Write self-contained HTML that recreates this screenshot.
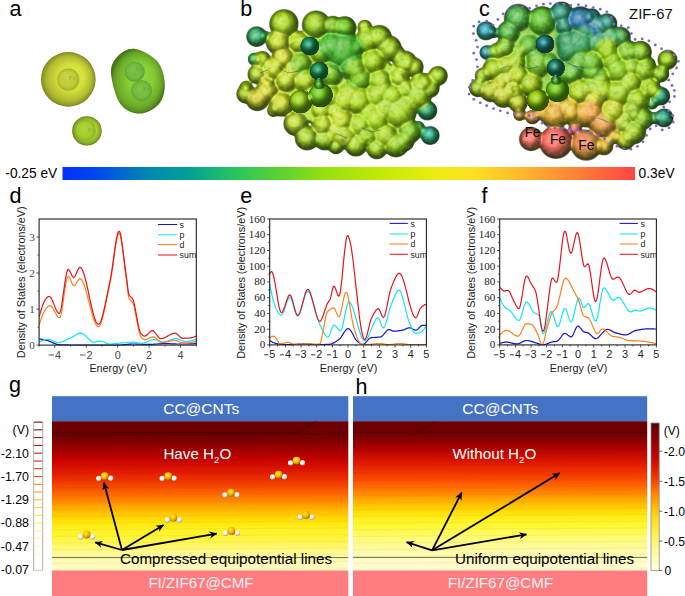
<!DOCTYPE html>
<html><head><meta charset="utf-8"><title>figure</title>
<style>html,body{margin:0;padding:0;background:#fff;overflow:hidden}svg{display:block;font-family:"Liberation Sans",sans-serif}text{font-family:"Liberation Sans",sans-serif}.se{font-family:"Liberation Serif",serif}</style></head><body>
<svg width="685" height="596" viewBox="0 0 685 596">
<defs>
<linearGradient id="cbar" x1="0" x2="1" y1="0" y2="0">
<stop offset="0" stop-color="#0030ff"/><stop offset="0.06" stop-color="#0048ee"/><stop offset="0.15" stop-color="#0088b0"/><stop offset="0.22" stop-color="#00a098"/>
<stop offset="0.30" stop-color="#28c460"/><stop offset="0.38" stop-color="#5cd230"/><stop offset="0.46" stop-color="#96e010"/><stop offset="0.56" stop-color="#c4ea04"/>
<stop offset="0.65" stop-color="#ecec10"/><stop offset="0.72" stop-color="#ffe020"/><stop offset="0.80" stop-color="#ffb82c"/><stop offset="0.88" stop-color="#ff8c34"/><stop offset="1" stop-color="#ff4444"/>
</linearGradient>
<linearGradient id="pot" x1="0" x2="0" y1="0" y2="1"><stop offset="0" stop-color="#6a0000"/><stop offset="0.0801" stop-color="#6c0000"/><stop offset="0.1275" stop-color="#7c0000"/><stop offset="0.1722" stop-color="#960000"/><stop offset="0.2176" stop-color="#b00000"/><stop offset="0.2623" stop-color="#c80400"/><stop offset="0.3071" stop-color="#d81000"/><stop offset="0.3518" stop-color="#e42000"/><stop offset="0.3965" stop-color="#ee3400"/><stop offset="0.4413" stop-color="#f64c00"/><stop offset="0.486" stop-color="#fc6800"/><stop offset="0.5387" stop-color="#ff8c00"/><stop offset="0.5834" stop-color="#ffb000"/><stop offset="0.6282" stop-color="#ffcc00"/><stop offset="0.6729" stop-color="#ffe408"/><stop offset="0.7183" stop-color="#fff020"/><stop offset="0.763" stop-color="#fff430"/><stop offset="0.8077" stop-color="#fff650"/><stop offset="0.8525" stop-color="#fff878"/><stop offset="0.8879" stop-color="#fffa98"/><stop offset="0.9413" stop-color="#fffcb8"/><stop offset="1" stop-color="#fffcc0"/></linearGradient>
<linearGradient id="pot2" x1="0" x2="0" y1="0" y2="1"><stop offset="0" stop-color="#6c0000"/><stop offset="0.0801" stop-color="#6e0000"/><stop offset="0.1275" stop-color="#8a0000"/><stop offset="0.1722" stop-color="#a80000"/><stop offset="0.2176" stop-color="#c40800"/><stop offset="0.2623" stop-color="#d81400"/><stop offset="0.3071" stop-color="#e82400"/><stop offset="0.3518" stop-color="#f43800"/><stop offset="0.3965" stop-color="#fa5000"/><stop offset="0.4413" stop-color="#ff6c00"/><stop offset="0.486" stop-color="#ff8c00"/><stop offset="0.5387" stop-color="#ffb400"/><stop offset="0.5834" stop-color="#ffd000"/><stop offset="0.6282" stop-color="#ffe810"/><stop offset="0.6729" stop-color="#fff428"/><stop offset="0.7183" stop-color="#fff840"/><stop offset="0.763" stop-color="#fffa68"/><stop offset="0.8077" stop-color="#fffa88"/><stop offset="0.8525" stop-color="#fffaa0"/><stop offset="0.8879" stop-color="#fffbb0"/><stop offset="0.9413" stop-color="#fffcc8"/><stop offset="1" stop-color="#fffdd0"/></linearGradient>
<linearGradient id="vbar" x1="0" x2="0" y1="0" y2="1">
<stop offset="0" stop-color="#5a0000"/><stop offset="0.12" stop-color="#900000"/><stop offset="0.25" stop-color="#cc0800"/>
<stop offset="0.36" stop-color="#ee3000"/><stop offset="0.46" stop-color="#ff7800"/><stop offset="0.56" stop-color="#ffb800"/>
<stop offset="0.66" stop-color="#ffe020"/><stop offset="0.80" stop-color="#fff670"/><stop offset="0.92" stop-color="#fffcb8"/><stop offset="1" stop-color="#ffffe8"/>
</linearGradient>
<radialGradient id="gO" cx="0.4" cy="0.35" r="0.7"><stop offset="0" stop-color="#ffee50"/><stop offset="0.4" stop-color="#ffc800"/><stop offset="0.8" stop-color="#d48c00"/><stop offset="1" stop-color="#8a5800"/></radialGradient>
<radialGradient id="gH" cx="0.4" cy="0.35" r="0.7"><stop offset="0" stop-color="#ffffff"/><stop offset="0.55" stop-color="#ececec"/><stop offset="1" stop-color="#8c8c8c"/></radialGradient>
<marker id="ah" viewBox="0 0 10 10" refX="9.4" refY="5" markerWidth="8.4" markerHeight="7.8" orient="auto" markerUnits="userSpaceOnUse"><path d="M0,0.4 L10,5 L0,9.6 L3,5 z" fill="#000"/></marker>


<radialGradient id="sh" cx="0.5" cy="0.5" r="0.5" fx="0.42" fy="0.36">
<stop offset="0" stop-color="#fff" stop-opacity="0.20"/><stop offset="0.45" stop-color="#fff" stop-opacity="0.04"/>
<stop offset="0.7" stop-color="#000" stop-opacity="0.05"/><stop offset="0.9" stop-color="#000" stop-opacity="0.22"/><stop offset="1" stop-color="#000" stop-opacity="0.42"/></radialGradient>
<radialGradient id="shs" cx="0.5" cy="0.5" r="0.5" fx="0.42" fy="0.36">
<stop offset="0" stop-color="#fff" stop-opacity="0.10"/><stop offset="0.5" stop-color="#fff" stop-opacity="0.0"/>
<stop offset="0.8" stop-color="#000" stop-opacity="0.05"/><stop offset="1" stop-color="#000" stop-opacity="0.16"/></radialGradient>
<radialGradient id="shA" cx="0.5" cy="0.5" r="0.5" fx="0.60" fy="0.42">
<stop offset="0" stop-color="#fff" stop-opacity="0.10"/><stop offset="0.35" stop-color="#fff" stop-opacity="0.0"/>
<stop offset="0.6" stop-color="#000" stop-opacity="0.07"/><stop offset="0.8" stop-color="#000" stop-opacity="0.17"/><stop offset="0.93" stop-color="#000" stop-opacity="0.30"/><stop offset="1" stop-color="#000" stop-opacity="0.44"/></radialGradient>
<radialGradient id="shl" cx="0.5" cy="0.5" r="0.5" fx="0.45" fy="0.38">
<stop offset="0" stop-color="#fff" stop-opacity="0.16"/><stop offset="0.45" stop-color="#fff" stop-opacity="0.03"/>
<stop offset="0.72" stop-color="#000" stop-opacity="0.03"/><stop offset="0.9" stop-color="#000" stop-opacity="0.13"/><stop offset="1" stop-color="#000" stop-opacity="0.26"/></radialGradient>
<filter id="goo" x="-10%" y="-10%" width="120%" height="120%" color-interpolation-filters="sRGB">
<feGaussianBlur in="SourceGraphic" stdDeviation="1.6" result="b"/>
<feComponentTransfer in="b" result="g"><feFuncR type="linear" slope="1.05"/><feFuncG type="linear" slope="1.04"/><feFuncB type="linear" slope="0.95"/><feFuncA type="linear" slope="5" intercept="-2"/></feComponentTransfer>
<feComponentTransfer in="g" result="inv"><feFuncA type="linear" slope="-1" intercept="1"/></feComponentTransfer>
<feGaussianBlur in="inv" stdDeviation="2.2" result="invb"/>
<feColorMatrix in="invb" type="matrix" values="0 0 0 0 0.12  0 0 0 0 0.16  0 0 0 0 0  0 0 0 0.5 0" result="shadow"/>
<feComposite in="shadow" in2="g" operator="in" result="ish"/>
<feMerge><feMergeNode in="g"/><feMergeNode in="ish"/></feMerge>
</filter>
<filter id="tex" x="0" y="0" width="100%" height="100%" color-interpolation-filters="sRGB">
<feTurbulence type="fractalNoise" baseFrequency="0.22" numOctaves="2" seed="7" result="n"/>
<feColorMatrix in="n" type="matrix" values="0 0 0 0 0.08  0 0 0 0 0.14  0 0 0 0 0.10  1.6 0 0 0 -0.78" result="dk"/>
<feColorMatrix in="n" type="matrix" values="0 0 0 0 1  0 0 0 0 1  0 0 0 0 0.75  0 1.5 0 0 -0.76" result="lt"/>
<feMerge result="m"><feMergeNode in="dk"/><feMergeNode in="lt"/></feMerge>
<feComposite in="m" in2="SourceAlpha" operator="in"/>
</filter>
<radialGradient id="hg" cx="0.5" cy="0.5" r="0.5">
<stop offset="0" stop-color="#000" stop-opacity="1"/><stop offset="0.3" stop-color="#000" stop-opacity="0.954"/><stop offset="0.5" stop-color="#000" stop-opacity="0.866"/>
<stop offset="0.7" stop-color="#000" stop-opacity="0.714"/><stop offset="0.85" stop-color="#000" stop-opacity="0.527"/><stop offset="0.95" stop-color="#000" stop-opacity="0.312"/><stop offset="1" stop-color="#000" stop-opacity="0"/></radialGradient>
<radialGradient id="hgw" cx="0.5" cy="0.5" r="0.5">
<stop offset="0" stop-color="#ffffff"/><stop offset="0.3" stop-color="#f3f3f3"/><stop offset="0.5" stop-color="#dddddd"/>
<stop offset="0.7" stop-color="#b6b6b6"/><stop offset="0.85" stop-color="#868686"/><stop offset="0.95" stop-color="#505050"/><stop offset="1" stop-color="#000000"/></radialGradient>
<filter id="lit2" x="0" y="0" width="100%" height="100%" color-interpolation-filters="sRGB">
<feColorMatrix in="SourceGraphic" type="matrix" values="0 0 0 0 0  0 0 0 0 0  0 0 0 0 0  1 0 0 0 0" result="hm"/>
<feGaussianBlur in="hm" stdDeviation="0.9" result="h"/>
<feDiffuseLighting in="h" surfaceScale="8" diffuseConstant="1" lighting-color="#ffffff" result="diff"><feDistantLight azimuth="230" elevation="70"/></feDiffuseLighting>
<feColorMatrix in="diff" type="matrix" values="0 0 0 0 0.05  0 0 0 0 0.12  0 0 0 0 0.02  -1.45 0 0 0 1.293" result="dk"/>
<feComponentTransfer in="dk" result="dk"><feFuncA type="table" tableValues="0 0.24 0.42 0.55 0.64 0.70"/></feComponentTransfer>
<feColorMatrix in="diff" type="matrix" values="0 0 0 0 1  0 0 0 0 1  0 0 0 0 0.7  1.8 0 0 0 -1.69" result="lt"/>
<feSpecularLighting in="h" surfaceScale="8" specularConstant="0.32" specularExponent="10" lighting-color="#ffffff" result="spec"><feDistantLight azimuth="230" elevation="62"/></feSpecularLighting>
<feMerge result="m"><feMergeNode in="dk"/><feMergeNode in="lt"/><feMergeNode in="spec"/></feMerge>
<feComponentTransfer in="h" result="mask"><feFuncA type="linear" slope="8" intercept="-0.6"/></feComponentTransfer>
<feComposite in="m" in2="mask" operator="in"/>
</filter>
<filter id="lit" x="-5%" y="-5%" width="110%" height="110%" color-interpolation-filters="sRGB">
<feGaussianBlur in="SourceAlpha" stdDeviation="0.7" result="h"/>
<feDiffuseLighting in="h" surfaceScale="7" diffuseConstant="1" lighting-color="#ffffff" result="diff"><feDistantLight azimuth="230" elevation="62"/></feDiffuseLighting>
<feColorMatrix in="diff" type="matrix" values="0 0 0 0 0.05  0 0 0 0 0.12  0 0 0 0 0.02  -1.7 0 0 0 1.52" result="dk0"/>
<feComponentTransfer in="dk0" result="dk"><feFuncA type="table" tableValues="0 0.24 0.42 0.55 0.64 0.70"/></feComponentTransfer>
<feColorMatrix in="diff" type="matrix" values="0 0 0 0 1  0 0 0 0 1  0 0 0 0 0.8  1.6 0 0 0 -1.42" result="lt"/>
<feSpecularLighting in="h" surfaceScale="7" specularConstant="0.28" specularExponent="14" lighting-color="#ffffff" result="spec"><feDistantLight azimuth="230" elevation="58"/></feSpecularLighting>
<feMerge result="m"><feMergeNode in="dk"/><feMergeNode in="lt"/><feMergeNode in="spec"/></feMerge>
<feComponentTransfer in="h" result="mask"><feFuncA type="linear" slope="8" intercept="-0.6"/></feComponentTransfer>
<feComposite in="m" in2="mask" operator="in"/>
</filter>
<filter id="bl" x="-5%" y="-5%" width="110%" height="110%"><feGaussianBlur stdDeviation="0.55"/></filter>
<filter id="bl2" x="-5%" y="-5%" width="110%" height="110%"><feGaussianBlur stdDeviation="0.4"/></filter>

</defs>
<rect width="685" height="596" fill="#fff"/>
<g filter="url(#bl2)">
<circle cx="68.3" cy="79.4" r="27.3" fill="#d6e23a"/><circle cx="68.3" cy="79.4" r="27.3" fill="url(#shA)"/>
<circle cx="68.3" cy="79.6" r="11" fill="#c3cf38"/><circle cx="68.3" cy="79.6" r="11" fill="url(#shs)"/>
<path d="M135.1,49.0 C141.7,49.9 152.5,55.7 157.4,61.5 C162.3,67.3 164.4,76.7 164.7,83.8 C165.0,90.9 163.2,99.0 159.0,104.0 C154.8,109.0 146.0,113.6 139.5,113.6 C133.0,113.6 125.0,110.6 120.2,103.8 C115.5,97.0 111.4,80.8 111.0,72.8 C110.6,64.8 114.0,60.0 118.0,56.0 C122.0,52.0 128.5,48.1 135.1,49.0Z" fill="#84d032"/><path d="M135.1,49.0 C141.7,49.9 152.5,55.7 157.4,61.5 C162.3,67.3 164.4,76.7 164.7,83.8 C165.0,90.9 163.2,99.0 159.0,104.0 C154.8,109.0 146.0,113.6 139.5,113.6 C133.0,113.6 125.0,110.6 120.2,103.8 C115.5,97.0 111.4,80.8 111.0,72.8 C110.6,64.8 114.0,60.0 118.0,56.0 C122.0,52.0 128.5,48.1 135.1,49.0Z" fill="url(#shA)"/>
<circle cx="134.7" cy="71.7" r="10" fill="#74bc40"/><circle cx="134.7" cy="71.7" r="10" fill="url(#shs)"/>
<circle cx="141.7" cy="90.8" r="10.5" fill="#76be3c"/><circle cx="141.7" cy="90.8" r="10.5" fill="url(#shs)"/>
<circle cx="86.9" cy="130.9" r="14.7" fill="#b0dc30"/><circle cx="86.9" cy="130.9" r="14.7" fill="url(#shA)"/>
<circle cx="85.4" cy="130.4" r="10.4" fill="#a6d030"/><circle cx="85.4" cy="130.4" r="10.4" fill="url(#shs)"/>
</g>
<text class="se" x="68.8" y="80.2" font-size="7" fill="#9aa62c" fill-opacity="0.8">Fe</text>
<text class="se" x="135.8" y="71.4" font-size="7" fill="#5e9c34" fill-opacity="0.8">Fe</text>
<text class="se" x="142.8" y="91.4" font-size="7" fill="#5e9c34" fill-opacity="0.8">Fe</text>
<text class="se" x="87.6" y="132" font-size="7" fill="#86ac26" fill-opacity="0.8">Fe</text><g filter="url(#goo)">
<g transform="translate(343,88) rotate(24)"><ellipse cx="0" cy="0" rx="78" ry="46" fill="#a8d424"/></g>
<circle cx="246.1" cy="93.7" r="9.6" fill="#a8cc2c"/>
<circle cx="295.8" cy="123.4" r="12.0" fill="#bcd838"/>
<circle cx="307.1" cy="137.8" r="12.0" fill="#a8d030"/>
<circle cx="336" cy="146" r="8.0" fill="#90c824"/>
<circle cx="324.7" cy="139.5" r="10.5" fill="#98cc24"/>
<circle cx="246" cy="87" r="6.5" fill="#a4d024"/>
<circle cx="254.1" cy="59" r="6.4" fill="#38b874"/>
<circle cx="256.5" cy="36.5" r="10.0" fill="#3dbe86"/>
<circle cx="266" cy="36" r="5.0" fill="#50c070"/>
<circle cx="427.3" cy="110.5" r="9.6" fill="#2ca87c"/>
<circle cx="430.1" cy="135.4" r="9.2" fill="#2ab0a0"/>
<circle cx="415.3" cy="105.7" r="6.4" fill="#58c060"/>
<circle cx="418" cy="128" r="7.0" fill="#40b870"/>
<circle cx="283.8" cy="23.7" r="14.1" fill="#a9d622"/>
<circle cx="315.9" cy="24.5" r="13.6" fill="#9cd020"/>
<circle cx="332.8" cy="26" r="10.0" fill="#90c828"/>
<circle cx="344.6" cy="27.7" r="11.2" fill="#78c820"/>
<circle cx="364.7" cy="26.9" r="7.2" fill="#a4d420"/>
<circle cx="379.2" cy="37.3" r="12.0" fill="#98d020"/>
<circle cx="396" cy="53.4" r="8.8" fill="#a8d424"/>
<circle cx="413.7" cy="67" r="9.6" fill="#b4da28"/>
<circle cx="437.8" cy="75.8" r="9.6" fill="#a4d420"/>
<circle cx="429.7" cy="88" r="9.6" fill="#a8d824"/>
<circle cx="407.3" cy="89.6" r="10.4" fill="#acd624"/>
<circle cx="383.2" cy="89.6" r="11.2" fill="#a4d420"/>
<circle cx="409.5" cy="131.5" r="11.5" fill="#7cc828"/>
<circle cx="396" cy="144.5" r="12.2" fill="#98d024"/>
<circle cx="376.8" cy="148.5" r="10.3" fill="#a8d428"/>
<circle cx="355.9" cy="145" r="11.0" fill="#a0d024"/>
<circle cx="323.1" cy="125" r="11.2" fill="#b4d428"/>
<circle cx="336" cy="112.1" r="9.6" fill="#c0dc2c"/>
<circle cx="257.3" cy="99.3" r="11.2" fill="#c4c830"/>
<circle cx="266.9" cy="91.2" r="11.2" fill="#d0d034"/>
<circle cx="281.4" cy="104.1" r="12.0" fill="#c8d430"/>
<circle cx="273.4" cy="110.5" r="6.4" fill="#b4d030"/>
<circle cx="257.3" cy="74.2" r="9.6" fill="#b4d028"/>
<circle cx="262.1" cy="59.8" r="8.8" fill="#b0d428"/>
<circle cx="278.2" cy="42.1" r="12.0" fill="#c4dc30"/>
<circle cx="283" cy="58.2" r="11.2" fill="#d4dc38"/>
<circle cx="286.2" cy="80.7" r="11.2" fill="#c0d830"/>
<circle cx="267" cy="82.3" r="8.0" fill="#d0d430"/>
<circle cx="367.9" cy="40.1" r="12.4" fill="#a0d420"/>
<circle cx="388.8" cy="48.2" r="12.4" fill="#a4d424"/>
<circle cx="404.8" cy="62.6" r="11.7" fill="#acd826"/>
<circle cx="417.7" cy="96.3" r="13.2" fill="#a0d020"/>
<circle cx="392.0" cy="96.3" r="13.2" fill="#a8d820"/>
<circle cx="375.9" cy="96.3" r="12.4" fill="#a4d41c"/>
<circle cx="385.6" cy="109.2" r="12.4" fill="#a8d820"/>
<circle cx="321.3" cy="51.4" r="12.4" fill="#98d020"/>
<circle cx="331.0" cy="73.9" r="12.4" fill="#78c820"/>
<circle cx="305.3" cy="80.3" r="12.4" fill="#b0d820"/>
<circle cx="350.2" cy="93.1" r="12.4" fill="#98d020"/>
<circle cx="321.3" cy="109.2" r="10.9" fill="#b8dc28"/>
<circle cx="359.9" cy="125.2" r="12.4" fill="#a8d424"/>
<circle cx="385.6" cy="134.9" r="12.4" fill="#a0d024"/>
<circle cx="298.9" cy="41.7" r="10.9" fill="#b8dc28"/>
<circle cx="294.0" cy="69.0" r="10.9" fill="#c8dc30"/>
<circle cx="331.0" cy="96.3" r="11.7" fill="#a0d420"/>
<circle cx="420.9" cy="84.1" r="10.9" fill="#a8d424"/>
<circle cx="273.2" cy="69.0" r="10.9" fill="#c0d82c"/>
<circle cx="404.8" cy="106.0" r="11.7" fill="#a0d420"/>
<circle cx="369.5" cy="112.4" r="11.7" fill="#a8d820"/>
<circle cx="337.4" cy="131.7" r="11.7" fill="#b0d828"/>
<circle cx="313.3" cy="96.3" r="10.9" fill="#b8d82c"/>
<circle cx="353.5" cy="48.2" r="10.9" fill="#70c424"/>
<circle cx="404" cy="141" r="10.3" fill="#90cc24"/>
<circle cx="352.3" cy="65.8" r="14.6" fill="#4cb828"/>
<circle cx="359.9" cy="78.7" r="12.1" fill="#70c424"/>
<circle cx="332.8" cy="46.9" r="14.8" fill="#48b828"/>
<circle cx="343" cy="50.1" r="19.4" fill="#40b028"/>
<circle cx="300.7" cy="63" r="10.9" fill="#84c820"/>
<circle cx="355.9" cy="71" r="10.9" fill="#88cc20"/>
<circle cx="380" cy="80.7" r="11.9" fill="#a4d420"/>
<circle cx="399.2" cy="77.4" r="10.0" fill="#b0d828"/>
<circle cx="424.9" cy="82.3" r="9.1" fill="#a8d424"/>
<circle cx="359.1" cy="100.9" r="14.6" fill="#a4d41c"/>
<circle cx="344.6" cy="100.9" r="12.8" fill="#b0d820"/>
<circle cx="341.4" cy="120.2" r="12.8" fill="#c0dc28"/>
<circle cx="344.6" cy="136.2" r="12.5" fill="#b0d428"/>
<circle cx="367.1" cy="136.2" r="10.9" fill="#9cd020"/>
<circle cx="399.2" cy="112.1" r="16.5" fill="#a0d420"/>
<circle cx="376.8" cy="120.2" r="12.8" fill="#a8d81c"/>
<circle cx="373.5" cy="61.4" r="12.8" fill="#a0d41c"/>
</g>
<g filter="url(#lit2)">
<rect x="228" y="0" width="228" height="166" fill="#000"/>
<g transform="translate(343,88) rotate(24)"><ellipse cx="0" cy="0" rx="78" ry="46" fill="#686868"/></g>
<circle cx="246.1" cy="93.7" r="10.1" fill="url(#hgw)" opacity="0.77" style="mix-blend-mode:lighten"/>
<circle cx="295.8" cy="123.4" r="12.6" fill="url(#hgw)" opacity="0.96" style="mix-blend-mode:lighten"/>
<circle cx="307.1" cy="137.8" r="12.6" fill="url(#hgw)" opacity="0.96" style="mix-blend-mode:lighten"/>
<circle cx="336" cy="146" r="8.4" fill="url(#hgw)" opacity="0.64" style="mix-blend-mode:lighten"/>
<circle cx="324.7" cy="139.5" r="11.0" fill="url(#hgw)" opacity="0.84" style="mix-blend-mode:lighten"/>
<circle cx="246" cy="87" r="6.8" fill="url(#hgw)" opacity="0.52" style="mix-blend-mode:lighten"/>
<circle cx="254.1" cy="59" r="6.7" fill="url(#hgw)" opacity="0.51" style="mix-blend-mode:lighten"/>
<circle cx="256.5" cy="36.5" r="10.5" fill="url(#hgw)" opacity="0.80" style="mix-blend-mode:lighten"/>
<circle cx="266" cy="36" r="5.2" fill="url(#hgw)" opacity="0.40" style="mix-blend-mode:lighten"/>
<circle cx="427.3" cy="110.5" r="10.1" fill="url(#hgw)" opacity="0.77" style="mix-blend-mode:lighten"/>
<circle cx="430.1" cy="135.4" r="9.7" fill="url(#hgw)" opacity="0.74" style="mix-blend-mode:lighten"/>
<circle cx="415.3" cy="105.7" r="6.7" fill="url(#hgw)" opacity="0.51" style="mix-blend-mode:lighten"/>
<circle cx="418" cy="128" r="7.4" fill="url(#hgw)" opacity="0.56" style="mix-blend-mode:lighten"/>
<circle cx="283.8" cy="23.7" r="14.8" fill="url(#hgw)" opacity="1.00" style="mix-blend-mode:lighten"/>
<circle cx="315.9" cy="24.5" r="14.3" fill="url(#hgw)" opacity="1.00" style="mix-blend-mode:lighten"/>
<circle cx="332.8" cy="26" r="10.5" fill="url(#hgw)" opacity="0.80" style="mix-blend-mode:lighten"/>
<circle cx="344.6" cy="27.7" r="11.8" fill="url(#hgw)" opacity="0.90" style="mix-blend-mode:lighten"/>
<circle cx="364.7" cy="26.9" r="7.6" fill="url(#hgw)" opacity="0.58" style="mix-blend-mode:lighten"/>
<circle cx="379.2" cy="37.3" r="12.6" fill="url(#hgw)" opacity="0.96" style="mix-blend-mode:lighten"/>
<circle cx="396" cy="53.4" r="9.2" fill="url(#hgw)" opacity="0.70" style="mix-blend-mode:lighten"/>
<circle cx="413.7" cy="67" r="10.1" fill="url(#hgw)" opacity="0.77" style="mix-blend-mode:lighten"/>
<circle cx="437.8" cy="75.8" r="10.1" fill="url(#hgw)" opacity="0.77" style="mix-blend-mode:lighten"/>
<circle cx="429.7" cy="88" r="10.1" fill="url(#hgw)" opacity="0.77" style="mix-blend-mode:lighten"/>
<circle cx="407.3" cy="89.6" r="10.9" fill="url(#hgw)" opacity="0.83" style="mix-blend-mode:lighten"/>
<circle cx="383.2" cy="89.6" r="11.8" fill="url(#hgw)" opacity="0.90" style="mix-blend-mode:lighten"/>
<circle cx="409.5" cy="131.5" r="12.1" fill="url(#hgw)" opacity="0.92" style="mix-blend-mode:lighten"/>
<circle cx="396" cy="144.5" r="12.8" fill="url(#hgw)" opacity="0.98" style="mix-blend-mode:lighten"/>
<circle cx="376.8" cy="148.5" r="10.8" fill="url(#hgw)" opacity="0.82" style="mix-blend-mode:lighten"/>
<circle cx="355.9" cy="145" r="11.6" fill="url(#hgw)" opacity="0.88" style="mix-blend-mode:lighten"/>
<circle cx="323.1" cy="125" r="11.8" fill="url(#hgw)" opacity="0.90" style="mix-blend-mode:lighten"/>
<circle cx="336" cy="112.1" r="10.1" fill="url(#hgw)" opacity="0.77" style="mix-blend-mode:lighten"/>
<circle cx="257.3" cy="99.3" r="11.8" fill="url(#hgw)" opacity="0.90" style="mix-blend-mode:lighten"/>
<circle cx="266.9" cy="91.2" r="11.8" fill="url(#hgw)" opacity="0.90" style="mix-blend-mode:lighten"/>
<circle cx="281.4" cy="104.1" r="12.6" fill="url(#hgw)" opacity="0.96" style="mix-blend-mode:lighten"/>
<circle cx="273.4" cy="110.5" r="6.7" fill="url(#hgw)" opacity="0.51" style="mix-blend-mode:lighten"/>
<circle cx="257.3" cy="74.2" r="10.1" fill="url(#hgw)" opacity="0.77" style="mix-blend-mode:lighten"/>
<circle cx="262.1" cy="59.8" r="9.2" fill="url(#hgw)" opacity="0.70" style="mix-blend-mode:lighten"/>
<circle cx="278.2" cy="42.1" r="12.6" fill="url(#hgw)" opacity="0.96" style="mix-blend-mode:lighten"/>
<circle cx="283" cy="58.2" r="11.8" fill="url(#hgw)" opacity="0.90" style="mix-blend-mode:lighten"/>
<circle cx="286.2" cy="80.7" r="11.8" fill="url(#hgw)" opacity="0.90" style="mix-blend-mode:lighten"/>
<circle cx="267" cy="82.3" r="8.4" fill="url(#hgw)" opacity="0.64" style="mix-blend-mode:lighten"/>
<circle cx="367.9" cy="40.1" r="13.1" fill="url(#hgw)" opacity="0.87" style="mix-blend-mode:lighten"/>
<circle cx="388.8" cy="48.2" r="13.1" fill="url(#hgw)" opacity="0.87" style="mix-blend-mode:lighten"/>
<circle cx="404.8" cy="62.6" r="12.4" fill="url(#hgw)" opacity="0.82" style="mix-blend-mode:lighten"/>
<circle cx="417.7" cy="96.3" r="13.9" fill="url(#hgw)" opacity="0.93" style="mix-blend-mode:lighten"/>
<circle cx="392.0" cy="96.3" r="13.9" fill="url(#hgw)" opacity="0.93" style="mix-blend-mode:lighten"/>
<circle cx="375.9" cy="96.3" r="13.1" fill="url(#hgw)" opacity="0.87" style="mix-blend-mode:lighten"/>
<circle cx="385.6" cy="109.2" r="13.1" fill="url(#hgw)" opacity="0.87" style="mix-blend-mode:lighten"/>
<circle cx="321.3" cy="51.4" r="13.1" fill="url(#hgw)" opacity="0.87" style="mix-blend-mode:lighten"/>
<circle cx="331.0" cy="73.9" r="13.1" fill="url(#hgw)" opacity="0.87" style="mix-blend-mode:lighten"/>
<circle cx="305.3" cy="80.3" r="13.1" fill="url(#hgw)" opacity="0.87" style="mix-blend-mode:lighten"/>
<circle cx="350.2" cy="93.1" r="13.1" fill="url(#hgw)" opacity="0.87" style="mix-blend-mode:lighten"/>
<circle cx="321.3" cy="109.2" r="11.5" fill="url(#hgw)" opacity="0.77" style="mix-blend-mode:lighten"/>
<circle cx="359.9" cy="125.2" r="13.1" fill="url(#hgw)" opacity="0.87" style="mix-blend-mode:lighten"/>
<circle cx="385.6" cy="134.9" r="13.1" fill="url(#hgw)" opacity="0.87" style="mix-blend-mode:lighten"/>
<circle cx="298.9" cy="41.7" r="11.5" fill="url(#hgw)" opacity="0.77" style="mix-blend-mode:lighten"/>
<circle cx="294.0" cy="69.0" r="11.5" fill="url(#hgw)" opacity="0.77" style="mix-blend-mode:lighten"/>
<circle cx="331.0" cy="96.3" r="12.4" fill="url(#hgw)" opacity="0.82" style="mix-blend-mode:lighten"/>
<circle cx="420.9" cy="84.1" r="11.5" fill="url(#hgw)" opacity="0.77" style="mix-blend-mode:lighten"/>
<circle cx="273.2" cy="69.0" r="11.5" fill="url(#hgw)" opacity="0.77" style="mix-blend-mode:lighten"/>
<circle cx="404.8" cy="106.0" r="12.4" fill="url(#hgw)" opacity="0.82" style="mix-blend-mode:lighten"/>
<circle cx="369.5" cy="112.4" r="12.4" fill="url(#hgw)" opacity="0.82" style="mix-blend-mode:lighten"/>
<circle cx="337.4" cy="131.7" r="12.4" fill="url(#hgw)" opacity="0.82" style="mix-blend-mode:lighten"/>
<circle cx="313.3" cy="96.3" r="11.5" fill="url(#hgw)" opacity="0.77" style="mix-blend-mode:lighten"/>
<circle cx="353.5" cy="48.2" r="11.5" fill="url(#hgw)" opacity="0.77" style="mix-blend-mode:lighten"/>
<circle cx="404" cy="141" r="10.8" fill="url(#hgw)" opacity="0.72" style="mix-blend-mode:lighten"/>
<circle cx="352.3" cy="65.8" r="15.4" fill="url(#hgw)" opacity="1.00" style="mix-blend-mode:lighten"/>
<circle cx="359.9" cy="78.7" r="12.7" fill="url(#hgw)" opacity="0.85" style="mix-blend-mode:lighten"/>
<circle cx="332.8" cy="46.9" r="15.6" fill="url(#hgw)" opacity="1.00" style="mix-blend-mode:lighten"/>
<circle cx="343" cy="50.1" r="20.4" fill="url(#hgw)" opacity="1.00" style="mix-blend-mode:lighten"/>
<circle cx="300.7" cy="63" r="11.5" fill="url(#hgw)" opacity="0.77" style="mix-blend-mode:lighten"/>
<circle cx="355.9" cy="71" r="11.5" fill="url(#hgw)" opacity="0.77" style="mix-blend-mode:lighten"/>
<circle cx="380" cy="80.7" r="12.5" fill="url(#hgw)" opacity="0.83" style="mix-blend-mode:lighten"/>
<circle cx="399.2" cy="77.4" r="10.6" fill="url(#hgw)" opacity="0.70" style="mix-blend-mode:lighten"/>
<circle cx="424.9" cy="82.3" r="9.6" fill="url(#hgw)" opacity="0.64" style="mix-blend-mode:lighten"/>
<circle cx="359.1" cy="100.9" r="15.4" fill="url(#hgw)" opacity="1.00" style="mix-blend-mode:lighten"/>
<circle cx="344.6" cy="100.9" r="13.4" fill="url(#hgw)" opacity="0.90" style="mix-blend-mode:lighten"/>
<circle cx="341.4" cy="120.2" r="13.4" fill="url(#hgw)" opacity="0.90" style="mix-blend-mode:lighten"/>
<circle cx="344.6" cy="136.2" r="13.2" fill="url(#hgw)" opacity="0.88" style="mix-blend-mode:lighten"/>
<circle cx="367.1" cy="136.2" r="11.5" fill="url(#hgw)" opacity="0.77" style="mix-blend-mode:lighten"/>
<circle cx="399.2" cy="112.1" r="17.4" fill="url(#hgw)" opacity="1.00" style="mix-blend-mode:lighten"/>
<circle cx="376.8" cy="120.2" r="13.4" fill="url(#hgw)" opacity="0.90" style="mix-blend-mode:lighten"/>
<circle cx="373.5" cy="61.4" r="13.4" fill="url(#hgw)" opacity="0.90" style="mix-blend-mode:lighten"/>
</g>
<g filter="url(#tex)" opacity="0.3">
<g transform="translate(343,88) rotate(24)"><ellipse cx="0" cy="0" rx="78" ry="46" fill="#a8d424"/></g>
<circle cx="246.1" cy="93.7" r="8.1"/>
<circle cx="295.8" cy="123.4" r="10.5"/>
<circle cx="307.1" cy="137.8" r="10.5"/>
<circle cx="336" cy="146" r="6.5"/>
<circle cx="324.7" cy="139.5" r="9.0"/>
<circle cx="246" cy="87" r="5.0"/>
<circle cx="254.1" cy="59" r="4.9"/>
<circle cx="256.5" cy="36.5" r="8.5"/>
<circle cx="266" cy="36" r="3.5"/>
<circle cx="427.3" cy="110.5" r="8.1"/>
<circle cx="430.1" cy="135.4" r="7.7"/>
<circle cx="415.3" cy="105.7" r="4.9"/>
<circle cx="418" cy="128" r="5.5"/>
<circle cx="283.8" cy="23.7" r="12.6"/>
<circle cx="315.9" cy="24.5" r="12.1"/>
<circle cx="332.8" cy="26" r="8.5"/>
<circle cx="344.6" cy="27.7" r="9.7"/>
<circle cx="364.7" cy="26.9" r="5.7"/>
<circle cx="379.2" cy="37.3" r="10.5"/>
<circle cx="396" cy="53.4" r="7.3"/>
<circle cx="413.7" cy="67" r="8.1"/>
<circle cx="437.8" cy="75.8" r="8.1"/>
<circle cx="429.7" cy="88" r="8.1"/>
<circle cx="407.3" cy="89.6" r="8.9"/>
<circle cx="383.2" cy="89.6" r="9.7"/>
<circle cx="409.5" cy="131.5" r="10.0"/>
<circle cx="396" cy="144.5" r="10.7"/>
<circle cx="376.8" cy="148.5" r="8.8"/>
<circle cx="355.9" cy="145" r="9.5"/>
<circle cx="323.1" cy="125" r="9.7"/>
<circle cx="336" cy="112.1" r="8.1"/>
<circle cx="257.3" cy="99.3" r="9.7"/>
<circle cx="266.9" cy="91.2" r="9.7"/>
<circle cx="281.4" cy="104.1" r="10.5"/>
<circle cx="273.4" cy="110.5" r="4.9"/>
<circle cx="257.3" cy="74.2" r="8.1"/>
<circle cx="262.1" cy="59.8" r="7.3"/>
<circle cx="278.2" cy="42.1" r="10.5"/>
<circle cx="283" cy="58.2" r="9.7"/>
<circle cx="286.2" cy="80.7" r="9.7"/>
<circle cx="267" cy="82.3" r="6.5"/>
<circle cx="367.9" cy="40.1" r="10.9"/>
<circle cx="388.8" cy="48.2" r="10.9"/>
<circle cx="404.8" cy="62.6" r="10.2"/>
<circle cx="417.7" cy="96.3" r="11.7"/>
<circle cx="392.0" cy="96.3" r="11.7"/>
<circle cx="375.9" cy="96.3" r="10.9"/>
<circle cx="385.6" cy="109.2" r="10.9"/>
<circle cx="321.3" cy="51.4" r="10.9"/>
<circle cx="331.0" cy="73.9" r="10.9"/>
<circle cx="305.3" cy="80.3" r="10.9"/>
<circle cx="350.2" cy="93.1" r="10.9"/>
<circle cx="321.3" cy="109.2" r="9.4"/>
<circle cx="359.9" cy="125.2" r="10.9"/>
<circle cx="385.6" cy="134.9" r="10.9"/>
<circle cx="298.9" cy="41.7" r="9.4"/>
<circle cx="294.0" cy="69.0" r="9.4"/>
<circle cx="331.0" cy="96.3" r="10.2"/>
<circle cx="420.9" cy="84.1" r="9.4"/>
<circle cx="273.2" cy="69.0" r="9.4"/>
<circle cx="404.8" cy="106.0" r="10.2"/>
<circle cx="369.5" cy="112.4" r="10.2"/>
<circle cx="337.4" cy="131.7" r="10.2"/>
<circle cx="313.3" cy="96.3" r="9.4"/>
<circle cx="353.5" cy="48.2" r="9.4"/>
<circle cx="404" cy="141" r="8.8"/>
<circle cx="352.3" cy="65.8" r="13.1"/>
<circle cx="359.9" cy="78.7" r="10.6"/>
<circle cx="332.8" cy="46.9" r="13.3"/>
<circle cx="343" cy="50.1" r="17.9"/>
<circle cx="300.7" cy="63" r="9.4"/>
<circle cx="355.9" cy="71" r="9.4"/>
<circle cx="380" cy="80.7" r="10.4"/>
<circle cx="399.2" cy="77.4" r="8.5"/>
<circle cx="424.9" cy="82.3" r="7.6"/>
<circle cx="359.1" cy="100.9" r="13.1"/>
<circle cx="344.6" cy="100.9" r="11.3"/>
<circle cx="341.4" cy="120.2" r="11.3"/>
<circle cx="344.6" cy="136.2" r="11.0"/>
<circle cx="367.1" cy="136.2" r="9.4"/>
<circle cx="399.2" cy="112.1" r="15.0"/>
<circle cx="376.8" cy="120.2" r="11.3"/>
<circle cx="373.5" cy="61.4" r="11.3"/>
</g>
<g fill="none" stroke="#1a2a80" stroke-opacity="0.45" stroke-width="1" stroke-linecap="round" filter="url(#bl2)"><path d="M330,66 l10,6 l8,10 M338,72 l12,3 M362,128 l10,4 l8,-2 M280,68 l8,5 l12,-2 M268,70 l-8,3 M347,138 l-10,-4 M306,90 l8,8"/></g>
<g filter="url(#bl2)">
<circle cx="320.7" cy="95.3" r="12" fill="#6cc818"/>
<circle cx="300.7" cy="101.7" r="11.6" fill="#9cd414"/>
<circle cx="319.1" cy="84" r="5" fill="#50c030"/>
<circle cx="309.8" cy="46.1" r="9.3" fill="#1c9a68"/>
<circle cx="319.1" cy="71" r="9.2" fill="#1c9860"/>
</g>
<g filter="url(#lit)">
<circle cx="320.7" cy="95.3" r="12.4" fill="url(#hg)"/>
<circle cx="300.7" cy="101.7" r="12.0" fill="url(#hg)"/>
<circle cx="319.1" cy="84" r="5.4" fill="url(#hg)"/>
<circle cx="309.8" cy="46.1" r="9.700000000000001" fill="url(#hg)"/>
<circle cx="319.1" cy="71" r="9.6" fill="url(#hg)"/>
</g><g filter="url(#goo)">
<g transform="translate(572,68) rotate(18)"><ellipse cx="0" cy="0" rx="78" ry="44" fill="#80c428"/></g>
<circle cx="485.9" cy="30.7" r="9.3" fill="#30a6cc"/>
<circle cx="486.7" cy="52.4" r="7.2" fill="#30a0c4"/>
<circle cx="494" cy="33" r="5.0" fill="#38a0a0"/>
<circle cx="660.6" cy="95.9" r="9.2" fill="#30a888"/>
<circle cx="664" cy="117.8" r="9.2" fill="#2ca898"/>
<circle cx="652.3" cy="103.5" r="5.9" fill="#50b870"/>
<circle cx="654" cy="118" r="6.0" fill="#48b080"/>
<circle cx="477.8" cy="88" r="8.8" fill="#a0c830"/>
<circle cx="490.7" cy="91.2" r="10.4" fill="#b4c830"/>
<circle cx="503.5" cy="96.1" r="11.2" fill="#c4cc30"/>
<circle cx="518" cy="102.5" r="9.6" fill="#c0d028"/>
<circle cx="519.6" cy="114.5" r="6.4" fill="#d8b038"/>
<circle cx="531" cy="138.9" r="11.6" fill="#f47070"/>
<circle cx="555.9" cy="142" r="16.2" fill="#f26464"/>
<circle cx="586.2" cy="145" r="15.0" fill="#e89a48"/>
<circle cx="604" cy="146" r="9.0" fill="#e0b038"/>
<circle cx="583.6" cy="142.4" r="8.0" fill="#e27860"/>
<circle cx="575" cy="128.7" r="6.7" fill="#d86070"/>
<circle cx="633.8" cy="132" r="11.7" fill="#a8d028"/>
<circle cx="625.4" cy="140.4" r="9.2" fill="#b0d028"/>
<circle cx="613.6" cy="135.4" r="8.4" fill="#d8c830"/>
<circle cx="518" cy="17.8" r="13.6" fill="#50b850"/>
<circle cx="508.4" cy="32.3" r="11.2" fill="#58bc48"/>
<circle cx="505.1" cy="46.8" r="9.6" fill="#80c830"/>
<circle cx="497.1" cy="51.6" r="8.8" fill="#90cc28"/>
<circle cx="542.1" cy="21.1" r="14.5" fill="#5cc030"/>
<circle cx="561.4" cy="13" r="11.2" fill="#309888"/>
<circle cx="564.6" cy="25.9" r="9.6" fill="#2c9478"/>
<circle cx="580.1" cy="20.1" r="13.4" fill="#2878b8"/>
<circle cx="591.8" cy="16.8" r="8.4" fill="#2c84b0"/>
<circle cx="606.9" cy="23.5" r="10.0" fill="#38a090"/>
<circle cx="620.4" cy="36.9" r="10.0" fill="#58b850"/>
<circle cx="640.5" cy="52" r="10.9" fill="#90cc28"/>
<circle cx="632.1" cy="67.1" r="10.0" fill="#98d020"/>
<circle cx="667.4" cy="59.6" r="9.7" fill="#98d01c"/>
<circle cx="660.6" cy="73.9" r="8.4" fill="#90cc20"/>
<circle cx="648.9" cy="63.8" r="6.7" fill="#88c828"/>
<circle cx="637.1" cy="100.1" r="12.6" fill="#a8d41c"/>
<circle cx="642.2" cy="118.6" r="10.9" fill="#88c828"/>
<circle cx="493.9" cy="69.2" r="11.2" fill="#a8d020"/>
<circle cx="482.7" cy="75.7" r="8.0" fill="#a0cc28"/>
<circle cx="518" cy="75.7" r="11.2" fill="#b8d820"/>
<circle cx="505.1" cy="80.5" r="9.6" fill="#c8d428"/>
<circle cx="598" cy="27" r="11.4" fill="#34989a"/>
<circle cx="611" cy="39" r="11.4" fill="#48b068"/>
<circle cx="598" cy="43" r="12.5" fill="#3ca870"/>
<circle cx="590" cy="32" r="10.3" fill="#2c84b0"/>
<circle cx="513" cy="90" r="10.3" fill="#b8d028"/>
<circle cx="632" cy="112" r="11.4" fill="#98cc28"/>
<circle cx="622" cy="122" r="10.3" fill="#a0d028"/>
<circle cx="500" cy="84" r="9.1" fill="#c0d02c"/>
<circle cx="628" cy="52" r="11.4" fill="#80c828"/>
<circle cx="645" cy="70" r="11.4" fill="#98d020"/>
<circle cx="630" cy="82" r="12.5" fill="#a0d020"/>
<circle cx="650" cy="88" r="10.3" fill="#a0d41c"/>
<circle cx="612" cy="60" r="11.4" fill="#88cc20"/>
<circle cx="600" cy="78" r="11.4" fill="#90cc20"/>
<circle cx="585" cy="30" r="10.3" fill="#2870c0"/>
<circle cx="548" cy="62" r="10.3" fill="#60b838"/>
<circle cx="516" cy="62" r="10.3" fill="#a0d020"/>
<circle cx="505" cy="66" r="10.3" fill="#b0d424"/>
<circle cx="560" cy="100" r="10.3" fill="#c8d028"/>
<circle cx="545" cy="112" r="9.1" fill="#d8c030"/>
<circle cx="580.1" cy="43.6" r="17.1" fill="#309c60"/>
<circle cx="567.8" cy="41.9" r="12.5" fill="#289060"/>
<circle cx="529.2" cy="45.1" r="10.9" fill="#60bc38"/>
<circle cx="537.3" cy="59.6" r="11.9" fill="#58b838"/>
<circle cx="519.6" cy="51.6" r="7.3" fill="#90cc20"/>
<circle cx="567.8" cy="72.4" r="11.4" fill="#70c428"/>
<circle cx="569" cy="50.5" r="12.5" fill="#2c9860"/>
<circle cx="581" cy="60" r="12.5" fill="#38a848"/>
<circle cx="592" cy="71" r="11.4" fill="#58b830"/>
<circle cx="591.8" cy="62.1" r="13.3" fill="#70c028"/>
<circle cx="576.7" cy="67.1" r="11.4" fill="#60bc30"/>
<circle cx="618.7" cy="70.5" r="13.3" fill="#a8d420"/>
<circle cx="618.1" cy="69.8" r="10.9" fill="#90cc20"/>
<circle cx="537.5" cy="66.3" r="12.0" fill="#78c428"/>
<circle cx="530.5" cy="83.8" r="12.0" fill="#a8d020"/>
<circle cx="572.6" cy="75" r="10.0" fill="#60bc30"/>
<circle cx="580.1" cy="91.8" r="13.3" fill="#b0d420"/>
<circle cx="598.5" cy="90.1" r="13.3" fill="#a8d424"/>
<circle cx="618.7" cy="93.4" r="14.4" fill="#a0d020"/>
<circle cx="590.1" cy="87.3" r="10.0" fill="#98d020"/>
<circle cx="579.6" cy="94.3" r="10.0" fill="#a8d420"/>
<circle cx="604.1" cy="90.8" r="12.0" fill="#a4d420"/>
<circle cx="621.6" cy="90.8" r="12.0" fill="#a0d020"/>
<circle cx="593.5" cy="101.8" r="11.4" fill="#c8d428"/>
<circle cx="554.9" cy="113.7" r="14.6" fill="#e0b830"/>
<circle cx="569.4" cy="108.9" r="11.4" fill="#d8c030"/>
<circle cx="572.6" cy="113.6" r="11.4" fill="#e0c030"/>
<circle cx="586.8" cy="113.6" r="13.3" fill="#e0b030"/>
<circle cx="593.6" cy="113.6" r="11.4" fill="#e8a040"/>
<circle cx="603.6" cy="123.6" r="14.4" fill="#e09848"/>
<circle cx="532.4" cy="117" r="7.3" fill="#e09048"/>
<circle cx="555" cy="115.3" r="11.4" fill="#e0a838"/>
<circle cx="613.6" cy="110.2" r="12.4" fill="#c0d028"/>
<circle cx="606.9" cy="50.4" r="11.9" fill="#98d018"/>
</g>
<g filter="url(#lit2)">
<rect x="462" y="0" width="223" height="166" fill="#000"/>
<g transform="translate(572,68) rotate(18)"><ellipse cx="0" cy="0" rx="78" ry="44" fill="#686868"/></g>
<circle cx="485.9" cy="30.7" r="9.8" fill="url(#hgw)" opacity="0.74" style="mix-blend-mode:lighten"/>
<circle cx="486.7" cy="52.4" r="7.6" fill="url(#hgw)" opacity="0.58" style="mix-blend-mode:lighten"/>
<circle cx="494" cy="33" r="5.2" fill="url(#hgw)" opacity="0.40" style="mix-blend-mode:lighten"/>
<circle cx="660.6" cy="95.9" r="9.7" fill="url(#hgw)" opacity="0.74" style="mix-blend-mode:lighten"/>
<circle cx="664" cy="117.8" r="9.7" fill="url(#hgw)" opacity="0.74" style="mix-blend-mode:lighten"/>
<circle cx="652.3" cy="103.5" r="6.2" fill="url(#hgw)" opacity="0.47" style="mix-blend-mode:lighten"/>
<circle cx="654" cy="118" r="6.3" fill="url(#hgw)" opacity="0.48" style="mix-blend-mode:lighten"/>
<circle cx="477.8" cy="88" r="9.2" fill="url(#hgw)" opacity="0.70" style="mix-blend-mode:lighten"/>
<circle cx="490.7" cy="91.2" r="10.9" fill="url(#hgw)" opacity="0.83" style="mix-blend-mode:lighten"/>
<circle cx="503.5" cy="96.1" r="11.8" fill="url(#hgw)" opacity="0.90" style="mix-blend-mode:lighten"/>
<circle cx="518" cy="102.5" r="10.1" fill="url(#hgw)" opacity="0.77" style="mix-blend-mode:lighten"/>
<circle cx="519.6" cy="114.5" r="6.7" fill="url(#hgw)" opacity="0.51" style="mix-blend-mode:lighten"/>
<circle cx="531" cy="138.9" r="12.2" fill="url(#hgw)" opacity="0.93" style="mix-blend-mode:lighten"/>
<circle cx="555.9" cy="142" r="17.0" fill="url(#hgw)" opacity="1.00" style="mix-blend-mode:lighten"/>
<circle cx="586.2" cy="145" r="15.8" fill="url(#hgw)" opacity="1.00" style="mix-blend-mode:lighten"/>
<circle cx="604" cy="146" r="9.5" fill="url(#hgw)" opacity="0.72" style="mix-blend-mode:lighten"/>
<circle cx="583.6" cy="142.4" r="8.4" fill="url(#hgw)" opacity="0.64" style="mix-blend-mode:lighten"/>
<circle cx="575" cy="128.7" r="7.0" fill="url(#hgw)" opacity="0.54" style="mix-blend-mode:lighten"/>
<circle cx="633.8" cy="132" r="12.3" fill="url(#hgw)" opacity="0.94" style="mix-blend-mode:lighten"/>
<circle cx="625.4" cy="140.4" r="9.7" fill="url(#hgw)" opacity="0.74" style="mix-blend-mode:lighten"/>
<circle cx="613.6" cy="135.4" r="8.8" fill="url(#hgw)" opacity="0.67" style="mix-blend-mode:lighten"/>
<circle cx="518" cy="17.8" r="14.3" fill="url(#hgw)" opacity="1.00" style="mix-blend-mode:lighten"/>
<circle cx="508.4" cy="32.3" r="11.8" fill="url(#hgw)" opacity="0.90" style="mix-blend-mode:lighten"/>
<circle cx="505.1" cy="46.8" r="10.1" fill="url(#hgw)" opacity="0.77" style="mix-blend-mode:lighten"/>
<circle cx="497.1" cy="51.6" r="9.2" fill="url(#hgw)" opacity="0.70" style="mix-blend-mode:lighten"/>
<circle cx="542.1" cy="21.1" r="15.2" fill="url(#hgw)" opacity="1.00" style="mix-blend-mode:lighten"/>
<circle cx="561.4" cy="13" r="11.8" fill="url(#hgw)" opacity="0.90" style="mix-blend-mode:lighten"/>
<circle cx="564.6" cy="25.9" r="10.1" fill="url(#hgw)" opacity="0.77" style="mix-blend-mode:lighten"/>
<circle cx="580.1" cy="20.1" r="14.1" fill="url(#hgw)" opacity="1.00" style="mix-blend-mode:lighten"/>
<circle cx="591.8" cy="16.8" r="8.8" fill="url(#hgw)" opacity="0.67" style="mix-blend-mode:lighten"/>
<circle cx="606.9" cy="23.5" r="10.5" fill="url(#hgw)" opacity="0.80" style="mix-blend-mode:lighten"/>
<circle cx="620.4" cy="36.9" r="10.5" fill="url(#hgw)" opacity="0.80" style="mix-blend-mode:lighten"/>
<circle cx="640.5" cy="52" r="11.4" fill="url(#hgw)" opacity="0.87" style="mix-blend-mode:lighten"/>
<circle cx="632.1" cy="67.1" r="10.5" fill="url(#hgw)" opacity="0.80" style="mix-blend-mode:lighten"/>
<circle cx="667.4" cy="59.6" r="10.2" fill="url(#hgw)" opacity="0.78" style="mix-blend-mode:lighten"/>
<circle cx="660.6" cy="73.9" r="8.8" fill="url(#hgw)" opacity="0.67" style="mix-blend-mode:lighten"/>
<circle cx="648.9" cy="63.8" r="7.0" fill="url(#hgw)" opacity="0.54" style="mix-blend-mode:lighten"/>
<circle cx="637.1" cy="100.1" r="13.2" fill="url(#hgw)" opacity="1.00" style="mix-blend-mode:lighten"/>
<circle cx="642.2" cy="118.6" r="11.4" fill="url(#hgw)" opacity="0.87" style="mix-blend-mode:lighten"/>
<circle cx="493.9" cy="69.2" r="11.8" fill="url(#hgw)" opacity="0.90" style="mix-blend-mode:lighten"/>
<circle cx="482.7" cy="75.7" r="8.4" fill="url(#hgw)" opacity="0.64" style="mix-blend-mode:lighten"/>
<circle cx="518" cy="75.7" r="11.8" fill="url(#hgw)" opacity="0.90" style="mix-blend-mode:lighten"/>
<circle cx="505.1" cy="80.5" r="10.1" fill="url(#hgw)" opacity="0.77" style="mix-blend-mode:lighten"/>
<circle cx="598" cy="27" r="12.0" fill="url(#hgw)" opacity="0.80" style="mix-blend-mode:lighten"/>
<circle cx="611" cy="39" r="12.0" fill="url(#hgw)" opacity="0.80" style="mix-blend-mode:lighten"/>
<circle cx="598" cy="43" r="13.2" fill="url(#hgw)" opacity="0.88" style="mix-blend-mode:lighten"/>
<circle cx="590" cy="32" r="10.8" fill="url(#hgw)" opacity="0.72" style="mix-blend-mode:lighten"/>
<circle cx="513" cy="90" r="10.8" fill="url(#hgw)" opacity="0.72" style="mix-blend-mode:lighten"/>
<circle cx="632" cy="112" r="12.0" fill="url(#hgw)" opacity="0.80" style="mix-blend-mode:lighten"/>
<circle cx="622" cy="122" r="10.8" fill="url(#hgw)" opacity="0.72" style="mix-blend-mode:lighten"/>
<circle cx="500" cy="84" r="9.6" fill="url(#hgw)" opacity="0.64" style="mix-blend-mode:lighten"/>
<circle cx="628" cy="52" r="12.0" fill="url(#hgw)" opacity="0.80" style="mix-blend-mode:lighten"/>
<circle cx="645" cy="70" r="12.0" fill="url(#hgw)" opacity="0.80" style="mix-blend-mode:lighten"/>
<circle cx="630" cy="82" r="13.2" fill="url(#hgw)" opacity="0.88" style="mix-blend-mode:lighten"/>
<circle cx="650" cy="88" r="10.8" fill="url(#hgw)" opacity="0.72" style="mix-blend-mode:lighten"/>
<circle cx="612" cy="60" r="12.0" fill="url(#hgw)" opacity="0.80" style="mix-blend-mode:lighten"/>
<circle cx="600" cy="78" r="12.0" fill="url(#hgw)" opacity="0.80" style="mix-blend-mode:lighten"/>
<circle cx="585" cy="30" r="10.8" fill="url(#hgw)" opacity="0.72" style="mix-blend-mode:lighten"/>
<circle cx="548" cy="62" r="10.8" fill="url(#hgw)" opacity="0.72" style="mix-blend-mode:lighten"/>
<circle cx="516" cy="62" r="10.8" fill="url(#hgw)" opacity="0.72" style="mix-blend-mode:lighten"/>
<circle cx="505" cy="66" r="10.8" fill="url(#hgw)" opacity="0.72" style="mix-blend-mode:lighten"/>
<circle cx="560" cy="100" r="10.8" fill="url(#hgw)" opacity="0.72" style="mix-blend-mode:lighten"/>
<circle cx="545" cy="112" r="9.6" fill="url(#hgw)" opacity="0.64" style="mix-blend-mode:lighten"/>
<circle cx="580.1" cy="43.6" r="18.0" fill="url(#hgw)" opacity="1.00" style="mix-blend-mode:lighten"/>
<circle cx="567.8" cy="41.9" r="13.2" fill="url(#hgw)" opacity="0.88" style="mix-blend-mode:lighten"/>
<circle cx="529.2" cy="45.1" r="11.5" fill="url(#hgw)" opacity="0.77" style="mix-blend-mode:lighten"/>
<circle cx="537.3" cy="59.6" r="12.5" fill="url(#hgw)" opacity="0.83" style="mix-blend-mode:lighten"/>
<circle cx="519.6" cy="51.6" r="7.7" fill="url(#hgw)" opacity="0.51" style="mix-blend-mode:lighten"/>
<circle cx="567.8" cy="72.4" r="12.0" fill="url(#hgw)" opacity="0.80" style="mix-blend-mode:lighten"/>
<circle cx="569" cy="50.5" r="13.2" fill="url(#hgw)" opacity="0.88" style="mix-blend-mode:lighten"/>
<circle cx="581" cy="60" r="13.2" fill="url(#hgw)" opacity="0.88" style="mix-blend-mode:lighten"/>
<circle cx="592" cy="71" r="12.0" fill="url(#hgw)" opacity="0.80" style="mix-blend-mode:lighten"/>
<circle cx="591.8" cy="62.1" r="14.0" fill="url(#hgw)" opacity="0.94" style="mix-blend-mode:lighten"/>
<circle cx="576.7" cy="67.1" r="12.0" fill="url(#hgw)" opacity="0.80" style="mix-blend-mode:lighten"/>
<circle cx="618.7" cy="70.5" r="14.0" fill="url(#hgw)" opacity="0.94" style="mix-blend-mode:lighten"/>
<circle cx="618.1" cy="69.8" r="11.5" fill="url(#hgw)" opacity="0.77" style="mix-blend-mode:lighten"/>
<circle cx="537.5" cy="66.3" r="12.6" fill="url(#hgw)" opacity="0.84" style="mix-blend-mode:lighten"/>
<circle cx="530.5" cy="83.8" r="12.6" fill="url(#hgw)" opacity="0.84" style="mix-blend-mode:lighten"/>
<circle cx="572.6" cy="75" r="10.6" fill="url(#hgw)" opacity="0.70" style="mix-blend-mode:lighten"/>
<circle cx="580.1" cy="91.8" r="14.0" fill="url(#hgw)" opacity="0.94" style="mix-blend-mode:lighten"/>
<circle cx="598.5" cy="90.1" r="14.0" fill="url(#hgw)" opacity="0.94" style="mix-blend-mode:lighten"/>
<circle cx="618.7" cy="93.4" r="15.1" fill="url(#hgw)" opacity="1.00" style="mix-blend-mode:lighten"/>
<circle cx="590.1" cy="87.3" r="10.6" fill="url(#hgw)" opacity="0.70" style="mix-blend-mode:lighten"/>
<circle cx="579.6" cy="94.3" r="10.6" fill="url(#hgw)" opacity="0.70" style="mix-blend-mode:lighten"/>
<circle cx="604.1" cy="90.8" r="12.6" fill="url(#hgw)" opacity="0.84" style="mix-blend-mode:lighten"/>
<circle cx="621.6" cy="90.8" r="12.6" fill="url(#hgw)" opacity="0.84" style="mix-blend-mode:lighten"/>
<circle cx="593.5" cy="101.8" r="12.0" fill="url(#hgw)" opacity="0.80" style="mix-blend-mode:lighten"/>
<circle cx="554.9" cy="113.7" r="15.4" fill="url(#hgw)" opacity="1.00" style="mix-blend-mode:lighten"/>
<circle cx="569.4" cy="108.9" r="12.0" fill="url(#hgw)" opacity="0.80" style="mix-blend-mode:lighten"/>
<circle cx="572.6" cy="113.6" r="12.0" fill="url(#hgw)" opacity="0.80" style="mix-blend-mode:lighten"/>
<circle cx="586.8" cy="113.6" r="14.0" fill="url(#hgw)" opacity="0.94" style="mix-blend-mode:lighten"/>
<circle cx="593.6" cy="113.6" r="12.0" fill="url(#hgw)" opacity="0.80" style="mix-blend-mode:lighten"/>
<circle cx="603.6" cy="123.6" r="15.1" fill="url(#hgw)" opacity="1.00" style="mix-blend-mode:lighten"/>
<circle cx="532.4" cy="117" r="7.7" fill="url(#hgw)" opacity="0.51" style="mix-blend-mode:lighten"/>
<circle cx="555" cy="115.3" r="12.0" fill="url(#hgw)" opacity="0.80" style="mix-blend-mode:lighten"/>
<circle cx="613.6" cy="110.2" r="13.1" fill="url(#hgw)" opacity="0.87" style="mix-blend-mode:lighten"/>
<circle cx="606.9" cy="50.4" r="12.5" fill="url(#hgw)" opacity="0.83" style="mix-blend-mode:lighten"/>
</g>
<g filter="url(#tex)" opacity="0.3">
<g transform="translate(572,68) rotate(18)"><ellipse cx="0" cy="0" rx="78" ry="44" fill="#80c428"/></g>
<circle cx="485.9" cy="30.7" r="7.8"/>
<circle cx="486.7" cy="52.4" r="5.7"/>
<circle cx="494" cy="33" r="3.5"/>
<circle cx="660.6" cy="95.9" r="7.7"/>
<circle cx="664" cy="117.8" r="7.7"/>
<circle cx="652.3" cy="103.5" r="4.4"/>
<circle cx="654" cy="118" r="4.5"/>
<circle cx="477.8" cy="88" r="7.3"/>
<circle cx="490.7" cy="91.2" r="8.9"/>
<circle cx="503.5" cy="96.1" r="9.7"/>
<circle cx="518" cy="102.5" r="8.1"/>
<circle cx="519.6" cy="114.5" r="4.9"/>
<circle cx="531" cy="138.9" r="10.1"/>
<circle cx="555.9" cy="142" r="14.7"/>
<circle cx="586.2" cy="145" r="13.5"/>
<circle cx="604" cy="146" r="7.5"/>
<circle cx="583.6" cy="142.4" r="6.5"/>
<circle cx="575" cy="128.7" r="5.2"/>
<circle cx="633.8" cy="132" r="10.2"/>
<circle cx="625.4" cy="140.4" r="7.7"/>
<circle cx="613.6" cy="135.4" r="6.9"/>
<circle cx="518" cy="17.8" r="12.1"/>
<circle cx="508.4" cy="32.3" r="9.7"/>
<circle cx="505.1" cy="46.8" r="8.1"/>
<circle cx="497.1" cy="51.6" r="7.3"/>
<circle cx="542.1" cy="21.1" r="13.0"/>
<circle cx="561.4" cy="13" r="9.7"/>
<circle cx="564.6" cy="25.9" r="8.1"/>
<circle cx="580.1" cy="20.1" r="11.9"/>
<circle cx="591.8" cy="16.8" r="6.9"/>
<circle cx="606.9" cy="23.5" r="8.5"/>
<circle cx="620.4" cy="36.9" r="8.5"/>
<circle cx="640.5" cy="52" r="9.4"/>
<circle cx="632.1" cy="67.1" r="8.5"/>
<circle cx="667.4" cy="59.6" r="8.2"/>
<circle cx="660.6" cy="73.9" r="6.9"/>
<circle cx="648.9" cy="63.8" r="5.2"/>
<circle cx="637.1" cy="100.1" r="11.1"/>
<circle cx="642.2" cy="118.6" r="9.4"/>
<circle cx="493.9" cy="69.2" r="9.7"/>
<circle cx="482.7" cy="75.7" r="6.5"/>
<circle cx="518" cy="75.7" r="9.7"/>
<circle cx="505.1" cy="80.5" r="8.1"/>
<circle cx="598" cy="27" r="9.9"/>
<circle cx="611" cy="39" r="9.9"/>
<circle cx="598" cy="43" r="11.0"/>
<circle cx="590" cy="32" r="8.8"/>
<circle cx="513" cy="90" r="8.8"/>
<circle cx="632" cy="112" r="9.9"/>
<circle cx="622" cy="122" r="8.8"/>
<circle cx="500" cy="84" r="7.6"/>
<circle cx="628" cy="52" r="9.9"/>
<circle cx="645" cy="70" r="9.9"/>
<circle cx="630" cy="82" r="11.0"/>
<circle cx="650" cy="88" r="8.8"/>
<circle cx="612" cy="60" r="9.9"/>
<circle cx="600" cy="78" r="9.9"/>
<circle cx="585" cy="30" r="8.8"/>
<circle cx="548" cy="62" r="8.8"/>
<circle cx="516" cy="62" r="8.8"/>
<circle cx="505" cy="66" r="8.8"/>
<circle cx="560" cy="100" r="8.8"/>
<circle cx="545" cy="112" r="7.6"/>
<circle cx="580.1" cy="43.6" r="15.6"/>
<circle cx="567.8" cy="41.9" r="11.0"/>
<circle cx="529.2" cy="45.1" r="9.4"/>
<circle cx="537.3" cy="59.6" r="10.4"/>
<circle cx="519.6" cy="51.6" r="5.8"/>
<circle cx="567.8" cy="72.4" r="9.9"/>
<circle cx="569" cy="50.5" r="11.0"/>
<circle cx="581" cy="60" r="11.0"/>
<circle cx="592" cy="71" r="9.9"/>
<circle cx="591.8" cy="62.1" r="11.8"/>
<circle cx="576.7" cy="67.1" r="9.9"/>
<circle cx="618.7" cy="70.5" r="11.8"/>
<circle cx="618.1" cy="69.8" r="9.4"/>
<circle cx="537.5" cy="66.3" r="10.5"/>
<circle cx="530.5" cy="83.8" r="10.5"/>
<circle cx="572.6" cy="75" r="8.5"/>
<circle cx="580.1" cy="91.8" r="11.8"/>
<circle cx="598.5" cy="90.1" r="11.8"/>
<circle cx="618.7" cy="93.4" r="12.9"/>
<circle cx="590.1" cy="87.3" r="8.5"/>
<circle cx="579.6" cy="94.3" r="8.5"/>
<circle cx="604.1" cy="90.8" r="10.5"/>
<circle cx="621.6" cy="90.8" r="10.5"/>
<circle cx="593.5" cy="101.8" r="9.9"/>
<circle cx="554.9" cy="113.7" r="13.1"/>
<circle cx="569.4" cy="108.9" r="9.9"/>
<circle cx="572.6" cy="113.6" r="9.9"/>
<circle cx="586.8" cy="113.6" r="11.8"/>
<circle cx="593.6" cy="113.6" r="9.9"/>
<circle cx="603.6" cy="123.6" r="12.9"/>
<circle cx="532.4" cy="117" r="5.8"/>
<circle cx="555" cy="115.3" r="9.9"/>
<circle cx="613.6" cy="110.2" r="10.9"/>
<circle cx="606.9" cy="50.4" r="10.4"/>
</g>
<g fill="none" stroke="#1a2a90" stroke-opacity="0.45" stroke-width="1" stroke-linecap="round" filter="url(#bl2)"><path d="M566,62 l10,5 l8,8 M574,66 l12,2 M598,118 l10,4 M520,64 l8,5 l10,-2 M508,66 l-8,3 M548,84 l8,8"/></g>
<g filter="url(#bl2)">
<circle cx="557.5" cy="90.5" r="11.6" fill="#70c818"/>
<circle cx="537.8" cy="100.2" r="11" fill="#98d010"/>
<circle cx="556" cy="80" r="4.6" fill="#48b840"/>
<circle cx="545" cy="44" r="9.3" fill="#1c8490"/>
<circle cx="555.8" cy="67.8" r="9" fill="#1c8878"/>
</g>
<g filter="url(#lit)">
<circle cx="557.5" cy="90.5" r="12.0" fill="url(#hg)"/>
<circle cx="537.8" cy="100.2" r="11.4" fill="url(#hg)"/>
<circle cx="556" cy="80" r="5.0" fill="url(#hg)"/>
<circle cx="545" cy="44" r="9.700000000000001" fill="url(#hg)"/>
<circle cx="555.8" cy="67.8" r="9.4" fill="url(#hg)"/>
</g><g fill="#7e62d6"><circle cx="472.7" cy="80.5" r="1.4"/><circle cx="476.2" cy="74.1" r="1.4"/><circle cx="477.5" cy="66.8" r="1.4"/><circle cx="476.6" cy="59.6" r="1.4"/><circle cx="473.8" cy="53.2" r="1.4"/><circle cx="477.5" cy="47.1" r="1.4"/><circle cx="476.2" cy="40.3" r="1.4"/><circle cx="473.4" cy="33.6" r="1.4"/><circle cx="473.8" cy="26.2" r="1.4"/><circle cx="479.1" cy="21.9" r="1.4"/><circle cx="486.7" cy="21.1" r="1.4"/><circle cx="493.1" cy="25.1" r="1.4"/><circle cx="497.9" cy="19.5" r="1.4"/><circle cx="503.1" cy="13.8" r="1.4"/><circle cx="508.7" cy="9.8" r="1.4"/><circle cx="515.6" cy="6.9" r="1.4"/><circle cx="522.5" cy="6.9" r="1.4"/><circle cx="529.6" cy="8.2" r="1.4"/><circle cx="536.5" cy="5.8" r="1.4"/><circle cx="543.4" cy="4.2" r="1.4"/><circle cx="550.3" cy="3.6" r="1.4"/><circle cx="557.2" cy="3.6" r="1.4"/><circle cx="564" cy="4.2" r="1.4"/><circle cx="570.8" cy="5.4" r="1.4"/><circle cx="578.4" cy="4.7" r="1.4"/><circle cx="585.9" cy="5.9" r="1.4"/><circle cx="593.2" cy="7.6" r="1.4"/><circle cx="600.2" cy="9.2" r="1.4"/><circle cx="606.9" cy="11.8" r="1.4"/><circle cx="611.1" cy="17.3" r="1.4"/><circle cx="614" cy="24" r="1.4"/><circle cx="621.2" cy="26" r="1.4"/><circle cx="628.3" cy="27.7" r="1.4"/><circle cx="631.3" cy="33.6" r="1.4"/><circle cx="635.1" cy="39.4" r="1.4"/><circle cx="642.2" cy="38.9" r="1.4"/><circle cx="648.9" cy="40.8" r="1.4"/><circle cx="655.3" cy="45" r="1.4"/><circle cx="661.5" cy="48.7" r="1.4"/><circle cx="667.9" cy="51.2" r="1.4"/><circle cx="674.4" cy="54.9" r="1.4"/><circle cx="678.3" cy="61.3" r="1.4"/><circle cx="676.6" cy="68" r="1.4"/><circle cx="672.7" cy="73.9" r="1.4"/><circle cx="668.7" cy="80.2" r="1.4"/><circle cx="672" cy="85.5" r="1.4"/><circle cx="674.4" cy="90.4" r="1.4"/><circle cx="674.4" cy="96.5" r="1.4"/><circle cx="669.5" cy="101.8" r="1.4"/><circle cx="663.7" cy="106.9" r="1.4"/><circle cx="668.7" cy="110.6" r="1.4"/><circle cx="672.7" cy="115.3" r="1.4"/><circle cx="673.2" cy="122" r="1.4"/><circle cx="669" cy="127.8" r="1.4"/><circle cx="662.3" cy="129.9" r="1.4"/><circle cx="656.1" cy="125.7" r="1.4"/><circle cx="650.2" cy="129" r="1.4"/><circle cx="646.4" cy="135.4" r="1.4"/><circle cx="643" cy="141.8" r="1.4"/><circle cx="637.5" cy="146.3" r="1.4"/><circle cx="630.9" cy="149.2" r="1.4"/><circle cx="623.7" cy="148.8" r="1.4"/><circle cx="617" cy="146.3" r="1.4"/><circle cx="610.8" cy="142.4" r="1.4"/><circle cx="604.7" cy="138.8" r="1.4"/><circle cx="598.2" cy="135.4" r="1.4"/><circle cx="591.5" cy="132.9" r="1.4"/><circle cx="584.3" cy="130.9" r="1.4"/><circle cx="577.1" cy="129.9" r="1.4"/><circle cx="570" cy="129.2" r="1.4"/><circle cx="562.5" cy="128.5" r="1.4"/><circle cx="554.9" cy="128.2" r="1.4"/><circle cx="548.2" cy="126.9" r="1.4"/><circle cx="542.1" cy="123" r="1.4"/><circle cx="536.1" cy="118.5" r="1.4"/><circle cx="529.2" cy="115.7" r="1.4"/><circle cx="522" cy="114.5" r="1.4"/><circle cx="514.8" cy="113.7" r="1.4"/><circle cx="507.6" cy="112.9" r="1.4"/><circle cx="500.3" cy="110.8" r="1.4"/><circle cx="493.6" cy="108.6" r="1.4"/><circle cx="486.7" cy="105.7" r="1.4"/><circle cx="480.3" cy="102.8" r="1.4"/><circle cx="473.8" cy="99.3" r="1.4"/><circle cx="469" cy="94.1" r="1.4"/><circle cx="469.5" cy="87.2" r="1.4"/></g><g font-size="14" fill="#140404"><text x="524.7" y="136.6" textLength="15.6" lengthAdjust="spacingAndGlyphs">Fe</text><text x="549.9" y="143.6" textLength="16.2" lengthAdjust="spacingAndGlyphs">Fe</text><text x="578.3" y="150.3" textLength="16" lengthAdjust="spacingAndGlyphs">Fe</text></g><text x="629.1" y="18.8" font-size="14.6" textLength="43.6" lengthAdjust="spacingAndGlyphs" fill="#111">ZIF-67</text>
<text x="9.6" y="16.2" font-size="21.5" fill="#000">a</text>
<text x="240.3" y="16.2" font-size="21.5" fill="#000">b</text>
<text x="479" y="16.2" font-size="21.5" fill="#000">c</text>
<text x="9.6" y="203" font-size="21.5" fill="#000">d</text>
<text x="240.3" y="203" font-size="21.5" fill="#000">e</text>
<text x="481.5" y="203" font-size="21.5" fill="#000">f</text>
<text x="9" y="391.8" font-size="21.5" fill="#000">g</text>
<text x="355.6" y="393.5" font-size="21.5" fill="#000">h</text>
<rect x="62.5" y="167" width="572.5" height="13" fill="url(#cbar)"/>
<text x="5.3" y="178.3" font-size="13.8" textLength="52" lengthAdjust="spacingAndGlyphs">-0.25 eV</text>
<text x="638.6" y="178.3" font-size="13.8" textLength="36" lengthAdjust="spacingAndGlyphs">0.3eV</text>
<clipPath id="cp39"><rect x="39.1" y="219" width="157.20000000000002" height="126.70000000000002"/></clipPath>
<g clip-path="url(#cp39)" fill="none" stroke-width="1.2" stroke-linejoin="round">
<path d="M39.1,339.0 L39.5,339.0 L39.9,339.1 L40.3,339.1 L40.7,339.2 L41.1,339.2 L41.5,339.3 L41.9,339.4 L42.3,339.4 L42.6,339.5 L43.0,339.6 L43.4,339.7 L43.8,339.7 L44.2,339.8 L44.6,339.9 L45.0,340.0 L45.4,340.1 L45.8,340.2 L46.2,340.2 L46.6,340.3 L47.0,340.4 L47.4,340.5 L47.8,340.6 L48.2,340.8 L48.6,340.9 L48.9,341.0 L49.3,341.2 L49.7,341.3 L50.1,341.5 L50.5,341.7 L50.9,341.8 L51.3,342.0 L51.7,342.2 L52.1,342.4 L52.5,342.6 L52.9,342.7 L53.3,342.9 L53.7,343.1 L54.1,343.3 L54.5,343.4 L54.9,343.6 L55.3,343.7 L55.6,343.9 L56.0,344.0 L56.4,344.2 L56.8,344.3 L57.2,344.4 L57.6,344.5 L58.0,344.6 L58.4,344.6 L58.8,344.7 L59.2,344.7 L59.6,344.7 L60.0,344.8 L60.4,344.8 L60.8,344.8 L61.2,344.8 L61.6,344.8 L62.0,344.8 L62.3,344.8 L62.7,344.8 L63.1,344.8 L63.5,344.8 L63.9,344.9 L64.3,344.9 L64.7,344.9 L65.1,344.9 L65.5,344.9 L65.9,344.9 L66.3,344.9 L66.7,344.9 L67.1,344.9 L67.5,344.9 L67.9,344.9 L68.3,344.9 L68.6,345.0 L69.0,345.0 L69.4,345.0 L69.8,345.0 L70.2,345.0 L70.6,345.0 L71.0,345.0 L71.4,345.0 L71.8,345.0 L72.2,345.0 L72.6,345.0 L73.0,345.0 L73.4,345.0 L73.8,345.0 L74.2,345.0 L74.6,345.0 L75.0,345.0 L75.3,345.0 L75.7,345.0 L76.1,345.1 L76.5,345.1 L76.9,345.1 L77.3,345.1 L77.7,345.1 L78.1,345.1 L78.5,345.1 L78.9,345.1 L79.3,345.1 L79.7,345.1 L80.1,345.1 L80.5,345.1 L80.9,345.1 L81.3,345.1 L81.7,345.1 L82.0,345.1 L82.4,345.1 L82.8,345.1 L83.2,345.1 L83.6,345.1 L84.0,345.1 L84.4,345.1 L84.8,345.1 L85.2,345.1 L85.6,345.1 L86.0,345.1 L86.4,345.1 L86.8,345.1 L87.2,345.1 L87.6,345.1 L88.0,345.1 L88.3,345.1 L88.7,345.1 L89.1,345.1 L89.5,345.1 L89.9,345.1 L90.3,345.1 L90.7,345.1 L91.1,345.1 L91.5,345.1 L91.9,345.1 L92.3,345.1 L92.7,345.1 L93.1,345.1 L93.5,345.1 L93.9,345.1 L94.3,345.1 L94.7,345.1 L95.0,345.1 L95.4,345.1 L95.8,345.1 L96.2,345.1 L96.6,345.1 L97.0,345.1 L97.4,345.1 L97.8,345.1 L98.2,345.1 L98.6,345.1 L99.0,345.1 L99.4,345.1 L99.8,345.1 L100.2,345.1 L100.6,345.1 L101.0,345.1 L101.3,345.1 L101.7,345.1 L102.1,345.1 L102.5,345.1 L102.9,345.1 L103.3,345.1 L103.7,345.1 L104.1,345.1 L104.5,345.1 L104.9,345.1 L105.3,345.1 L105.7,345.1 L106.1,345.1 L106.5,345.1 L106.9,345.1 L107.3,345.1 L107.7,345.1 L108.0,345.1 L108.4,345.1 L108.8,345.1 L109.2,345.1 L109.6,345.1 L110.0,345.1 L110.4,345.1 L110.8,345.1 L111.2,345.1 L111.6,345.1 L112.0,345.1 L112.4,345.1 L112.8,345.1 L113.2,345.1 L113.6,345.1 L114.0,345.1 L114.4,345.1 L114.7,345.1 L115.1,345.1 L115.5,345.1 L115.9,345.1 L116.3,345.1 L116.7,345.1 L117.1,345.1 L117.5,345.1 L117.9,345.1 L118.3,345.1 L118.7,345.1 L119.1,345.1 L119.5,345.1 L119.9,345.0 L120.3,345.0 L120.7,345.0 L121.0,345.0 L121.4,344.9 L121.8,344.9 L122.2,344.9 L122.6,344.8 L123.0,344.8 L123.4,344.8 L123.8,344.7 L124.2,344.7 L124.6,344.7 L125.0,344.6 L125.4,344.6 L125.8,344.5 L126.2,344.5 L126.6,344.5 L127.0,344.4 L127.4,344.4 L127.7,344.3 L128.1,344.3 L128.5,344.3 L128.9,344.2 L129.3,344.2 L129.7,344.2 L130.1,344.1 L130.5,344.1 L130.9,344.1 L131.3,344.1 L131.7,344.1 L132.1,344.0 L132.5,344.0 L132.9,344.0 L133.3,344.0 L133.7,344.0 L134.1,344.0 L134.4,344.0 L134.8,344.0 L135.2,344.0 L135.6,344.0 L136.0,344.0 L136.4,344.1 L136.8,344.1 L137.2,344.1 L137.6,344.1 L138.0,344.1 L138.4,344.1 L138.8,344.1 L139.2,344.1 L139.6,344.1 L140.0,344.2 L140.4,344.2 L140.7,344.2 L141.1,344.2 L141.5,344.2 L141.9,344.2 L142.3,344.2 L142.7,344.2 L143.1,344.3 L143.5,344.3 L143.9,344.3 L144.3,344.3 L144.7,344.3 L145.1,344.3 L145.5,344.3 L145.9,344.3 L146.3,344.3 L146.7,344.4 L147.1,344.4 L147.4,344.4 L147.8,344.4 L148.2,344.4 L148.6,344.4 L149.0,344.4 L149.4,344.4 L149.8,344.4 L150.2,344.4 L150.6,344.4 L151.0,344.4 L151.4,344.3 L151.8,344.3 L152.2,344.3 L152.6,344.3 L153.0,344.3 L153.4,344.3 L153.7,344.2 L154.1,344.2 L154.5,344.2 L154.9,344.2 L155.3,344.1 L155.7,344.1 L156.1,344.1 L156.5,344.1 L156.9,344.0 L157.3,344.0 L157.7,344.0 L158.1,343.9 L158.5,343.9 L158.9,343.9 L159.3,343.9 L159.7,343.8 L160.1,343.8 L160.4,343.8 L160.8,343.8 L161.2,343.8 L161.6,343.7 L162.0,343.7 L162.4,343.7 L162.8,343.7 L163.2,343.7 L163.6,343.7 L164.0,343.7 L164.4,343.7 L164.8,343.7 L165.2,343.7 L165.6,343.7 L166.0,343.7 L166.4,343.7 L166.8,343.7 L167.1,343.7 L167.5,343.7 L167.9,343.7 L168.3,343.7 L168.7,343.7 L169.1,343.7 L169.5,343.7 L169.9,343.7 L170.3,343.8 L170.7,343.8 L171.1,343.8 L171.5,343.8 L171.9,343.8 L172.3,343.8 L172.7,343.8 L173.1,343.9 L173.4,343.9 L173.8,343.9 L174.2,343.9 L174.6,343.9 L175.0,343.9 L175.4,343.9 L175.8,343.9 L176.2,344.0 L176.6,344.0 L177.0,344.0 L177.4,344.0 L177.8,344.0 L178.2,344.0 L178.6,344.0 L179.0,344.0 L179.4,344.0 L179.8,344.0 L180.1,344.0 L180.5,344.0 L180.9,344.0 L181.3,344.0 L181.7,344.0 L182.1,344.0 L182.5,344.0 L182.9,344.0 L183.3,344.0 L183.7,344.0 L184.1,344.0 L184.5,344.0 L184.9,344.0 L185.3,344.0 L185.7,344.0 L186.1,344.0 L186.5,344.0 L186.8,344.0 L187.2,344.0 L187.6,343.9 L188.0,343.9 L188.4,343.9 L188.8,343.9 L189.2,343.9 L189.6,343.9 L190.0,343.9 L190.4,343.9 L190.8,343.9 L191.2,343.9 L191.6,343.8 L192.0,343.8 L192.4,343.8 L192.8,343.8 L193.1,343.8 L193.5,343.8 L193.9,343.8 L194.3,343.7 L194.7,343.7 L195.1,343.7 L195.5,343.7 L195.9,343.7 L196.3,343.7" stroke="#1414c8"/>
<path d="M39.1,342.2 L39.5,342.0 L39.9,341.7 L40.3,341.5 L40.7,341.3 L41.1,341.1 L41.5,340.9 L41.9,340.8 L42.3,340.6 L42.6,340.4 L43.0,340.3 L43.4,340.2 L43.8,340.0 L44.2,339.9 L44.6,339.8 L45.0,339.7 L45.4,339.6 L45.8,339.6 L46.2,339.5 L46.6,339.5 L47.0,339.4 L47.4,339.4 L47.8,339.4 L48.2,339.3 L48.6,339.3 L48.9,339.4 L49.3,339.4 L49.7,339.5 L50.1,339.6 L50.5,339.7 L50.9,339.9 L51.3,340.0 L51.7,340.2 L52.1,340.4 L52.5,340.6 L52.9,340.8 L53.3,341.0 L53.7,341.2 L54.1,341.4 L54.5,341.6 L54.9,341.8 L55.3,341.9 L55.6,342.1 L56.0,342.2 L56.4,342.4 L56.8,342.4 L57.2,342.5 L57.6,342.6 L58.0,342.6 L58.4,342.6 L58.8,342.5 L59.2,342.5 L59.6,342.4 L60.0,342.4 L60.4,342.3 L60.8,342.2 L61.2,342.1 L61.6,342.0 L62.0,341.8 L62.3,341.7 L62.7,341.5 L63.1,341.4 L63.5,341.2 L63.9,341.0 L64.3,340.9 L64.7,340.7 L65.1,340.5 L65.5,340.3 L65.9,340.1 L66.3,339.9 L66.7,339.7 L67.1,339.5 L67.5,339.3 L67.9,339.1 L68.3,338.9 L68.6,338.7 L69.0,338.6 L69.4,338.4 L69.8,338.2 L70.2,338.0 L70.6,337.9 L71.0,337.7 L71.4,337.5 L71.8,337.3 L72.2,337.1 L72.6,336.9 L73.0,336.6 L73.4,336.4 L73.8,336.2 L74.2,335.9 L74.6,335.7 L75.0,335.4 L75.3,335.2 L75.7,335.0 L76.1,334.7 L76.5,334.5 L76.9,334.3 L77.3,334.1 L77.7,333.9 L78.1,333.8 L78.5,333.6 L78.9,333.5 L79.3,333.4 L79.7,333.3 L80.1,333.3 L80.5,333.2 L80.9,333.2 L81.3,333.2 L81.7,333.3 L82.0,333.4 L82.4,333.6 L82.8,333.8 L83.2,334.0 L83.6,334.3 L84.0,334.6 L84.4,334.9 L84.8,335.2 L85.2,335.5 L85.6,335.9 L86.0,336.3 L86.4,336.7 L86.8,337.0 L87.2,337.4 L87.6,337.8 L88.0,338.2 L88.3,338.6 L88.7,339.0 L89.1,339.4 L89.5,339.8 L89.9,340.1 L90.3,340.4 L90.7,340.8 L91.1,341.0 L91.5,341.3 L91.9,341.6 L92.3,341.8 L92.7,341.9 L93.1,342.1 L93.5,342.2 L93.9,342.2 L94.3,342.2 L94.7,342.2 L95.0,342.2 L95.4,342.1 L95.8,342.0 L96.2,341.9 L96.6,341.8 L97.0,341.7 L97.4,341.6 L97.8,341.5 L98.2,341.4 L98.6,341.4 L99.0,341.3 L99.4,341.2 L99.8,341.2 L100.2,341.1 L100.6,341.1 L101.0,341.2 L101.3,341.2 L101.7,341.3 L102.1,341.4 L102.5,341.5 L102.9,341.6 L103.3,341.8 L103.7,342.0 L104.1,342.1 L104.5,342.3 L104.9,342.5 L105.3,342.7 L105.7,342.8 L106.1,343.0 L106.5,343.2 L106.9,343.3 L107.3,343.5 L107.7,343.6 L108.0,343.7 L108.4,343.8 L108.8,343.9 L109.2,344.0 L109.6,344.0 L110.0,344.0 L110.4,344.0 L110.8,344.0 L111.2,344.0 L111.6,344.0 L112.0,343.9 L112.4,343.9 L112.8,343.8 L113.2,343.8 L113.6,343.8 L114.0,343.7 L114.4,343.7 L114.7,343.6 L115.1,343.6 L115.5,343.5 L115.9,343.5 L116.3,343.4 L116.7,343.4 L117.1,343.4 L117.5,343.3 L117.9,343.3 L118.3,343.3 L118.7,343.2 L119.1,343.2 L119.5,343.1 L119.9,343.1 L120.3,343.1 L120.7,343.0 L121.0,343.0 L121.4,343.0 L121.8,342.9 L122.2,342.9 L122.6,342.9 L123.0,342.8 L123.4,342.8 L123.8,342.8 L124.2,342.7 L124.6,342.7 L125.0,342.6 L125.4,342.6 L125.8,342.6 L126.2,342.6 L126.6,342.5 L127.0,342.5 L127.4,342.5 L127.7,342.4 L128.1,342.4 L128.5,342.4 L128.9,342.4 L129.3,342.3 L129.7,342.3 L130.1,342.3 L130.5,342.3 L130.9,342.3 L131.3,342.3 L131.7,342.2 L132.1,342.2 L132.5,342.2 L132.9,342.2 L133.3,342.2 L133.7,342.2 L134.1,342.2 L134.4,342.3 L134.8,342.3 L135.2,342.4 L135.6,342.4 L136.0,342.5 L136.4,342.6 L136.8,342.6 L137.2,342.7 L137.6,342.8 L138.0,342.9 L138.4,343.0 L138.8,343.0 L139.2,343.1 L139.6,343.2 L140.0,343.2 L140.4,343.3 L140.7,343.3 L141.1,343.3 L141.5,343.3 L141.9,343.3 L142.3,343.2 L142.7,343.2 L143.1,343.1 L143.5,343.0 L143.9,342.9 L144.3,342.8 L144.7,342.6 L145.1,342.5 L145.5,342.4 L145.9,342.2 L146.3,342.0 L146.7,341.9 L147.1,341.7 L147.4,341.5 L147.8,341.4 L148.2,341.2 L148.6,341.0 L149.0,340.9 L149.4,340.7 L149.8,340.6 L150.2,340.4 L150.6,340.3 L151.0,340.2 L151.4,340.1 L151.8,340.0 L152.2,339.9 L152.6,339.8 L153.0,339.7 L153.4,339.7 L153.7,339.7 L154.1,339.7 L154.5,339.7 L154.9,339.8 L155.3,339.8 L155.7,339.9 L156.1,340.0 L156.5,340.1 L156.9,340.2 L157.3,340.3 L157.7,340.5 L158.1,340.6 L158.5,340.7 L158.9,340.9 L159.3,341.0 L159.7,341.1 L160.1,341.3 L160.4,341.4 L160.8,341.5 L161.2,341.6 L161.6,341.7 L162.0,341.8 L162.4,341.8 L162.8,341.8 L163.2,341.9 L163.6,341.9 L164.0,341.8 L164.4,341.8 L164.8,341.7 L165.2,341.7 L165.6,341.6 L166.0,341.5 L166.4,341.4 L166.8,341.3 L167.1,341.1 L167.5,341.0 L167.9,340.9 L168.3,340.7 L168.7,340.6 L169.1,340.4 L169.5,340.3 L169.9,340.1 L170.3,340.0 L170.7,339.8 L171.1,339.7 L171.5,339.5 L171.9,339.4 L172.3,339.3 L172.7,339.1 L173.1,339.0 L173.4,338.9 L173.8,338.8 L174.2,338.8 L174.6,338.7 L175.0,338.7 L175.4,338.6 L175.8,338.6 L176.2,338.6 L176.6,338.7 L177.0,338.7 L177.4,338.8 L177.8,338.9 L178.2,339.0 L178.6,339.2 L179.0,339.3 L179.4,339.5 L179.8,339.7 L180.1,339.9 L180.5,340.0 L180.9,340.2 L181.3,340.4 L181.7,340.6 L182.1,340.7 L182.5,340.9 L182.9,341.0 L183.3,341.2 L183.7,341.3 L184.1,341.4 L184.5,341.4 L184.9,341.5 L185.3,341.5 L185.7,341.5 L186.1,341.5 L186.5,341.5 L186.8,341.5 L187.2,341.4 L187.6,341.4 L188.0,341.4 L188.4,341.3 L188.8,341.3 L189.2,341.2 L189.6,341.2 L190.0,341.1 L190.4,341.0 L190.8,341.0 L191.2,340.9 L191.6,340.8 L192.0,340.7 L192.4,340.6 L192.8,340.4 L193.1,340.3 L193.5,340.2 L193.9,340.0 L194.3,339.9 L194.7,339.7 L195.1,339.5 L195.5,339.4 L195.9,339.2 L196.3,339.0" stroke="#10e6f4"/>
<path d="M39.1,325.3 L39.5,324.0 L39.9,322.7 L40.3,321.5 L40.7,320.3 L41.1,319.1 L41.5,318.0 L41.9,317.0 L42.3,316.0 L42.6,315.0 L43.0,314.1 L43.4,313.2 L43.8,312.4 L44.2,311.6 L44.6,310.9 L45.0,310.2 L45.4,309.5 L45.8,308.9 L46.2,308.4 L46.6,307.9 L47.0,307.5 L47.4,307.1 L47.8,306.8 L48.2,306.5 L48.6,306.2 L48.9,306.1 L49.3,305.9 L49.7,305.9 L50.1,305.8 L50.5,305.9 L50.9,306.1 L51.3,306.4 L51.7,306.7 L52.1,307.2 L52.5,307.7 L52.9,308.3 L53.3,309.0 L53.7,309.7 L54.1,310.4 L54.5,311.1 L54.9,311.8 L55.3,312.6 L55.6,313.3 L56.0,314.0 L56.4,314.7 L56.8,315.3 L57.2,315.9 L57.6,316.4 L58.0,316.9 L58.4,317.2 L58.8,317.5 L59.2,317.7 L59.6,317.7 L60.0,317.4 L60.4,316.6 L60.8,315.4 L61.2,313.9 L61.6,312.0 L62.0,309.8 L62.3,307.4 L62.7,304.9 L63.1,302.2 L63.5,299.4 L63.9,296.6 L64.3,293.7 L64.7,291.0 L65.1,288.3 L65.5,285.8 L65.9,283.5 L66.3,281.4 L66.7,279.6 L67.1,278.2 L67.5,277.1 L67.9,276.5 L68.3,276.3 L68.6,276.5 L69.0,276.8 L69.4,277.4 L69.8,278.1 L70.2,278.9 L70.6,279.8 L71.0,280.8 L71.4,281.7 L71.8,282.7 L72.2,283.5 L72.6,284.3 L73.0,284.9 L73.4,285.4 L73.8,285.6 L74.2,285.6 L74.6,285.5 L75.0,285.2 L75.3,284.8 L75.7,284.2 L76.1,283.7 L76.5,283.0 L76.9,282.3 L77.3,281.7 L77.7,281.0 L78.1,280.4 L78.5,279.9 L78.9,279.4 L79.3,279.1 L79.7,278.9 L80.1,278.8 L80.5,278.9 L80.9,279.1 L81.3,279.5 L81.7,279.9 L82.0,280.5 L82.4,281.2 L82.8,281.9 L83.2,282.8 L83.6,283.7 L84.0,284.7 L84.4,285.8 L84.8,287.0 L85.2,288.2 L85.6,289.5 L86.0,290.8 L86.4,292.2 L86.8,293.6 L87.2,295.1 L87.6,296.5 L88.0,298.0 L88.3,299.6 L88.7,301.1 L89.1,302.6 L89.5,304.2 L89.9,305.7 L90.3,307.2 L90.7,308.7 L91.1,310.2 L91.5,311.7 L91.9,313.1 L92.3,314.5 L92.7,315.8 L93.1,317.1 L93.5,318.4 L93.9,319.5 L94.3,320.6 L94.7,321.7 L95.0,322.6 L95.4,323.5 L95.8,324.3 L96.2,324.9 L96.6,325.5 L97.0,326.0 L97.4,326.4 L97.8,326.6 L98.2,326.7 L98.6,326.7 L99.0,326.5 L99.4,326.1 L99.8,325.6 L100.2,324.9 L100.6,324.1 L101.0,323.2 L101.3,322.1 L101.7,320.9 L102.1,319.6 L102.5,318.2 L102.9,316.7 L103.3,315.1 L103.7,313.4 L104.1,311.7 L104.5,309.9 L104.9,308.0 L105.3,306.1 L105.7,304.2 L106.1,302.2 L106.5,300.3 L106.9,298.3 L107.3,296.3 L107.7,294.3 L108.0,292.4 L108.4,290.4 L108.8,288.5 L109.2,286.6 L109.6,284.8 L110.0,283.0 L110.4,281.1 L110.8,278.9 L111.2,276.5 L111.6,274.0 L112.0,271.3 L112.4,268.6 L112.8,265.8 L113.2,262.9 L113.6,260.0 L114.0,257.2 L114.4,254.4 L114.7,251.6 L115.1,248.9 L115.5,246.4 L115.9,244.0 L116.3,241.8 L116.7,239.7 L117.1,238.0 L117.5,236.4 L117.9,235.2 L118.3,234.2 L118.7,233.6 L119.1,233.4 L119.5,233.6 L119.9,234.3 L120.3,235.5 L120.7,237.1 L121.0,239.0 L121.4,241.3 L121.8,243.8 L122.2,246.6 L122.6,249.6 L123.0,252.7 L123.4,255.9 L123.8,259.3 L124.2,262.6 L124.6,266.0 L125.0,269.2 L125.4,272.4 L125.8,275.5 L126.2,278.3 L126.6,281.1 L127.0,284.2 L127.4,287.6 L127.7,291.0 L128.1,294.0 L128.5,296.4 L128.9,298.0 L129.3,298.8 L129.7,299.5 L130.1,299.9 L130.5,300.3 L130.9,300.7 L131.3,301.0 L131.7,301.3 L132.1,301.8 L132.5,302.3 L132.9,303.0 L133.3,304.0 L133.7,305.3 L134.1,306.7 L134.4,308.3 L134.8,310.1 L135.2,312.1 L135.6,314.1 L136.0,316.2 L136.4,318.3 L136.8,320.5 L137.2,322.6 L137.6,324.7 L138.0,326.7 L138.4,328.6 L138.8,330.4 L139.2,332.0 L139.6,333.5 L140.0,334.7 L140.4,335.7 L140.7,336.4 L141.1,336.9 L141.5,337.4 L141.9,337.8 L142.3,338.3 L142.7,338.7 L143.1,339.0 L143.5,339.3 L143.9,339.5 L144.3,339.6 L144.7,339.7 L145.1,339.7 L145.5,339.6 L145.9,339.6 L146.3,339.4 L146.7,339.3 L147.1,339.2 L147.4,339.0 L147.8,338.8 L148.2,338.6 L148.6,338.4 L149.0,338.2 L149.4,338.0 L149.8,337.8 L150.2,337.6 L150.6,337.4 L151.0,337.3 L151.4,337.1 L151.8,337.0 L152.2,336.9 L152.6,336.8 L153.0,336.8 L153.4,336.8 L153.7,336.9 L154.1,337.1 L154.5,337.3 L154.9,337.5 L155.3,337.8 L155.7,338.1 L156.1,338.5 L156.5,338.8 L156.9,339.2 L157.3,339.6 L157.7,340.0 L158.1,340.4 L158.5,340.8 L158.9,341.1 L159.3,341.5 L159.7,341.8 L160.1,342.0 L160.4,342.2 L160.8,342.4 L161.2,342.5 L161.6,342.6 L162.0,342.6 L162.4,342.6 L162.8,342.5 L163.2,342.5 L163.6,342.5 L164.0,342.4 L164.4,342.4 L164.8,342.3 L165.2,342.2 L165.6,342.1 L166.0,342.1 L166.4,342.0 L166.8,341.9 L167.1,341.8 L167.5,341.7 L167.9,341.6 L168.3,341.5 L168.7,341.4 L169.1,341.3 L169.5,341.2 L169.9,341.1 L170.3,341.0 L170.7,341.0 L171.1,340.9 L171.5,340.8 L171.9,340.7 L172.3,340.7 L172.7,340.6 L173.1,340.5 L173.4,340.5 L173.8,340.5 L174.2,340.4 L174.6,340.4 L175.0,340.4 L175.4,340.4 L175.8,340.5 L176.2,340.6 L176.6,340.7 L177.0,340.8 L177.4,340.9 L177.8,341.1 L178.2,341.3 L178.6,341.5 L179.0,341.7 L179.4,341.8 L179.8,342.0 L180.1,342.2 L180.5,342.4 L180.9,342.5 L181.3,342.7 L181.7,342.8 L182.1,342.9 L182.5,342.9 L182.9,342.9 L183.3,342.9 L183.7,342.9 L184.1,342.9 L184.5,342.9 L184.9,342.9 L185.3,342.9 L185.7,342.9 L186.1,342.9 L186.5,342.9 L186.8,342.9 L187.2,342.9 L187.6,342.9 L188.0,342.8 L188.4,342.8 L188.8,342.8 L189.2,342.8 L189.6,342.7 L190.0,342.7 L190.4,342.6 L190.8,342.6 L191.2,342.5 L191.6,342.5 L192.0,342.4 L192.4,342.3 L192.8,342.2 L193.1,342.1 L193.5,342.0 L193.9,341.9 L194.3,341.8 L194.7,341.7 L195.1,341.6 L195.5,341.4 L195.9,341.3 L196.3,341.1" stroke="#ff7f1c"/>
<path d="M39.1,317.0 L39.5,315.5 L39.9,314.0 L40.3,312.6 L40.7,311.3 L41.1,310.0 L41.5,308.7 L41.9,307.5 L42.3,306.4 L42.6,305.3 L43.0,304.3 L43.4,303.4 L43.8,302.5 L44.2,301.6 L44.6,300.9 L45.0,300.1 L45.4,299.5 L45.8,298.9 L46.2,298.4 L46.6,297.9 L47.0,297.5 L47.4,297.2 L47.8,296.9 L48.2,296.7 L48.6,296.5 L48.9,296.5 L49.3,296.5 L49.7,296.6 L50.1,296.9 L50.5,297.3 L50.9,297.8 L51.3,298.5 L51.7,299.2 L52.1,300.0 L52.5,300.8 L52.9,301.7 L53.3,302.7 L53.7,303.6 L54.1,304.6 L54.5,305.6 L54.9,306.6 L55.3,307.6 L55.6,308.5 L56.0,309.4 L56.4,310.2 L56.8,311.0 L57.2,311.7 L57.6,312.2 L58.0,312.7 L58.4,313.1 L58.8,313.3 L59.2,313.4 L59.6,313.2 L60.0,312.5 L60.4,311.4 L60.8,309.9 L61.2,308.1 L61.6,306.0 L62.0,303.6 L62.3,301.1 L62.7,298.4 L63.1,295.6 L63.5,292.7 L63.9,289.8 L64.3,286.9 L64.7,284.1 L65.1,281.4 L65.5,278.9 L65.9,276.6 L66.3,274.5 L66.7,272.7 L67.1,271.3 L67.5,270.2 L67.9,269.6 L68.3,269.4 L68.6,269.6 L69.0,270.0 L69.4,270.5 L69.8,271.1 L70.2,271.9 L70.6,272.7 L71.0,273.6 L71.4,274.4 L71.8,275.2 L72.2,275.9 L72.6,276.5 L73.0,277.0 L73.4,277.3 L73.8,277.4 L74.2,277.2 L74.6,276.8 L75.0,276.3 L75.3,275.6 L75.7,274.8 L76.1,274.0 L76.5,273.0 L76.9,272.1 L77.3,271.2 L77.7,270.3 L78.1,269.4 L78.5,268.7 L78.9,268.1 L79.3,267.6 L79.7,267.3 L80.1,267.3 L80.5,267.4 L80.9,267.7 L81.3,268.1 L81.7,268.6 L82.0,269.3 L82.4,270.1 L82.8,271.0 L83.2,272.0 L83.6,273.1 L84.0,274.3 L84.4,275.6 L84.8,277.0 L85.2,278.4 L85.6,280.0 L86.0,281.5 L86.4,283.2 L86.8,284.9 L87.2,286.6 L87.6,288.4 L88.0,290.1 L88.3,291.9 L88.7,293.8 L89.1,295.6 L89.5,297.4 L89.9,299.2 L90.3,301.1 L90.7,302.8 L91.1,304.6 L91.5,306.3 L91.9,308.0 L92.3,309.7 L92.7,311.3 L93.1,312.8 L93.5,314.3 L93.9,315.6 L94.3,317.0 L94.7,318.2 L95.0,319.3 L95.4,320.3 L95.8,321.3 L96.2,322.1 L96.6,322.8 L97.0,323.3 L97.4,323.8 L97.8,324.0 L98.2,324.2 L98.6,324.2 L99.0,324.0 L99.4,323.6 L99.8,323.1 L100.2,322.5 L100.6,321.7 L101.0,320.7 L101.3,319.7 L101.7,318.5 L102.1,317.2 L102.5,315.8 L102.9,314.4 L103.3,312.8 L103.7,311.2 L104.1,309.5 L104.5,307.7 L104.9,305.9 L105.3,304.0 L105.7,302.1 L106.1,300.2 L106.5,298.3 L106.9,296.3 L107.3,294.4 L107.7,292.4 L108.0,290.5 L108.4,288.6 L108.8,286.7 L109.2,284.8 L109.6,283.0 L110.0,281.2 L110.4,279.3 L110.8,277.1 L111.2,274.7 L111.6,272.2 L112.0,269.5 L112.4,266.8 L112.8,263.9 L113.2,261.1 L113.6,258.2 L114.0,255.3 L114.4,252.4 L114.7,249.6 L115.1,246.9 L115.5,244.4 L115.9,241.9 L116.3,239.7 L116.7,237.7 L117.1,235.8 L117.5,234.3 L117.9,233.0 L118.3,232.1 L118.7,231.5 L119.1,231.3 L119.5,231.5 L119.9,232.2 L120.3,233.3 L120.7,234.9 L121.0,236.8 L121.4,239.0 L121.8,241.5 L122.2,244.3 L122.6,247.2 L123.0,250.3 L123.4,253.5 L123.8,256.8 L124.2,260.1 L124.6,263.4 L125.0,266.6 L125.4,269.7 L125.8,272.7 L126.2,275.5 L126.6,278.2 L127.0,281.2 L127.4,284.4 L127.7,287.6 L128.1,290.5 L128.5,292.9 L128.9,294.4 L129.3,295.2 L129.7,295.8 L130.1,296.3 L130.5,296.7 L130.9,297.0 L131.3,297.4 L131.7,297.7 L132.1,298.2 L132.5,298.7 L132.9,299.4 L133.3,300.4 L133.7,301.7 L134.1,303.2 L134.4,304.8 L134.8,306.6 L135.2,308.6 L135.6,310.7 L136.0,312.8 L136.4,315.0 L136.8,317.2 L137.2,319.3 L137.6,321.5 L138.0,323.5 L138.4,325.5 L138.8,327.3 L139.2,328.9 L139.6,330.3 L140.0,331.5 L140.4,332.5 L140.7,333.1 L141.1,333.6 L141.5,334.0 L141.9,334.4 L142.3,334.8 L142.7,335.2 L143.1,335.5 L143.5,335.7 L143.9,335.9 L144.3,336.0 L144.7,336.1 L145.1,336.1 L145.5,335.9 L145.9,335.8 L146.3,335.5 L146.7,335.2 L147.1,334.9 L147.4,334.5 L147.8,334.1 L148.2,333.7 L148.6,333.3 L149.0,332.8 L149.4,332.4 L149.8,332.1 L150.2,331.7 L150.6,331.4 L151.0,331.1 L151.4,330.9 L151.8,330.8 L152.2,330.7 L152.6,330.7 L153.0,330.8 L153.4,331.0 L153.7,331.3 L154.1,331.7 L154.5,332.1 L154.9,332.5 L155.3,333.0 L155.7,333.5 L156.1,334.1 L156.5,334.6 L156.9,335.2 L157.3,335.7 L157.7,336.2 L158.1,336.7 L158.5,337.2 L158.9,337.6 L159.3,338.0 L159.7,338.2 L160.1,338.5 L160.4,338.6 L160.8,338.6 L161.2,338.6 L161.6,338.6 L162.0,338.5 L162.4,338.4 L162.8,338.3 L163.2,338.2 L163.6,338.1 L164.0,337.9 L164.4,337.8 L164.8,337.6 L165.2,337.4 L165.6,337.2 L166.0,337.0 L166.4,336.8 L166.8,336.6 L167.1,336.4 L167.5,336.1 L167.9,335.9 L168.3,335.7 L168.7,335.5 L169.1,335.2 L169.5,335.0 L169.9,334.8 L170.3,334.6 L170.7,334.4 L171.1,334.2 L171.5,334.1 L171.9,333.9 L172.3,333.8 L172.7,333.6 L173.1,333.5 L173.4,333.4 L173.8,333.3 L174.2,333.3 L174.6,333.2 L175.0,333.2 L175.4,333.2 L175.8,333.4 L176.2,333.5 L176.6,333.8 L177.0,334.1 L177.4,334.4 L177.8,334.7 L178.2,335.1 L178.6,335.5 L179.0,335.9 L179.4,336.3 L179.8,336.7 L180.1,337.1 L180.5,337.4 L180.9,337.7 L181.3,337.9 L181.7,338.1 L182.1,338.2 L182.5,338.3 L182.9,338.3 L183.3,338.3 L183.7,338.3 L184.1,338.3 L184.5,338.2 L184.9,338.2 L185.3,338.2 L185.7,338.2 L186.1,338.2 L186.5,338.2 L186.8,338.2 L187.2,338.2 L187.6,338.1 L188.0,338.1 L188.4,338.1 L188.8,338.0 L189.2,338.0 L189.6,338.0 L190.0,337.9 L190.4,337.8 L190.8,337.8 L191.2,337.7 L191.6,337.6 L192.0,337.6 L192.4,337.5 L192.8,337.4 L193.1,337.3 L193.5,337.1 L193.9,337.0 L194.3,336.9 L194.7,336.8 L195.1,336.6 L195.5,336.4 L195.9,336.3 L196.3,336.1" stroke="#e6141c"/>
</g>
<rect x="39.1" y="219" width="157.20000000000002" height="126.10000000000002" fill="none" stroke="#222" stroke-width="1.1"/>
<path d="M39.1,345.1h-2.6 M39.1,309.1h-2.6 M39.1,273.0h-2.6 M39.1,237.0h-2.6 M39.1,327.1h-1.5 M39.1,291.1h-1.5 M39.1,255.0h-1.5 M54.8,345.1v2.6 M86.3,345.1v2.6 M117.7,345.1v2.6 M149.1,345.1v2.6 M180.6,345.1v2.6 M39.1,345.1v1.5 M70.5,345.1v1.5 M102.0,345.1v1.5 M133.4,345.1v1.5 M164.9,345.1v1.5 M196.3,345.1v1.5" stroke="#222" stroke-width="0.8" fill="none"/>
<text class="se" x="34.800000000000004" y="348.6" font-size="11.1" text-anchor="end" fill="#484848">0</text>
<text class="se" x="34.800000000000004" y="312.6" font-size="11.1" text-anchor="end" fill="#484848">1</text>
<text class="se" x="34.800000000000004" y="276.5" font-size="11.1" text-anchor="end" fill="#484848">2</text>
<text class="se" x="34.800000000000004" y="240.5" font-size="11.1" text-anchor="end" fill="#484848">3</text>
<path d="M48.6,355.0h5.4" stroke="#484848" stroke-width="0.9"/>
<text x="54.9" y="358.5" font-size="10.9" fill="#484848">4</text>
<path d="M80.1,355.0h5.4" stroke="#484848" stroke-width="0.9"/>
<text x="86.4" y="358.5" font-size="10.9" fill="#484848">2</text>
<text x="117.7" y="358.5" font-size="10.9" text-anchor="middle" fill="#484848">0</text>
<text x="149.1" y="358.5" font-size="10.9" text-anchor="middle" fill="#484848">2</text>
<text x="180.6" y="358.5" font-size="10.9" text-anchor="middle" fill="#484848">4</text>
<text x="118.2" y="372.3" font-size="10.8" text-anchor="middle" fill="#222">Energy (eV)</text>
<text transform="translate(24.5,282.25) rotate(-90)" font-size="10.8" text-anchor="middle" fill="#222">Density of States (electrons/eV)</text>
<path d="M158,224.5H177.3" stroke="#1414c8" stroke-width="1.05"/>
<text x="179.6" y="227.7" font-size="8.8" fill="#222">s</text>
<path d="M158,234.8H177.3" stroke="#10e6f4" stroke-width="1.05"/>
<text x="179.6" y="238.0" font-size="8.8" fill="#222">p</text>
<path d="M158,244.6H177.3" stroke="#ff7f1c" stroke-width="1.05"/>
<text x="179.6" y="247.79999999999998" font-size="8.8" fill="#222">d</text>
<path d="M158,255H177.3" stroke="#e6141c" stroke-width="1.05"/>
<text x="179.6" y="258.2" font-size="8.8" fill="#222">sum</text>
<clipPath id="cp269"><rect x="269.7" y="219" width="156.7" height="126.49999999999997"/></clipPath>
<g clip-path="url(#cp269)" fill="none" stroke-width="1.2" stroke-linejoin="round">
<path d="M269.7,340.6 L270.1,340.8 L270.5,341.0 L270.9,341.2 L271.3,341.4 L271.7,341.7 L272.1,341.9 L272.4,342.1 L272.8,342.3 L273.2,342.5 L273.6,342.6 L274.0,342.8 L274.4,343.0 L274.8,343.1 L275.2,343.3 L275.6,343.4 L276.0,343.5 L276.4,343.6 L276.8,343.7 L277.2,343.7 L277.6,343.8 L277.9,343.8 L278.3,343.9 L278.7,344.0 L279.1,344.0 L279.5,344.1 L279.9,344.1 L280.3,344.1 L280.7,344.2 L281.1,344.2 L281.5,344.3 L281.9,344.3 L282.3,344.4 L282.7,344.4 L283.1,344.4 L283.4,344.5 L283.8,344.5 L284.2,344.5 L284.6,344.5 L285.0,344.6 L285.4,344.6 L285.8,344.6 L286.2,344.6 L286.6,344.6 L287.0,344.6 L287.4,344.7 L287.8,344.7 L288.2,344.7 L288.6,344.7 L288.9,344.7 L289.3,344.7 L289.7,344.7 L290.1,344.6 L290.5,344.6 L290.9,344.6 L291.3,344.6 L291.7,344.6 L292.1,344.6 L292.5,344.6 L292.9,344.5 L293.3,344.5 L293.7,344.5 L294.0,344.5 L294.4,344.4 L294.8,344.4 L295.2,344.4 L295.6,344.4 L296.0,344.3 L296.4,344.3 L296.8,344.3 L297.2,344.3 L297.6,344.2 L298.0,344.2 L298.4,344.2 L298.8,344.2 L299.2,344.1 L299.5,344.1 L299.9,344.1 L300.3,344.1 L300.7,344.0 L301.1,344.0 L301.5,344.0 L301.9,344.0 L302.3,344.0 L302.7,343.9 L303.1,343.9 L303.5,343.9 L303.9,343.9 L304.3,343.9 L304.7,343.9 L305.0,343.9 L305.4,343.9 L305.8,343.9 L306.2,343.9 L306.6,343.9 L307.0,343.9 L307.4,343.9 L307.8,343.9 L308.2,344.0 L308.6,344.0 L309.0,344.0 L309.4,344.1 L309.8,344.1 L310.2,344.1 L310.5,344.2 L310.9,344.2 L311.3,344.2 L311.7,344.3 L312.1,344.3 L312.5,344.4 L312.9,344.4 L313.3,344.4 L313.7,344.5 L314.1,344.5 L314.5,344.5 L314.9,344.5 L315.3,344.6 L315.6,344.6 L316.0,344.6 L316.4,344.6 L316.8,344.6 L317.2,344.6 L317.6,344.6 L318.0,344.6 L318.4,344.6 L318.8,344.6 L319.2,344.6 L319.6,344.6 L320.0,344.6 L320.4,344.6 L320.8,344.6 L321.1,344.5 L321.5,344.5 L321.9,344.5 L322.3,344.5 L322.7,344.5 L323.1,344.5 L323.5,344.5 L323.9,344.5 L324.3,344.5 L324.7,344.5 L325.1,344.4 L325.5,344.4 L325.9,344.4 L326.3,344.4 L326.6,344.4 L327.0,344.4 L327.4,344.4 L327.8,344.3 L328.2,344.3 L328.6,344.3 L329.0,344.3 L329.4,344.3 L329.8,344.2 L330.2,344.2 L330.6,344.1 L331.0,344.0 L331.4,343.9 L331.8,343.7 L332.1,343.6 L332.5,343.4 L332.9,343.3 L333.3,343.1 L333.7,342.9 L334.1,342.7 L334.5,342.4 L334.9,342.2 L335.3,342.0 L335.7,341.7 L336.1,341.5 L336.5,341.2 L336.9,341.0 L337.2,340.7 L337.6,340.4 L338.0,340.2 L338.4,339.9 L338.8,339.6 L339.2,339.3 L339.6,338.9 L340.0,338.5 L340.4,338.0 L340.8,337.5 L341.2,337.0 L341.6,336.4 L342.0,335.8 L342.4,335.2 L342.7,334.6 L343.1,333.9 L343.5,333.3 L343.9,332.7 L344.3,332.1 L344.7,331.5 L345.1,331.0 L345.5,330.5 L345.9,330.1 L346.3,329.7 L346.7,329.3 L347.1,329.0 L347.5,328.8 L347.9,328.7 L348.2,328.7 L348.6,328.8 L349.0,328.9 L349.4,329.2 L349.8,329.6 L350.2,330.0 L350.6,330.5 L351.0,331.1 L351.4,331.7 L351.8,332.3 L352.2,333.0 L352.6,333.8 L353.0,334.5 L353.4,335.3 L353.7,336.0 L354.1,336.7 L354.5,337.5 L354.9,338.2 L355.3,338.8 L355.7,339.4 L356.1,340.0 L356.5,340.5 L356.9,340.9 L357.3,341.3 L357.7,341.6 L358.1,341.9 L358.5,342.2 L358.9,342.5 L359.2,342.8 L359.6,343.1 L360.0,343.3 L360.4,343.6 L360.8,343.8 L361.2,344.0 L361.6,344.2 L362.0,344.3 L362.4,344.4 L362.8,344.4 L363.2,344.4 L363.6,344.3 L364.0,344.1 L364.3,343.9 L364.7,343.6 L365.1,343.2 L365.5,342.8 L365.9,342.4 L366.3,341.9 L366.7,341.4 L367.1,340.9 L367.5,340.5 L367.9,340.0 L368.3,339.6 L368.7,339.1 L369.1,338.8 L369.5,338.5 L369.8,338.2 L370.2,338.0 L370.6,337.9 L371.0,337.8 L371.4,337.8 L371.8,337.7 L372.2,337.7 L372.6,337.6 L373.0,337.6 L373.4,337.5 L373.8,337.5 L374.2,337.5 L374.6,337.4 L375.0,337.4 L375.3,337.4 L375.7,337.4 L376.1,337.4 L376.5,337.3 L376.9,337.3 L377.3,337.3 L377.7,337.2 L378.1,337.2 L378.5,337.2 L378.9,337.1 L379.3,337.1 L379.7,337.0 L380.1,337.0 L380.5,336.9 L380.8,336.8 L381.2,336.7 L381.6,336.4 L382.0,336.2 L382.4,335.8 L382.8,335.4 L383.2,335.0 L383.6,334.5 L384.0,334.0 L384.4,333.6 L384.8,333.1 L385.2,332.6 L385.6,332.1 L385.9,331.6 L386.3,331.2 L386.7,330.8 L387.1,330.4 L387.5,330.1 L387.9,329.8 L388.3,329.7 L388.7,329.6 L389.1,329.6 L389.5,329.6 L389.9,329.7 L390.3,329.8 L390.7,330.0 L391.1,330.2 L391.4,330.4 L391.8,330.6 L392.2,330.8 L392.6,330.9 L393.0,331.1 L393.4,331.2 L393.8,331.2 L394.2,331.2 L394.6,331.2 L395.0,331.2 L395.4,331.2 L395.8,331.1 L396.2,331.1 L396.6,331.1 L396.9,331.0 L397.3,331.0 L397.7,330.9 L398.1,330.9 L398.5,330.8 L398.9,330.8 L399.3,330.7 L399.7,330.6 L400.1,330.6 L400.5,330.5 L400.9,330.4 L401.3,330.4 L401.7,330.3 L402.1,330.2 L402.4,330.2 L402.8,330.1 L403.2,329.9 L403.6,329.8 L404.0,329.7 L404.4,329.5 L404.8,329.3 L405.2,329.2 L405.6,329.0 L406.0,328.8 L406.4,328.7 L406.8,328.5 L407.2,328.3 L407.5,328.2 L407.9,328.1 L408.3,328.0 L408.7,327.9 L409.1,327.9 L409.5,327.8 L409.9,327.8 L410.3,327.9 L410.7,328.0 L411.1,328.2 L411.5,328.3 L411.9,328.5 L412.3,328.8 L412.7,329.0 L413.0,329.2 L413.4,329.4 L413.8,329.6 L414.2,329.8 L414.6,330.0 L415.0,330.1 L415.4,330.2 L415.8,330.2 L416.2,330.1 L416.6,330.0 L417.0,329.8 L417.4,329.5 L417.8,329.2 L418.2,328.8 L418.5,328.4 L418.9,328.0 L419.3,327.6 L419.7,327.2 L420.1,326.8 L420.5,326.4 L420.9,326.1 L421.3,325.8 L421.7,325.6 L422.1,325.5 L422.5,325.4 L422.9,325.4 L423.3,325.4 L423.7,325.3 L424.0,325.3 L424.4,325.3 L424.8,325.3 L425.2,325.3 L425.6,325.2 L426.0,325.2 L426.4,325.2" stroke="#1414c8"/>
<path d="M269.7,283.9 L270.1,286.0 L270.5,288.0 L270.9,290.0 L271.3,291.9 L271.7,293.6 L272.1,295.4 L272.4,297.0 L272.8,298.6 L273.2,300.1 L273.6,301.5 L274.0,302.8 L274.4,304.1 L274.8,305.3 L275.2,306.4 L275.6,307.5 L276.0,308.5 L276.4,309.4 L276.8,310.2 L277.2,311.0 L277.6,311.7 L277.9,312.3 L278.3,312.9 L278.7,313.4 L279.1,313.8 L279.5,314.2 L279.9,314.5 L280.3,314.7 L280.7,314.9 L281.1,315.0 L281.5,315.0 L281.9,314.9 L282.3,314.5 L282.7,314.0 L283.1,313.3 L283.4,312.4 L283.8,311.5 L284.2,310.4 L284.6,309.2 L285.0,308.0 L285.4,306.8 L285.8,305.5 L286.2,304.3 L286.6,303.1 L287.0,301.9 L287.4,300.8 L287.8,299.9 L288.2,299.0 L288.6,298.3 L288.9,297.8 L289.3,297.4 L289.7,297.3 L290.1,297.4 L290.5,297.8 L290.9,298.4 L291.3,299.1 L291.7,300.1 L292.1,301.2 L292.5,302.3 L292.9,303.6 L293.3,305.0 L293.7,306.4 L294.0,307.7 L294.4,309.1 L294.8,310.4 L295.2,311.7 L295.6,312.8 L296.0,313.8 L296.4,314.7 L296.8,315.4 L297.2,315.8 L297.6,316.1 L298.0,316.1 L298.4,315.8 L298.8,315.4 L299.2,314.8 L299.5,314.0 L299.9,313.1 L300.3,312.0 L300.7,310.9 L301.1,309.6 L301.5,308.3 L301.9,306.9 L302.3,305.5 L302.7,304.0 L303.1,302.6 L303.5,301.1 L303.9,299.7 L304.3,298.4 L304.7,297.1 L305.0,295.9 L305.4,294.8 L305.8,293.8 L306.2,293.0 L306.6,292.3 L307.0,291.8 L307.4,291.5 L307.8,291.4 L308.2,291.5 L308.6,291.7 L309.0,292.1 L309.4,292.6 L309.8,293.2 L310.2,294.0 L310.5,294.8 L310.9,295.8 L311.3,296.8 L311.7,298.0 L312.1,299.2 L312.5,300.4 L312.9,301.7 L313.3,303.1 L313.7,304.5 L314.1,305.9 L314.5,307.4 L314.9,308.8 L315.3,310.3 L315.6,311.7 L316.0,313.2 L316.4,314.6 L316.8,315.9 L317.2,317.3 L317.6,318.6 L318.0,319.8 L318.4,320.9 L318.8,322.0 L319.2,323.0 L319.6,323.9 L320.0,324.7 L320.4,325.5 L320.8,326.3 L321.1,327.1 L321.5,328.0 L321.9,328.8 L322.3,329.6 L322.7,330.5 L323.1,331.3 L323.5,332.1 L323.9,332.8 L324.3,333.5 L324.7,334.2 L325.1,334.8 L325.5,335.3 L325.9,335.8 L326.3,336.2 L326.6,336.6 L327.0,336.8 L327.4,337.0 L327.8,337.0 L328.2,336.9 L328.6,336.5 L329.0,336.0 L329.4,335.2 L329.8,334.3 L330.2,333.3 L330.6,332.2 L331.0,331.1 L331.4,330.0 L331.8,329.0 L332.1,328.0 L332.5,327.1 L332.9,326.3 L333.3,325.7 L333.7,325.4 L334.1,325.2 L334.5,325.3 L334.9,325.5 L335.3,325.7 L335.7,326.1 L336.1,326.5 L336.5,326.9 L336.9,327.4 L337.2,327.9 L337.6,328.4 L338.0,328.9 L338.4,329.4 L338.8,329.8 L339.2,330.1 L339.6,330.4 L340.0,330.6 L340.4,330.7 L340.8,330.7 L341.2,330.2 L341.6,329.5 L342.0,328.5 L342.4,327.2 L342.7,325.7 L343.1,324.0 L343.5,322.2 L343.9,320.2 L344.3,318.2 L344.7,316.2 L345.1,314.2 L345.5,312.2 L345.9,310.3 L346.3,308.5 L346.7,306.8 L347.1,305.4 L347.5,304.1 L347.9,303.1 L348.2,302.4 L348.6,302.1 L349.0,302.0 L349.4,302.2 L349.8,302.4 L350.2,302.8 L350.6,303.4 L351.0,304.0 L351.4,304.7 L351.8,305.5 L352.2,306.4 L352.6,307.4 L353.0,308.5 L353.4,309.6 L353.7,310.8 L354.1,312.1 L354.5,313.4 L354.9,314.7 L355.3,316.1 L355.7,317.5 L356.1,318.9 L356.5,320.4 L356.9,321.8 L357.3,323.2 L357.7,324.7 L358.1,326.1 L358.5,327.4 L358.9,328.8 L359.2,330.1 L359.6,331.4 L360.0,332.6 L360.4,333.8 L360.8,334.8 L361.2,335.9 L361.6,336.8 L362.0,337.7 L362.4,338.4 L362.8,339.1 L363.2,339.6 L363.6,340.0 L364.0,340.3 L364.3,340.5 L364.7,340.6 L365.1,340.5 L365.5,340.3 L365.9,340.0 L366.3,339.6 L366.7,339.1 L367.1,338.6 L367.5,337.9 L367.9,337.2 L368.3,336.4 L368.7,335.6 L369.1,334.7 L369.5,333.8 L369.8,332.9 L370.2,331.9 L370.6,330.9 L371.0,329.9 L371.4,328.9 L371.8,327.9 L372.2,326.9 L372.6,325.9 L373.0,325.0 L373.4,324.0 L373.8,323.1 L374.2,322.3 L374.6,321.5 L375.0,320.8 L375.3,320.1 L375.7,319.5 L376.1,319.0 L376.5,318.5 L376.9,318.2 L377.3,317.9 L377.7,317.8 L378.1,317.8 L378.5,318.0 L378.9,318.5 L379.3,319.2 L379.7,320.1 L380.1,321.2 L380.5,322.2 L380.8,323.4 L381.2,324.4 L381.6,325.5 L382.0,326.3 L382.4,327.1 L382.8,327.6 L383.2,327.8 L383.6,327.8 L384.0,327.5 L384.4,327.0 L384.8,326.3 L385.2,325.4 L385.6,324.3 L385.9,323.2 L386.3,321.9 L386.7,320.5 L387.1,319.0 L387.5,317.5 L387.9,316.0 L388.3,314.4 L388.7,312.9 L389.1,311.4 L389.5,309.9 L389.9,308.5 L390.3,307.2 L390.7,306.0 L391.1,305.0 L391.4,304.0 L391.8,303.1 L392.2,302.2 L392.6,301.2 L393.0,300.2 L393.4,299.2 L393.8,298.3 L394.2,297.3 L394.6,296.4 L395.0,295.5 L395.4,294.6 L395.8,293.8 L396.2,293.1 L396.6,292.4 L396.9,291.8 L397.3,291.3 L397.7,290.8 L398.1,290.5 L398.5,290.3 L398.9,290.2 L399.3,290.3 L399.7,290.6 L400.1,291.0 L400.5,291.6 L400.9,292.4 L401.3,293.4 L401.7,294.5 L402.1,295.7 L402.4,297.0 L402.8,298.3 L403.2,299.8 L403.6,301.3 L404.0,302.9 L404.4,304.5 L404.8,306.2 L405.2,307.8 L405.6,309.4 L406.0,311.1 L406.4,312.6 L406.8,314.2 L407.2,315.6 L407.5,317.0 L407.9,318.3 L408.3,319.5 L408.7,320.6 L409.1,321.6 L409.5,322.5 L409.9,323.5 L410.3,324.5 L410.7,325.6 L411.1,326.6 L411.5,327.6 L411.9,328.5 L412.3,329.4 L412.7,330.3 L413.0,331.0 L413.4,331.7 L413.8,332.2 L414.2,332.7 L414.6,333.0 L415.0,333.1 L415.4,333.1 L415.8,333.1 L416.2,333.1 L416.6,333.1 L417.0,333.1 L417.4,333.0 L417.8,333.0 L418.2,332.9 L418.5,332.9 L418.9,332.8 L419.3,332.7 L419.7,332.6 L420.1,332.4 L420.5,332.2 L420.9,332.0 L421.3,331.8 L421.7,331.5 L422.1,331.2 L422.5,330.9 L422.9,330.5 L423.3,330.1 L423.7,329.7 L424.0,329.2 L424.4,328.7 L424.8,328.1 L425.2,327.4 L425.6,326.8 L426.0,326.0 L426.4,325.2" stroke="#10e6f4"/>
<path d="M269.7,337.8 L270.1,337.5 L270.5,337.2 L270.9,336.9 L271.3,336.7 L271.7,336.6 L272.1,336.5 L272.4,336.4 L272.8,336.3 L273.2,336.3 L273.6,336.2 L274.0,336.3 L274.4,336.4 L274.8,336.7 L275.2,337.1 L275.6,337.5 L276.0,338.1 L276.4,338.6 L276.8,339.3 L277.2,339.9 L277.6,340.5 L277.9,341.1 L278.3,341.7 L278.7,342.3 L279.1,342.8 L279.5,343.2 L279.9,343.5 L280.3,343.7 L280.7,343.7 L281.1,343.7 L281.5,343.7 L281.9,343.6 L282.3,343.5 L282.7,343.5 L283.1,343.4 L283.4,343.3 L283.8,343.2 L284.2,343.0 L284.6,342.9 L285.0,342.8 L285.4,342.7 L285.8,342.6 L286.2,342.5 L286.6,342.5 L287.0,342.4 L287.4,342.4 L287.8,342.4 L288.2,342.4 L288.6,342.5 L288.9,342.5 L289.3,342.7 L289.7,342.8 L290.1,342.9 L290.5,343.1 L290.9,343.3 L291.3,343.4 L291.7,343.6 L292.1,343.8 L292.5,343.9 L292.9,344.1 L293.3,344.2 L293.7,344.3 L294.0,344.4 L294.4,344.4 L294.8,344.4 L295.2,344.4 L295.6,344.4 L296.0,344.4 L296.4,344.4 L296.8,344.4 L297.2,344.4 L297.6,344.4 L298.0,344.3 L298.4,344.3 L298.8,344.3 L299.2,344.3 L299.5,344.2 L299.9,344.2 L300.3,344.2 L300.7,344.2 L301.1,344.1 L301.5,344.1 L301.9,344.1 L302.3,344.0 L302.7,344.0 L303.1,344.0 L303.5,344.0 L303.9,343.9 L304.3,343.9 L304.7,343.9 L305.0,343.8 L305.4,343.8 L305.8,343.8 L306.2,343.8 L306.6,343.8 L307.0,343.8 L307.4,343.7 L307.8,343.7 L308.2,343.7 L308.6,343.7 L309.0,343.7 L309.4,343.7 L309.8,343.7 L310.2,343.8 L310.5,343.8 L310.9,343.8 L311.3,343.8 L311.7,343.9 L312.1,343.9 L312.5,344.0 L312.9,344.0 L313.3,344.0 L313.7,344.1 L314.1,344.1 L314.5,344.2 L314.9,344.2 L315.3,344.2 L315.6,344.2 L316.0,344.3 L316.4,344.3 L316.8,344.3 L317.2,344.3 L317.6,344.2 L318.0,344.2 L318.4,344.1 L318.8,344.0 L319.2,343.9 L319.6,343.8 L320.0,343.6 L320.4,343.1 L320.8,342.0 L321.1,340.6 L321.5,338.9 L321.9,336.9 L322.3,334.9 L322.7,332.8 L323.1,330.7 L323.5,328.7 L323.9,327.0 L324.3,325.1 L324.7,322.9 L325.1,320.7 L325.5,318.6 L325.9,316.5 L326.3,314.8 L326.6,313.3 L327.0,312.3 L327.4,311.8 L327.8,311.4 L328.2,311.0 L328.6,310.6 L329.0,310.2 L329.4,309.9 L329.8,309.6 L330.2,309.3 L330.6,309.1 L331.0,308.8 L331.4,308.7 L331.8,308.5 L332.1,308.3 L332.5,308.2 L332.9,308.1 L333.3,308.1 L333.7,308.1 L334.1,308.2 L334.5,308.6 L334.9,309.2 L335.3,309.9 L335.7,310.9 L336.1,311.9 L336.5,312.9 L336.9,313.9 L337.2,314.8 L337.6,315.6 L338.0,316.3 L338.4,316.7 L338.8,316.8 L339.2,316.6 L339.6,316.0 L340.0,315.1 L340.4,313.9 L340.8,312.4 L341.2,310.8 L341.6,309.0 L342.0,307.1 L342.4,305.2 L342.7,303.2 L343.1,301.2 L343.5,299.4 L343.9,297.6 L344.3,296.1 L344.7,294.7 L345.1,293.6 L345.5,292.8 L345.9,292.3 L346.3,292.2 L346.7,292.5 L347.1,293.2 L347.5,294.3 L347.9,295.6 L348.2,297.3 L348.6,299.1 L349.0,301.2 L349.4,303.4 L349.8,305.7 L350.2,308.1 L350.6,310.6 L351.0,313.0 L351.4,315.5 L351.8,317.8 L352.2,320.1 L352.6,322.2 L353.0,324.1 L353.4,325.8 L353.7,327.3 L354.1,328.5 L354.5,329.7 L354.9,331.0 L355.3,332.2 L355.7,333.5 L356.1,334.7 L356.5,335.9 L356.9,337.0 L357.3,338.1 L357.7,339.1 L358.1,340.0 L358.5,340.9 L358.9,341.6 L359.2,342.3 L359.6,342.8 L360.0,343.3 L360.4,343.6 L360.8,343.7 L361.2,343.9 L361.6,344.0 L362.0,344.2 L362.4,344.3 L362.8,344.4 L363.2,344.5 L363.6,344.6 L364.0,344.6 L364.3,344.7 L364.7,344.7 L365.1,344.7 L365.5,344.7 L365.9,344.7 L366.3,344.7 L366.7,344.7 L367.1,344.7 L367.5,344.7 L367.9,344.6 L368.3,344.6 L368.7,344.6 L369.1,344.5 L369.5,344.5 L369.8,344.4 L370.2,344.4 L370.6,344.3 L371.0,344.3 L371.4,344.2 L371.8,344.2 L372.2,344.1 L372.6,344.1 L373.0,344.0 L373.4,344.0 L373.8,343.9 L374.2,343.9 L374.6,343.8 L375.0,343.8 L375.3,343.7 L375.7,343.7 L376.1,343.7 L376.5,343.6 L376.9,343.6 L377.3,343.6 L377.7,343.5 L378.1,343.5 L378.5,343.5 L378.9,343.5 L379.3,343.5 L379.7,343.5 L380.1,343.5 L380.5,343.5 L380.8,343.6 L381.2,343.6 L381.6,343.6 L382.0,343.7 L382.4,343.8 L382.8,343.8 L383.2,343.9 L383.6,343.9 L384.0,344.0 L384.4,344.1 L384.8,344.2 L385.2,344.2 L385.6,344.3 L385.9,344.3 L386.3,344.4 L386.7,344.5 L387.1,344.5 L387.5,344.5 L387.9,344.6 L388.3,344.6 L388.7,344.6 L389.1,344.6 L389.5,344.6 L389.9,344.6 L390.3,344.5 L390.7,344.5 L391.1,344.5 L391.4,344.4 L391.8,344.4 L392.2,344.3 L392.6,344.3 L393.0,344.2 L393.4,344.2 L393.8,344.1 L394.2,344.0 L394.6,344.0 L395.0,343.9 L395.4,343.9 L395.8,343.8 L396.2,343.8 L396.6,343.7 L396.9,343.7 L397.3,343.6 L397.7,343.6 L398.1,343.5 L398.5,343.5 L398.9,343.5 L399.3,343.5 L399.7,343.5 L400.1,343.5 L400.5,343.5 L400.9,343.5 L401.3,343.5 L401.7,343.6 L402.1,343.6 L402.4,343.7 L402.8,343.7 L403.2,343.8 L403.6,343.8 L404.0,343.9 L404.4,343.9 L404.8,344.0 L405.2,344.1 L405.6,344.1 L406.0,344.2 L406.4,344.3 L406.8,344.3 L407.2,344.4 L407.5,344.4 L407.9,344.5 L408.3,344.5 L408.7,344.6 L409.1,344.6 L409.5,344.6 L409.9,344.6 L410.3,344.7 L410.7,344.7 L411.1,344.7 L411.5,344.7 L411.9,344.7 L412.3,344.7 L412.7,344.7 L413.0,344.7 L413.4,344.7 L413.8,344.7 L414.2,344.7 L414.6,344.7 L415.0,344.7 L415.4,344.7 L415.8,344.7 L416.2,344.7 L416.6,344.7 L417.0,344.7 L417.4,344.7 L417.8,344.7 L418.2,344.7 L418.5,344.7 L418.9,344.7 L419.3,344.7 L419.7,344.7 L420.1,344.7 L420.5,344.7 L420.9,344.7 L421.3,344.7 L421.7,344.7 L422.1,344.7 L422.5,344.7 L422.9,344.7 L423.3,344.7 L423.7,344.7 L424.0,344.7 L424.4,344.7 L424.8,344.7 L425.2,344.7 L425.6,344.7 L426.0,344.7 L426.4,344.7" stroke="#ff7f1c"/>
<path d="M269.7,273.7 L270.1,273.0 L270.5,272.4 L270.9,272.0 L271.3,271.8 L271.7,271.7 L272.1,272.0 L272.4,272.6 L272.8,273.6 L273.2,274.8 L273.6,276.3 L274.0,278.0 L274.4,279.9 L274.8,282.0 L275.2,284.2 L275.6,286.5 L276.0,288.9 L276.4,291.3 L276.8,293.7 L277.2,296.2 L277.6,298.5 L277.9,300.8 L278.3,303.0 L278.7,305.0 L279.1,306.9 L279.5,308.5 L279.9,310.0 L280.3,311.1 L280.7,312.0 L281.1,312.5 L281.5,312.6 L281.9,312.5 L282.3,312.2 L282.7,311.6 L283.1,310.9 L283.4,310.1 L283.8,309.1 L284.2,308.0 L284.6,306.9 L285.0,305.7 L285.4,304.4 L285.8,303.2 L286.2,301.9 L286.6,300.7 L287.0,299.5 L287.4,298.5 L287.8,297.5 L288.2,296.6 L288.6,295.9 L288.9,295.4 L289.3,295.1 L289.7,294.9 L290.1,295.1 L290.5,295.4 L290.9,296.1 L291.3,296.9 L291.7,298.0 L292.1,299.1 L292.5,300.4 L292.9,301.8 L293.3,303.3 L293.7,304.8 L294.0,306.3 L294.4,307.8 L294.8,309.2 L295.2,310.6 L295.6,311.8 L296.0,312.9 L296.4,313.9 L296.8,314.6 L297.2,315.1 L297.6,315.4 L298.0,315.4 L298.4,315.1 L298.8,314.7 L299.2,314.0 L299.5,313.2 L299.9,312.2 L300.3,311.1 L300.7,309.9 L301.1,308.6 L301.5,307.2 L301.9,305.7 L302.3,304.2 L302.7,302.7 L303.1,301.2 L303.5,299.7 L303.9,298.2 L304.3,296.8 L304.7,295.4 L305.0,294.2 L305.4,293.0 L305.8,292.0 L306.2,291.1 L306.6,290.4 L307.0,289.9 L307.4,289.5 L307.8,289.4 L308.2,289.5 L308.6,289.8 L309.0,290.3 L309.4,290.9 L309.8,291.7 L310.2,292.6 L310.5,293.7 L310.9,294.8 L311.3,296.1 L311.7,297.4 L312.1,298.8 L312.5,300.3 L312.9,301.8 L313.3,303.3 L313.7,304.9 L314.1,306.4 L314.5,308.0 L314.9,309.5 L315.3,311.0 L315.6,312.4 L316.0,313.8 L316.4,315.1 L316.8,316.3 L317.2,317.4 L317.6,318.4 L318.0,319.3 L318.4,320.0 L318.8,320.6 L319.2,321.0 L319.6,321.2 L320.0,321.3 L320.4,321.1 L320.8,320.8 L321.1,320.2 L321.5,319.5 L321.9,318.7 L322.3,317.8 L322.7,316.7 L323.1,315.6 L323.5,314.5 L323.9,313.2 L324.3,312.0 L324.7,310.8 L325.1,309.6 L325.5,308.4 L325.9,307.2 L326.3,306.2 L326.6,305.2 L327.0,304.3 L327.4,303.6 L327.8,302.9 L328.2,302.3 L328.6,301.7 L329.0,301.1 L329.4,300.5 L329.8,299.8 L330.2,298.9 L330.6,297.7 L331.0,296.2 L331.4,294.5 L331.8,292.8 L332.1,291.0 L332.5,289.4 L332.9,288.0 L333.3,287.0 L333.7,286.4 L334.1,286.3 L334.5,286.6 L334.9,287.3 L335.3,288.1 L335.7,289.1 L336.1,290.3 L336.5,291.5 L336.9,292.6 L337.2,293.7 L337.6,294.7 L338.0,295.5 L338.4,295.9 L338.8,296.1 L339.2,295.7 L339.6,294.7 L340.0,293.1 L340.4,290.9 L340.8,288.3 L341.2,285.2 L341.6,281.9 L342.0,278.2 L342.4,274.4 L342.7,270.4 L343.1,266.4 L343.5,262.3 L343.9,258.3 L344.3,254.4 L344.7,250.7 L345.1,247.3 L345.5,244.1 L345.9,241.4 L346.3,239.1 L346.7,237.3 L347.1,236.1 L347.5,235.6 L347.9,235.6 L348.2,236.0 L348.6,236.7 L349.0,237.7 L349.4,238.9 L349.8,240.4 L350.2,242.2 L350.6,244.2 L351.0,246.3 L351.4,248.7 L351.8,251.3 L352.2,254.1 L352.6,257.0 L353.0,260.0 L353.4,263.2 L353.7,266.4 L354.1,269.8 L354.5,273.2 L354.9,276.7 L355.3,280.2 L355.7,283.8 L356.1,287.4 L356.5,291.0 L356.9,294.6 L357.3,298.1 L357.7,301.6 L358.1,305.0 L358.5,308.4 L358.9,311.7 L359.2,314.9 L359.6,317.9 L360.0,320.8 L360.4,323.6 L360.8,326.2 L361.2,328.6 L361.6,330.8 L362.0,332.8 L362.4,334.6 L362.8,336.1 L363.2,337.4 L363.6,338.4 L364.0,339.1 L364.3,339.5 L364.7,339.6 L365.1,339.4 L365.5,338.9 L365.9,338.1 L366.3,337.1 L366.7,335.9 L367.1,334.5 L367.5,333.1 L367.9,331.5 L368.3,329.8 L368.7,328.2 L369.1,326.5 L369.5,324.9 L369.8,323.3 L370.2,321.9 L370.6,320.5 L371.0,319.4 L371.4,318.4 L371.8,317.7 L372.2,316.9 L372.6,316.1 L373.0,315.3 L373.4,314.6 L373.8,313.8 L374.2,313.1 L374.6,312.4 L375.0,311.8 L375.3,311.1 L375.7,310.6 L376.1,310.1 L376.5,309.7 L376.9,309.3 L377.3,309.0 L377.7,308.8 L378.1,308.7 L378.5,308.7 L378.9,309.0 L379.3,309.6 L379.7,310.3 L380.1,311.2 L380.5,312.1 L380.8,313.1 L381.2,314.1 L381.6,315.1 L382.0,315.9 L382.4,316.6 L382.8,317.1 L383.2,317.3 L383.6,317.3 L384.0,316.9 L384.4,316.2 L384.8,315.2 L385.2,314.1 L385.6,312.7 L385.9,311.1 L386.3,309.4 L386.7,307.6 L387.1,305.7 L387.5,303.7 L387.9,301.7 L388.3,299.7 L388.7,297.7 L389.1,295.8 L389.5,294.0 L389.9,292.3 L390.3,290.7 L390.7,289.3 L391.1,288.1 L391.4,287.1 L391.8,286.1 L392.2,285.2 L392.6,284.2 L393.0,283.2 L393.4,282.3 L393.8,281.3 L394.2,280.4 L394.6,279.5 L395.0,278.6 L395.4,277.8 L395.8,277.0 L396.2,276.3 L396.6,275.7 L396.9,275.1 L397.3,274.6 L397.7,274.1 L398.1,273.8 L398.5,273.5 L398.9,273.3 L399.3,273.3 L399.7,273.4 L400.1,273.6 L400.5,274.0 L400.9,274.4 L401.3,275.1 L401.7,275.8 L402.1,276.6 L402.4,277.6 L402.8,278.6 L403.2,279.7 L403.6,280.9 L404.0,282.2 L404.4,283.5 L404.8,284.9 L405.2,286.4 L405.6,287.8 L406.0,289.4 L406.4,290.9 L406.8,292.5 L407.2,294.1 L407.5,295.7 L407.9,297.2 L408.3,298.8 L408.7,300.4 L409.1,301.9 L409.5,303.5 L409.9,304.9 L410.3,306.4 L410.7,307.7 L411.1,309.1 L411.5,310.3 L411.9,311.5 L412.3,312.6 L412.7,313.6 L413.0,314.6 L413.4,315.4 L413.8,316.1 L414.2,316.7 L414.6,317.2 L415.0,317.5 L415.4,317.7 L415.8,317.8 L416.2,317.6 L416.6,317.1 L417.0,316.5 L417.4,315.7 L417.8,314.7 L418.2,313.7 L418.5,312.6 L418.9,311.6 L419.3,310.6 L419.7,309.6 L420.1,308.8 L420.5,308.2 L420.9,307.8 L421.3,307.4 L421.7,307.0 L422.1,306.7 L422.5,306.3 L422.9,306.0 L423.3,305.7 L423.7,305.4 L424.0,305.2 L424.4,304.9 L424.8,304.7 L425.2,304.6 L425.6,304.5 L426.0,304.4 L426.4,304.4" stroke="#e6141c"/>
</g>
<rect x="269.7" y="219" width="156.7" height="125.89999999999998" fill="none" stroke="#222" stroke-width="1.1"/>
<path d="M269.7,344.9h-2.6 M269.7,329.2h-2.6 M269.7,313.4h-2.6 M269.7,297.7h-2.6 M269.7,281.9h-2.6 M269.7,266.2h-2.6 M269.7,250.5h-2.6 M269.7,234.7h-2.6 M269.7,219.0h-2.6 M269.7,337.0h-1.5 M269.7,321.3h-1.5 M269.7,305.6h-1.5 M269.7,289.8h-1.5 M269.7,274.1h-1.5 M269.7,258.3h-1.5 M269.7,242.6h-1.5 M269.7,226.9h-1.5 M269.7,344.9v2.6 M285.4,344.9v2.6 M301.0,344.9v2.6 M316.7,344.9v2.6 M332.4,344.9v2.6 M348.0,344.9v2.6 M363.7,344.9v2.6 M379.4,344.9v2.6 M395.1,344.9v2.6 M410.7,344.9v2.6 M426.4,344.9v2.6 M277.5,344.9v1.5 M293.2,344.9v1.5 M308.9,344.9v1.5 M324.5,344.9v1.5 M340.2,344.9v1.5 M355.9,344.9v1.5 M371.6,344.9v1.5 M387.2,344.9v1.5 M402.9,344.9v1.5 M418.6,344.9v1.5" stroke="#222" stroke-width="0.8" fill="none"/>
<text class="se" x="265.4" y="348.4" font-size="11.1" text-anchor="end" fill="#222">0</text>
<text class="se" x="265.4" y="332.7" font-size="11.1" text-anchor="end" fill="#222">20</text>
<text class="se" x="265.4" y="316.9" font-size="11.1" text-anchor="end" fill="#222">40</text>
<text class="se" x="265.4" y="301.2" font-size="11.1" text-anchor="end" fill="#222">60</text>
<text class="se" x="265.4" y="285.4" font-size="11.1" text-anchor="end" fill="#222">80</text>
<text class="se" x="265.4" y="269.7" font-size="11.1" text-anchor="end" fill="#222">100</text>
<text class="se" x="265.4" y="254.0" font-size="11.1" text-anchor="end" fill="#222">120</text>
<text class="se" x="265.4" y="238.2" font-size="11.1" text-anchor="end" fill="#222">140</text>
<text class="se" x="265.4" y="222.5" font-size="11.1" text-anchor="end" fill="#222">160</text>
<path d="M264.1,354.79999999999995h4.2" stroke="#222" stroke-width="0.9"/>
<text x="269.2" y="358.29999999999995" font-size="10.9" fill="#222">5</text>
<path d="M279.8,354.79999999999995h4.2" stroke="#222" stroke-width="0.9"/>
<text x="284.9" y="358.29999999999995" font-size="10.9" fill="#222">4</text>
<path d="M295.5,354.79999999999995h4.2" stroke="#222" stroke-width="0.9"/>
<text x="300.6" y="358.29999999999995" font-size="10.9" fill="#222">3</text>
<path d="M311.1,354.79999999999995h4.2" stroke="#222" stroke-width="0.9"/>
<text x="316.2" y="358.29999999999995" font-size="10.9" fill="#222">2</text>
<path d="M326.8,354.79999999999995h4.2" stroke="#222" stroke-width="0.9"/>
<text x="331.9" y="358.29999999999995" font-size="10.9" fill="#222">1</text>
<text x="348.0" y="358.29999999999995" font-size="10.9" text-anchor="middle" fill="#222">0</text>
<text x="363.7" y="358.29999999999995" font-size="10.9" text-anchor="middle" fill="#222">1</text>
<text x="379.4" y="358.29999999999995" font-size="10.9" text-anchor="middle" fill="#222">2</text>
<text x="395.1" y="358.29999999999995" font-size="10.9" text-anchor="middle" fill="#222">3</text>
<text x="410.7" y="358.29999999999995" font-size="10.9" text-anchor="middle" fill="#222">4</text>
<text x="426.4" y="358.29999999999995" font-size="10.9" text-anchor="middle" fill="#222">5</text>
<text x="348.54999999999995" y="372.09999999999997" font-size="10.8" text-anchor="middle" fill="#222">Energy (eV)</text>
<text transform="translate(244.6,282.84999999999997) rotate(-90)" font-size="10.8" text-anchor="middle" fill="#222">Density of States (electrons/eV)</text>
<path d="M389.6,223.4H407.9" stroke="#1414c8" stroke-width="1.05"/>
<text x="410.4" y="226.6" font-size="8.8" fill="#222">s</text>
<path d="M389.6,234.0H407.9" stroke="#10e6f4" stroke-width="1.05"/>
<text x="410.4" y="237.2" font-size="8.8" fill="#222">p</text>
<path d="M389.6,244.0H407.9" stroke="#ff7f1c" stroke-width="1.05"/>
<text x="410.4" y="247.2" font-size="8.8" fill="#222">d</text>
<path d="M389.6,254.3H407.9" stroke="#e6141c" stroke-width="1.05"/>
<text x="410.4" y="257.5" font-size="8.8" fill="#222">sum</text>
<clipPath id="cp499"><rect x="499.7" y="219" width="156.7" height="126.49999999999997"/></clipPath>
<g clip-path="url(#cp499)" fill="none" stroke-width="1.2" stroke-linejoin="round">
<path d="M499.7,343.3 L500.1,343.2 L500.5,343.1 L500.9,343.0 L501.3,342.9 L501.7,342.8 L502.1,342.7 L502.4,342.6 L502.8,342.5 L503.2,342.5 L503.6,342.4 L504.0,342.3 L504.4,342.3 L504.8,342.2 L505.2,342.2 L505.6,342.2 L506.0,342.2 L506.4,342.1 L506.8,342.1 L507.2,342.2 L507.6,342.2 L507.9,342.2 L508.3,342.3 L508.7,342.3 L509.1,342.4 L509.5,342.5 L509.9,342.6 L510.3,342.7 L510.7,342.8 L511.1,342.9 L511.5,343.0 L511.9,343.1 L512.3,343.2 L512.7,343.3 L513.1,343.4 L513.4,343.5 L513.8,343.6 L514.2,343.6 L514.6,343.7 L515.0,343.8 L515.4,343.8 L515.8,343.9 L516.2,343.9 L516.6,343.9 L517.0,344.0 L517.4,343.9 L517.8,343.9 L518.2,343.8 L518.6,343.7 L518.9,343.6 L519.3,343.4 L519.7,343.2 L520.1,343.1 L520.5,342.9 L520.9,342.7 L521.3,342.5 L521.7,342.2 L522.1,342.0 L522.5,341.8 L522.9,341.6 L523.3,341.4 L523.7,341.2 L524.0,341.1 L524.4,340.9 L524.8,340.8 L525.2,340.7 L525.6,340.6 L526.0,340.5 L526.4,340.5 L526.8,340.5 L527.2,340.5 L527.6,340.5 L528.0,340.6 L528.4,340.6 L528.8,340.7 L529.2,340.8 L529.5,340.9 L529.9,341.0 L530.3,341.1 L530.7,341.2 L531.1,341.3 L531.5,341.4 L531.9,341.5 L532.3,341.7 L532.7,341.8 L533.1,341.9 L533.5,342.1 L533.9,342.2 L534.3,342.4 L534.7,342.5 L535.0,342.6 L535.4,342.8 L535.8,342.9 L536.2,343.0 L536.6,343.1 L537.0,343.2 L537.4,343.4 L537.8,343.5 L538.2,343.6 L538.6,343.7 L539.0,343.9 L539.4,344.0 L539.8,344.2 L540.2,344.3 L540.5,344.4 L540.9,344.5 L541.3,344.6 L541.7,344.7 L542.1,344.8 L542.5,344.9 L542.9,344.9 L543.3,344.9 L543.7,344.9 L544.1,344.8 L544.5,344.7 L544.9,344.7 L545.3,344.5 L545.6,344.4 L546.0,344.3 L546.4,344.1 L546.8,344.0 L547.2,343.8 L547.6,343.6 L548.0,343.5 L548.4,343.3 L548.8,343.1 L549.2,342.9 L549.6,342.8 L550.0,342.6 L550.4,342.4 L550.8,342.3 L551.1,342.2 L551.5,342.1 L551.9,342.0 L552.3,341.9 L552.7,341.8 L553.1,341.8 L553.5,341.7 L553.9,341.7 L554.3,341.6 L554.7,341.6 L555.1,341.6 L555.5,341.5 L555.9,341.5 L556.3,341.4 L556.6,341.3 L557.0,341.2 L557.4,341.1 L557.8,340.8 L558.2,340.5 L558.6,340.1 L559.0,339.7 L559.4,339.2 L559.8,338.7 L560.2,338.1 L560.6,337.6 L561.0,337.0 L561.4,336.5 L561.8,335.9 L562.1,335.4 L562.5,334.9 L562.9,334.5 L563.3,334.1 L563.7,333.8 L564.1,333.6 L564.5,333.5 L564.9,333.4 L565.3,333.5 L565.7,333.6 L566.1,333.7 L566.5,334.0 L566.9,334.2 L567.2,334.5 L567.6,334.8 L568.0,335.2 L568.4,335.5 L568.8,335.8 L569.2,336.1 L569.6,336.3 L570.0,336.6 L570.4,336.7 L570.8,336.8 L571.2,336.9 L571.6,336.8 L572.0,336.4 L572.4,336.0 L572.7,335.3 L573.1,334.6 L573.5,333.8 L573.9,332.9 L574.3,331.9 L574.7,331.0 L575.1,330.1 L575.5,329.2 L575.9,328.3 L576.3,327.6 L576.7,327.0 L577.1,326.5 L577.5,326.1 L577.9,326.0 L578.2,326.1 L578.6,326.2 L579.0,326.5 L579.4,326.9 L579.8,327.3 L580.2,327.8 L580.6,328.3 L581.0,328.8 L581.4,329.4 L581.8,329.9 L582.2,330.4 L582.6,330.8 L583.0,331.2 L583.4,331.6 L583.7,331.8 L584.1,331.9 L584.5,332.1 L584.9,332.2 L585.3,332.3 L585.7,332.3 L586.1,332.4 L586.5,332.5 L586.9,332.6 L587.3,332.7 L587.7,332.8 L588.1,332.9 L588.5,333.1 L588.9,333.3 L589.2,333.6 L589.6,334.0 L590.0,334.3 L590.4,334.7 L590.8,335.1 L591.2,335.5 L591.6,335.9 L592.0,336.3 L592.4,336.7 L592.8,337.1 L593.2,337.4 L593.6,337.7 L594.0,338.0 L594.3,338.3 L594.7,338.4 L595.1,338.6 L595.5,338.6 L595.9,338.6 L596.3,338.5 L596.7,338.4 L597.1,338.2 L597.5,338.0 L597.9,337.7 L598.3,337.4 L598.7,337.1 L599.1,336.7 L599.5,336.3 L599.8,335.9 L600.2,335.4 L600.6,335.0 L601.0,334.5 L601.4,334.1 L601.8,333.6 L602.2,333.2 L602.6,332.7 L603.0,332.3 L603.4,331.8 L603.8,331.4 L604.2,331.1 L604.6,330.7 L605.0,330.4 L605.3,330.1 L605.7,329.9 L606.1,329.7 L606.5,329.5 L606.9,329.4 L607.3,329.4 L607.7,329.4 L608.1,329.5 L608.5,329.5 L608.9,329.6 L609.3,329.8 L609.7,329.9 L610.1,330.1 L610.5,330.3 L610.8,330.5 L611.2,330.7 L611.6,330.9 L612.0,331.1 L612.4,331.4 L612.8,331.6 L613.2,331.8 L613.6,332.0 L614.0,332.2 L614.4,332.4 L614.8,332.6 L615.2,332.7 L615.6,332.8 L615.9,332.9 L616.3,333.1 L616.7,333.2 L617.1,333.3 L617.5,333.4 L617.9,333.5 L618.3,333.6 L618.7,333.7 L619.1,333.8 L619.5,333.9 L619.9,334.0 L620.3,334.1 L620.7,334.2 L621.1,334.3 L621.4,334.4 L621.8,334.5 L622.2,334.6 L622.6,334.6 L623.0,334.7 L623.4,334.7 L623.8,334.8 L624.2,334.8 L624.6,334.9 L625.0,334.9 L625.4,334.9 L625.8,334.9 L626.2,334.9 L626.6,334.8 L626.9,334.7 L627.3,334.6 L627.7,334.5 L628.1,334.3 L628.5,334.2 L628.9,334.0 L629.3,333.8 L629.7,333.6 L630.1,333.3 L630.5,333.1 L630.9,332.9 L631.3,332.6 L631.7,332.4 L632.1,332.1 L632.4,331.9 L632.8,331.7 L633.2,331.5 L633.6,331.3 L634.0,331.1 L634.4,330.9 L634.8,330.8 L635.2,330.6 L635.6,330.5 L636.0,330.4 L636.4,330.4 L636.8,330.3 L637.2,330.2 L637.5,330.1 L637.9,330.1 L638.3,330.0 L638.7,329.9 L639.1,329.8 L639.5,329.8 L639.9,329.7 L640.3,329.6 L640.7,329.6 L641.1,329.5 L641.5,329.4 L641.9,329.4 L642.3,329.3 L642.7,329.3 L643.0,329.2 L643.4,329.1 L643.8,329.1 L644.2,329.1 L644.6,329.0 L645.0,329.0 L645.4,328.9 L645.8,328.9 L646.2,328.9 L646.6,328.8 L647.0,328.8 L647.4,328.8 L647.8,328.8 L648.2,328.8 L648.5,328.8 L648.9,328.8 L649.3,328.8 L649.7,328.8 L650.1,328.8 L650.5,328.8 L650.9,328.8 L651.3,328.8 L651.7,328.8 L652.1,328.8 L652.5,328.8 L652.9,328.9 L653.3,328.9 L653.7,328.9 L654.0,328.9 L654.4,329.0 L654.8,329.0 L655.2,329.0 L655.6,329.1 L656.0,329.1 L656.4,329.2" stroke="#1414c8"/>
<path d="M499.7,297.7 L500.1,298.6 L500.5,299.5 L500.9,300.4 L501.3,301.3 L501.7,302.1 L502.1,302.9 L502.4,303.6 L502.8,304.3 L503.2,305.0 L503.6,305.6 L504.0,306.2 L504.4,306.7 L504.8,307.1 L505.2,307.5 L505.6,307.9 L506.0,308.2 L506.4,308.5 L506.8,308.7 L507.2,308.9 L507.6,309.1 L507.9,309.3 L508.3,309.5 L508.7,309.7 L509.1,309.9 L509.5,310.2 L509.9,310.5 L510.3,310.9 L510.7,311.3 L511.1,311.7 L511.5,312.2 L511.9,312.7 L512.3,313.3 L512.7,313.9 L513.1,314.5 L513.4,315.1 L513.8,315.6 L514.2,316.2 L514.6,316.8 L515.0,317.4 L515.4,317.9 L515.8,318.4 L516.2,318.9 L516.6,319.3 L517.0,319.7 L517.4,320.0 L517.8,320.2 L518.2,320.4 L518.6,320.5 L518.9,320.5 L519.3,320.3 L519.7,319.8 L520.1,319.1 L520.5,318.2 L520.9,317.1 L521.3,316.0 L521.7,314.7 L522.1,313.3 L522.5,311.9 L522.9,310.5 L523.3,309.1 L523.7,307.7 L524.0,306.5 L524.4,305.3 L524.8,304.2 L525.2,303.4 L525.6,302.7 L526.0,302.2 L526.4,302.0 L526.8,302.1 L527.2,302.2 L527.6,302.5 L528.0,302.9 L528.4,303.4 L528.8,304.0 L529.2,304.6 L529.5,305.3 L529.9,306.1 L530.3,306.8 L530.7,307.6 L531.1,308.4 L531.5,309.1 L531.9,309.8 L532.3,310.5 L532.7,311.1 L533.1,311.6 L533.5,312.0 L533.9,312.4 L534.3,312.7 L534.7,312.9 L535.0,313.1 L535.4,313.3 L535.8,313.5 L536.2,313.6 L536.6,313.8 L537.0,314.0 L537.4,314.2 L537.8,314.4 L538.2,314.7 L538.6,315.1 L539.0,315.5 L539.4,316.5 L539.8,318.1 L540.2,320.1 L540.5,322.4 L540.9,324.9 L541.3,327.3 L541.7,329.6 L542.1,331.5 L542.5,333.0 L542.9,333.8 L543.3,333.8 L543.7,333.5 L544.1,333.0 L544.5,332.1 L544.9,331.1 L545.3,329.9 L545.6,328.5 L546.0,327.0 L546.4,325.5 L546.8,323.8 L547.2,322.2 L547.6,320.5 L548.0,318.9 L548.4,317.4 L548.8,316.0 L549.2,314.7 L549.6,313.6 L550.0,312.7 L550.4,312.0 L550.8,311.6 L551.1,311.5 L551.5,311.6 L551.9,312.1 L552.3,312.8 L552.7,313.7 L553.1,314.8 L553.5,315.9 L553.9,317.2 L554.3,318.5 L554.7,319.9 L555.1,321.2 L555.5,322.4 L555.9,323.6 L556.3,324.7 L556.6,325.5 L557.0,326.2 L557.4,326.6 L557.8,326.8 L558.2,326.6 L558.6,326.2 L559.0,325.5 L559.4,324.5 L559.8,323.3 L560.2,322.0 L560.6,320.6 L561.0,319.1 L561.4,317.6 L561.8,316.1 L562.1,314.6 L562.5,313.2 L562.9,311.9 L563.3,310.7 L563.7,309.7 L564.1,309.0 L564.5,308.5 L564.9,308.4 L565.3,308.5 L565.7,309.0 L566.1,309.6 L566.5,310.5 L566.9,311.5 L567.2,312.7 L567.6,313.9 L568.0,315.1 L568.4,316.4 L568.8,317.6 L569.2,318.7 L569.6,319.7 L570.0,320.6 L570.4,321.2 L570.8,321.6 L571.2,321.8 L571.6,321.6 L572.0,321.0 L572.4,320.2 L572.7,319.1 L573.1,317.8 L573.5,316.4 L573.9,314.7 L574.3,313.0 L574.7,311.2 L575.1,309.4 L575.5,307.6 L575.9,305.9 L576.3,304.2 L576.7,302.6 L577.1,301.3 L577.5,300.1 L577.9,299.1 L578.2,298.5 L578.6,298.1 L579.0,298.1 L579.4,298.4 L579.8,299.0 L580.2,299.9 L580.6,300.8 L581.0,301.9 L581.4,303.0 L581.8,304.1 L582.2,305.2 L582.6,306.1 L583.0,306.9 L583.4,307.4 L583.7,307.7 L584.1,307.6 L584.5,307.4 L584.9,307.1 L585.3,306.6 L585.7,306.1 L586.1,305.5 L586.5,305.0 L586.9,304.5 L587.3,304.0 L587.7,303.7 L588.1,303.5 L588.5,303.6 L588.9,303.9 L589.2,304.4 L589.6,305.2 L590.0,306.1 L590.4,307.2 L590.8,308.5 L591.2,309.8 L591.6,311.2 L592.0,312.6 L592.4,314.0 L592.8,315.4 L593.2,316.6 L593.6,317.8 L594.0,318.9 L594.3,319.8 L594.7,320.5 L595.1,320.9 L595.5,321.1 L595.9,321.0 L596.3,320.4 L596.7,319.5 L597.1,318.3 L597.5,316.8 L597.9,315.0 L598.3,313.0 L598.7,310.9 L599.1,308.6 L599.5,306.3 L599.8,303.9 L600.2,301.6 L600.6,299.3 L601.0,297.1 L601.4,295.0 L601.8,293.1 L602.2,291.5 L602.6,290.1 L603.0,289.0 L603.4,288.2 L603.8,287.9 L604.2,287.9 L604.6,288.0 L605.0,288.3 L605.3,288.6 L605.7,289.1 L606.1,289.6 L606.5,290.2 L606.9,290.9 L607.3,291.6 L607.7,292.3 L608.1,293.1 L608.5,293.8 L608.9,294.6 L609.3,295.4 L609.7,296.1 L610.1,296.9 L610.5,297.5 L610.8,298.2 L611.2,298.7 L611.6,299.2 L612.0,299.6 L612.4,300.0 L612.8,300.2 L613.2,300.3 L613.6,300.3 L614.0,300.1 L614.4,300.0 L614.8,299.7 L615.2,299.4 L615.6,299.1 L615.9,298.8 L616.3,298.4 L616.7,298.1 L617.1,297.9 L617.5,297.6 L617.9,297.5 L618.3,297.5 L618.7,297.5 L619.1,297.6 L619.5,297.8 L619.9,298.1 L620.3,298.4 L620.7,298.8 L621.1,299.2 L621.4,299.7 L621.8,300.3 L622.2,300.9 L622.6,301.5 L623.0,302.1 L623.4,302.8 L623.8,303.4 L624.2,304.1 L624.6,304.8 L625.0,305.5 L625.4,306.1 L625.8,306.8 L626.2,307.5 L626.6,308.1 L626.9,308.7 L627.3,309.2 L627.7,309.8 L628.1,310.2 L628.5,310.7 L628.9,311.0 L629.3,311.3 L629.7,311.6 L630.1,311.7 L630.5,311.8 L630.9,311.8 L631.3,311.8 L631.7,311.7 L632.1,311.5 L632.4,311.3 L632.8,311.1 L633.2,310.9 L633.6,310.7 L634.0,310.5 L634.4,310.3 L634.8,310.2 L635.2,310.1 L635.6,310.0 L636.0,310.1 L636.4,310.1 L636.8,310.2 L637.2,310.3 L637.5,310.5 L637.9,310.6 L638.3,310.7 L638.7,310.9 L639.1,311.0 L639.5,311.0 L639.9,311.1 L640.3,311.1 L640.7,311.0 L641.1,310.9 L641.5,310.8 L641.9,310.7 L642.3,310.6 L642.7,310.4 L643.0,310.3 L643.4,310.1 L643.8,309.9 L644.2,309.7 L644.6,309.5 L645.0,309.3 L645.4,309.1 L645.8,308.9 L646.2,308.8 L646.6,308.6 L647.0,308.5 L647.4,308.3 L647.8,308.2 L648.2,308.2 L648.5,308.1 L648.9,308.1 L649.3,308.1 L649.7,308.1 L650.1,308.1 L650.5,308.2 L650.9,308.2 L651.3,308.3 L651.7,308.4 L652.1,308.5 L652.5,308.6 L652.9,308.7 L653.3,308.8 L653.7,309.0 L654.0,309.2 L654.4,309.3 L654.8,309.5 L655.2,309.7 L655.6,309.9 L656.0,310.1 L656.4,310.4" stroke="#10e6f4"/>
<path d="M499.7,335.2 L500.1,334.8 L500.5,334.3 L500.9,333.9 L501.3,333.5 L501.7,333.1 L502.1,332.7 L502.4,332.3 L502.8,332.0 L503.2,331.7 L503.6,331.4 L504.0,331.1 L504.4,330.9 L504.8,330.7 L505.2,330.6 L505.6,330.4 L506.0,330.4 L506.4,330.3 L506.8,330.4 L507.2,330.4 L507.6,330.5 L507.9,330.6 L508.3,330.8 L508.7,330.9 L509.1,331.1 L509.5,331.4 L509.9,331.6 L510.3,331.9 L510.7,332.1 L511.1,332.4 L511.5,332.7 L511.9,333.0 L512.3,333.3 L512.7,333.6 L513.1,333.9 L513.4,334.2 L513.8,334.5 L514.2,334.8 L514.6,335.0 L515.0,335.3 L515.4,335.5 L515.8,335.7 L516.2,335.8 L516.6,336.0 L517.0,336.1 L517.4,336.2 L517.8,336.2 L518.2,336.2 L518.6,336.1 L518.9,335.8 L519.3,335.4 L519.7,334.9 L520.1,334.3 L520.5,333.6 L520.9,332.9 L521.3,332.1 L521.7,331.2 L522.1,330.3 L522.5,329.5 L522.9,328.6 L523.3,327.8 L523.7,327.0 L524.0,326.2 L524.4,325.5 L524.8,324.9 L525.2,324.4 L525.6,324.0 L526.0,323.8 L526.4,323.7 L526.8,323.7 L527.2,323.7 L527.6,323.7 L528.0,323.7 L528.4,323.8 L528.8,323.9 L529.2,323.9 L529.5,324.0 L529.9,324.1 L530.3,324.2 L530.7,324.3 L531.1,324.4 L531.5,324.5 L531.9,324.7 L532.3,325.0 L532.7,325.3 L533.1,325.8 L533.5,326.3 L533.9,326.9 L534.3,327.5 L534.7,328.2 L535.0,328.9 L535.4,329.6 L535.8,330.4 L536.2,331.1 L536.6,331.9 L537.0,332.6 L537.4,333.4 L537.8,334.3 L538.2,335.4 L538.6,336.5 L539.0,337.8 L539.4,339.0 L539.8,340.2 L540.2,341.4 L540.5,342.4 L540.9,343.3 L541.3,344.0 L541.7,344.5 L542.1,344.7 L542.5,344.5 L542.9,344.0 L543.3,343.1 L543.7,342.0 L544.1,340.6 L544.5,339.1 L544.9,337.4 L545.3,335.7 L545.6,333.9 L546.0,332.2 L546.4,330.5 L546.8,329.0 L547.2,327.7 L547.6,326.4 L548.0,325.1 L548.4,323.7 L548.8,322.4 L549.2,321.0 L549.6,319.7 L550.0,318.4 L550.4,317.2 L550.8,316.0 L551.1,315.0 L551.5,314.0 L551.9,313.2 L552.3,312.5 L552.7,311.9 L553.1,311.4 L553.5,311.0 L553.9,310.6 L554.3,310.2 L554.7,309.8 L555.1,309.4 L555.5,309.0 L555.9,308.5 L556.3,308.0 L556.6,307.3 L557.0,306.4 L557.4,305.4 L557.8,304.2 L558.2,302.8 L558.6,301.3 L559.0,299.8 L559.4,298.1 L559.8,296.4 L560.2,294.7 L560.6,292.9 L561.0,291.2 L561.4,289.4 L561.8,287.8 L562.1,286.1 L562.5,284.6 L562.9,283.2 L563.3,282.0 L563.7,280.9 L564.1,279.9 L564.5,279.2 L564.9,278.7 L565.3,278.4 L565.7,278.3 L566.1,278.4 L566.5,278.6 L566.9,278.9 L567.2,279.2 L567.6,279.7 L568.0,280.2 L568.4,280.7 L568.8,281.3 L569.2,282.0 L569.6,282.7 L570.0,283.4 L570.4,284.2 L570.8,285.0 L571.2,285.8 L571.6,286.6 L572.0,287.4 L572.4,288.1 L572.7,288.9 L573.1,289.7 L573.5,290.4 L573.9,291.1 L574.3,291.8 L574.7,292.5 L575.1,293.2 L575.5,293.9 L575.9,294.7 L576.3,295.5 L576.7,296.2 L577.1,297.0 L577.5,297.9 L577.9,298.7 L578.2,299.6 L578.6,300.5 L579.0,301.5 L579.4,302.6 L579.8,303.9 L580.2,305.3 L580.6,306.8 L581.0,308.3 L581.4,309.8 L581.8,311.3 L582.2,312.6 L582.6,313.8 L583.0,314.8 L583.4,315.5 L583.7,316.0 L584.1,316.3 L584.5,316.5 L584.9,316.6 L585.3,316.8 L585.7,316.9 L586.1,317.0 L586.5,317.1 L586.9,317.2 L587.3,317.3 L587.7,317.5 L588.1,317.7 L588.5,317.9 L588.9,318.3 L589.2,318.8 L589.6,319.3 L590.0,320.0 L590.4,320.8 L590.8,321.6 L591.2,322.5 L591.6,323.4 L592.0,324.4 L592.4,325.3 L592.8,326.3 L593.2,327.3 L593.6,328.2 L594.0,329.1 L594.3,330.0 L594.7,330.8 L595.1,331.5 L595.5,332.1 L595.9,332.7 L596.3,333.1 L596.7,333.4 L597.1,333.5 L597.5,333.6 L597.9,333.4 L598.3,333.1 L598.7,332.8 L599.1,332.3 L599.5,331.8 L599.8,331.3 L600.2,330.7 L600.6,330.2 L601.0,329.8 L601.4,329.4 L601.8,329.1 L602.2,329.0 L602.6,329.0 L603.0,329.1 L603.4,329.2 L603.8,329.4 L604.2,329.6 L604.6,329.8 L605.0,330.1 L605.3,330.4 L605.7,330.7 L606.1,331.1 L606.5,331.5 L606.9,331.9 L607.3,332.3 L607.7,332.7 L608.1,333.1 L608.5,333.5 L608.9,333.9 L609.3,334.2 L609.7,334.6 L610.1,334.9 L610.5,335.2 L610.8,335.5 L611.2,335.8 L611.6,336.0 L612.0,336.1 L612.4,336.3 L612.8,336.3 L613.2,336.4 L613.6,336.5 L614.0,336.6 L614.4,336.6 L614.8,336.7 L615.2,336.7 L615.6,336.8 L615.9,336.8 L616.3,336.9 L616.7,336.9 L617.1,337.0 L617.5,337.0 L617.9,337.1 L618.3,337.1 L618.7,337.2 L619.1,337.3 L619.5,337.4 L619.9,337.5 L620.3,337.6 L620.7,337.7 L621.1,337.9 L621.4,338.0 L621.8,338.2 L622.2,338.4 L622.6,338.5 L623.0,338.7 L623.4,338.9 L623.8,339.0 L624.2,339.2 L624.6,339.4 L625.0,339.5 L625.4,339.7 L625.8,339.8 L626.2,340.0 L626.6,340.1 L626.9,340.2 L627.3,340.3 L627.7,340.4 L628.1,340.5 L628.5,340.5 L628.9,340.6 L629.3,340.6 L629.7,340.6 L630.1,340.6 L630.5,340.7 L630.9,340.7 L631.3,340.7 L631.7,340.7 L632.1,340.7 L632.4,340.7 L632.8,340.7 L633.2,340.8 L633.6,340.8 L634.0,340.8 L634.4,340.8 L634.8,340.8 L635.2,340.8 L635.6,340.8 L636.0,340.8 L636.4,340.8 L636.8,340.9 L637.2,340.9 L637.5,340.9 L637.9,340.9 L638.3,340.9 L638.7,340.9 L639.1,341.0 L639.5,341.0 L639.9,341.0 L640.3,341.0 L640.7,341.1 L641.1,341.1 L641.5,341.1 L641.9,341.2 L642.3,341.2 L642.7,341.3 L643.0,341.3 L643.4,341.3 L643.8,341.4 L644.2,341.4 L644.6,341.5 L645.0,341.5 L645.4,341.6 L645.8,341.6 L646.2,341.7 L646.6,341.8 L647.0,341.8 L647.4,341.9 L647.8,341.9 L648.2,342.0 L648.5,342.1 L648.9,342.1 L649.3,342.2 L649.7,342.3 L650.1,342.3 L650.5,342.4 L650.9,342.5 L651.3,342.6 L651.7,342.6 L652.1,342.7 L652.5,342.8 L652.9,342.9 L653.3,343.0 L653.7,343.0 L654.0,343.1 L654.4,343.2 L654.8,343.3 L655.2,343.4 L655.6,343.5 L656.0,343.6 L656.4,343.6" stroke="#ff7f1c"/>
<path d="M499.7,286.9 L500.1,287.5 L500.5,288.0 L500.9,288.5 L501.3,288.9 L501.7,289.4 L502.1,289.8 L502.4,290.1 L502.8,290.4 L503.2,290.6 L503.6,290.8 L504.0,290.9 L504.4,290.9 L504.8,290.9 L505.2,290.9 L505.6,290.8 L506.0,290.7 L506.4,290.6 L506.8,290.5 L507.2,290.4 L507.6,290.4 L507.9,290.4 L508.3,290.4 L508.7,290.7 L509.1,291.1 L509.5,291.7 L509.9,292.4 L510.3,293.1 L510.7,294.0 L511.1,294.9 L511.5,295.9 L511.9,296.8 L512.3,297.8 L512.7,298.7 L513.1,299.6 L513.4,300.4 L513.8,301.1 L514.2,301.7 L514.6,302.5 L515.0,303.3 L515.4,304.1 L515.8,304.9 L516.2,305.7 L516.6,306.4 L517.0,307.1 L517.4,307.6 L517.8,308.1 L518.2,308.5 L518.6,308.7 L518.9,308.7 L519.3,308.3 L519.7,307.4 L520.1,306.2 L520.5,304.6 L520.9,302.8 L521.3,300.7 L521.7,298.4 L522.1,296.0 L522.5,293.5 L522.9,291.0 L523.3,288.5 L523.7,286.1 L524.0,283.9 L524.4,281.8 L524.8,280.0 L525.2,278.4 L525.6,277.2 L526.0,276.4 L526.4,276.1 L526.8,276.1 L527.2,276.3 L527.6,276.7 L528.0,277.3 L528.4,277.9 L528.8,278.6 L529.2,279.4 L529.5,280.3 L529.9,281.2 L530.3,282.0 L530.7,282.8 L531.1,283.6 L531.5,284.3 L531.9,284.9 L532.3,285.5 L532.7,286.1 L533.1,286.7 L533.5,287.3 L533.9,287.9 L534.3,288.5 L534.7,289.2 L535.0,290.0 L535.4,290.9 L535.8,292.1 L536.2,293.7 L536.6,295.6 L537.0,297.8 L537.4,300.2 L537.8,302.8 L538.2,305.5 L538.6,308.4 L539.0,311.2 L539.4,314.1 L539.8,316.9 L540.2,319.6 L540.5,322.1 L540.9,324.4 L541.3,326.5 L541.7,328.2 L542.1,329.6 L542.5,330.6 L542.9,331.1 L543.3,331.1 L543.7,330.6 L544.1,329.6 L544.5,328.2 L544.9,326.3 L545.3,324.1 L545.6,321.6 L546.0,318.9 L546.4,315.9 L546.8,312.8 L547.2,309.6 L547.6,306.3 L548.0,302.9 L548.4,299.6 L548.8,296.4 L549.2,293.3 L549.6,290.3 L550.0,287.6 L550.4,285.1 L550.8,282.9 L551.1,281.0 L551.5,279.6 L551.9,278.6 L552.3,278.1 L552.7,278.1 L553.1,278.3 L553.5,278.7 L553.9,279.3 L554.3,280.0 L554.7,280.6 L555.1,281.3 L555.5,281.8 L555.9,282.2 L556.3,282.5 L556.6,282.4 L557.0,281.7 L557.4,280.5 L557.8,278.8 L558.2,276.6 L558.6,274.0 L559.0,271.1 L559.4,268.0 L559.8,264.6 L560.2,261.2 L560.6,257.6 L561.0,254.0 L561.4,250.5 L561.8,247.1 L562.1,243.9 L562.5,240.9 L562.9,238.2 L563.3,235.8 L563.7,233.9 L564.1,232.4 L564.5,231.5 L564.9,231.2 L565.3,231.5 L565.7,232.3 L566.1,233.5 L566.5,235.0 L566.9,236.9 L567.2,238.9 L567.6,241.0 L568.0,243.2 L568.4,245.4 L568.8,247.4 L569.2,249.3 L569.6,250.8 L570.0,252.1 L570.4,252.9 L570.8,253.3 L571.2,253.1 L571.6,252.6 L572.0,251.6 L572.4,250.4 L572.7,248.9 L573.1,247.2 L573.5,245.4 L573.9,243.5 L574.3,241.6 L574.7,239.8 L575.1,238.0 L575.5,236.4 L575.9,235.0 L576.3,233.8 L576.7,233.0 L577.1,232.6 L577.5,232.6 L577.9,233.2 L578.2,234.2 L578.6,235.7 L579.0,237.5 L579.4,239.6 L579.8,242.0 L580.2,244.6 L580.6,247.2 L581.0,250.0 L581.4,252.7 L581.8,255.4 L582.2,257.9 L582.6,260.2 L583.0,262.3 L583.4,264.0 L583.7,265.4 L584.1,266.3 L584.5,266.7 L584.9,266.7 L585.3,266.4 L585.7,266.0 L586.1,265.5 L586.5,265.0 L586.9,264.5 L587.3,264.1 L587.7,263.9 L588.1,263.9 L588.5,264.4 L588.9,265.4 L589.2,266.8 L589.6,268.7 L590.0,270.8 L590.4,273.2 L590.8,275.9 L591.2,278.7 L591.6,281.5 L592.0,284.4 L592.4,287.3 L592.8,290.1 L593.2,292.7 L593.6,295.1 L594.0,297.2 L594.3,298.9 L594.7,300.3 L595.1,301.2 L595.5,301.6 L595.9,301.4 L596.3,300.7 L596.7,299.5 L597.1,297.9 L597.5,295.9 L597.9,293.5 L598.3,290.9 L598.7,288.1 L599.1,285.2 L599.5,282.1 L599.8,279.0 L600.2,276.0 L600.6,273.0 L601.0,270.1 L601.4,267.4 L601.8,264.9 L602.2,262.7 L602.6,260.9 L603.0,259.4 L603.4,258.5 L603.8,258.0 L604.2,258.0 L604.6,258.3 L605.0,258.7 L605.3,259.4 L605.7,260.2 L606.1,261.1 L606.5,262.2 L606.9,263.4 L607.3,264.7 L607.7,266.0 L608.1,267.3 L608.5,268.7 L608.9,270.1 L609.3,271.4 L609.7,272.7 L610.1,274.0 L610.5,275.1 L610.8,276.2 L611.2,277.1 L611.6,277.9 L612.0,278.5 L612.4,278.9 L612.8,279.2 L613.2,279.2 L613.6,279.1 L614.0,279.0 L614.4,278.8 L614.8,278.6 L615.2,278.3 L615.6,278.1 L615.9,277.8 L616.3,277.6 L616.7,277.3 L617.1,277.2 L617.5,277.1 L617.9,277.0 L618.3,277.0 L618.7,277.2 L619.1,277.4 L619.5,277.8 L619.9,278.2 L620.3,278.7 L620.7,279.3 L621.1,279.9 L621.4,280.7 L621.8,281.4 L622.2,282.2 L622.6,283.0 L623.0,283.9 L623.4,284.8 L623.8,285.6 L624.2,286.5 L624.6,287.4 L625.0,288.2 L625.4,289.1 L625.8,289.9 L626.2,290.6 L626.6,291.3 L626.9,292.0 L627.3,292.6 L627.7,293.1 L628.1,293.5 L628.5,293.9 L628.9,294.1 L629.3,294.3 L629.7,294.3 L630.1,294.2 L630.5,294.0 L630.9,293.7 L631.3,293.3 L631.7,292.8 L632.1,292.3 L632.4,291.9 L632.8,291.4 L633.2,291.0 L633.6,290.6 L634.0,290.4 L634.4,290.2 L634.8,290.2 L635.2,290.3 L635.6,290.5 L636.0,290.7 L636.4,290.9 L636.8,291.2 L637.2,291.5 L637.5,291.7 L637.9,292.0 L638.3,292.1 L638.7,292.2 L639.1,292.3 L639.5,292.2 L639.9,292.2 L640.3,292.1 L640.7,292.0 L641.1,291.8 L641.5,291.7 L641.9,291.5 L642.3,291.3 L642.7,291.1 L643.0,290.9 L643.4,290.7 L643.8,290.5 L644.2,290.3 L644.6,290.1 L645.0,289.9 L645.4,289.7 L645.8,289.5 L646.2,289.3 L646.6,289.1 L647.0,289.0 L647.4,288.8 L647.8,288.7 L648.2,288.6 L648.5,288.6 L648.9,288.6 L649.3,288.6 L649.7,288.6 L650.1,288.6 L650.5,288.7 L650.9,288.8 L651.3,288.9 L651.7,289.1 L652.1,289.2 L652.5,289.4 L652.9,289.6 L653.3,289.8 L653.7,290.0 L654.0,290.2 L654.4,290.5 L654.8,290.8 L655.2,291.0 L655.6,291.3 L656.0,291.6 L656.4,291.9" stroke="#e6141c"/>
</g>
<rect x="499.7" y="219" width="156.7" height="125.89999999999998" fill="none" stroke="#222" stroke-width="1.1"/>
<path d="M499.7,344.9h-2.6 M499.7,329.2h-2.6 M499.7,313.4h-2.6 M499.7,297.7h-2.6 M499.7,281.9h-2.6 M499.7,266.2h-2.6 M499.7,250.5h-2.6 M499.7,234.7h-2.6 M499.7,219.0h-2.6 M499.7,337.0h-1.5 M499.7,321.3h-1.5 M499.7,305.6h-1.5 M499.7,289.8h-1.5 M499.7,274.1h-1.5 M499.7,258.3h-1.5 M499.7,242.6h-1.5 M499.7,226.9h-1.5 M499.7,344.9v2.6 M515.4,344.9v2.6 M531.0,344.9v2.6 M546.7,344.9v2.6 M562.4,344.9v2.6 M578.0,344.9v2.6 M593.7,344.9v2.6 M609.4,344.9v2.6 M625.1,344.9v2.6 M640.7,344.9v2.6 M656.4,344.9v2.6 M507.5,344.9v1.5 M523.2,344.9v1.5 M538.9,344.9v1.5 M554.5,344.9v1.5 M570.2,344.9v1.5 M585.9,344.9v1.5 M601.6,344.9v1.5 M617.2,344.9v1.5 M632.9,344.9v1.5 M648.6,344.9v1.5" stroke="#222" stroke-width="0.8" fill="none"/>
<text class="se" x="495.4" y="348.4" font-size="11.1" text-anchor="end" fill="#222">0</text>
<text class="se" x="495.4" y="332.7" font-size="11.1" text-anchor="end" fill="#222">20</text>
<text class="se" x="495.4" y="316.9" font-size="11.1" text-anchor="end" fill="#222">40</text>
<text class="se" x="495.4" y="301.2" font-size="11.1" text-anchor="end" fill="#222">60</text>
<text class="se" x="495.4" y="285.4" font-size="11.1" text-anchor="end" fill="#222">80</text>
<text class="se" x="495.4" y="269.7" font-size="11.1" text-anchor="end" fill="#222">100</text>
<text class="se" x="495.4" y="254.0" font-size="11.1" text-anchor="end" fill="#222">120</text>
<text class="se" x="495.4" y="238.2" font-size="11.1" text-anchor="end" fill="#222">140</text>
<text class="se" x="495.4" y="222.5" font-size="11.1" text-anchor="end" fill="#222">160</text>
<path d="M494.1,354.79999999999995h4.2" stroke="#222" stroke-width="0.9"/>
<text x="499.2" y="358.29999999999995" font-size="10.9" fill="#222">5</text>
<path d="M509.8,354.79999999999995h4.2" stroke="#222" stroke-width="0.9"/>
<text x="514.9" y="358.29999999999995" font-size="10.9" fill="#222">4</text>
<path d="M525.5,354.79999999999995h4.2" stroke="#222" stroke-width="0.9"/>
<text x="530.6" y="358.29999999999995" font-size="10.9" fill="#222">3</text>
<path d="M541.1,354.79999999999995h4.2" stroke="#222" stroke-width="0.9"/>
<text x="546.2" y="358.29999999999995" font-size="10.9" fill="#222">2</text>
<path d="M556.8,354.79999999999995h4.2" stroke="#222" stroke-width="0.9"/>
<text x="561.9" y="358.29999999999995" font-size="10.9" fill="#222">1</text>
<text x="578.0" y="358.29999999999995" font-size="10.9" text-anchor="middle" fill="#222">0</text>
<text x="593.7" y="358.29999999999995" font-size="10.9" text-anchor="middle" fill="#222">1</text>
<text x="609.4" y="358.29999999999995" font-size="10.9" text-anchor="middle" fill="#222">2</text>
<text x="625.1" y="358.29999999999995" font-size="10.9" text-anchor="middle" fill="#222">3</text>
<text x="640.7" y="358.29999999999995" font-size="10.9" text-anchor="middle" fill="#222">4</text>
<text x="656.4" y="358.29999999999995" font-size="10.9" text-anchor="middle" fill="#222">5</text>
<text x="578.55" y="372.09999999999997" font-size="10.8" text-anchor="middle" fill="#222">Energy (eV)</text>
<text transform="translate(474.59999999999997,282.84999999999997) rotate(-90)" font-size="10.8" text-anchor="middle" fill="#222">Density of States (electrons/eV)</text>
<path d="M619.6,223.4H637.9" stroke="#1414c8" stroke-width="1.05"/>
<text x="640.4" y="226.6" font-size="8.8" fill="#222">s</text>
<path d="M619.6,234.0H637.9" stroke="#10e6f4" stroke-width="1.05"/>
<text x="640.4" y="237.2" font-size="8.8" fill="#222">p</text>
<path d="M619.6,244.0H637.9" stroke="#ff7f1c" stroke-width="1.05"/>
<text x="640.4" y="247.2" font-size="8.8" fill="#222">d</text>
<path d="M619.6,254.3H637.9" stroke="#e6141c" stroke-width="1.05"/>
<text x="640.4" y="257.5" font-size="8.8" fill="#222">sum</text>
<rect x="52" y="396.2" width="296.3" height="25" fill="#4472c4"/>
<rect x="52" y="421.2" width="296.3" height="149.6" fill="url(#pot)"/>
<rect x="52" y="570.5" width="296.3" height="26" fill="#ff7c80"/>
<rect x="353" y="396.2" width="294.20000000000005" height="25" fill="#4472c4"/>
<rect x="353" y="421.2" width="294.20000000000005" height="149.6" fill="url(#pot2)"/>
<rect x="353" y="570.5" width="294.20000000000005" height="26" fill="#ff7c80"/>
<path d="M52,432.8L299.5,432.3L316,421 M353,432.4H409 M417,432.3L436,421.6 M417,432.3H647.2" stroke="#1a0000" stroke-opacity="0.55" stroke-width="0.7" fill="none"/>
<path d="M52,435.2L348.3,433.8" stroke="#1a0000" stroke-opacity="0.4" stroke-width="0.6" fill="none"/>
<path d="M52,442.9L348.3,441.1 M353,442.9L647.2,441.1" stroke="#400000" stroke-opacity="0.07" stroke-width="0.6"/>
<path d="M52,450.4L348.3,448.6 M353,450.4L647.2,448.6" stroke="#400000" stroke-opacity="0.07" stroke-width="0.6"/>
<path d="M52,457.9L348.3,456.1 M353,457.9L647.2,456.1" stroke="#400000" stroke-opacity="0.07" stroke-width="0.6"/>
<path d="M52,465.4L348.3,463.6 M353,465.4L647.2,463.6" stroke="#400000" stroke-opacity="0.07" stroke-width="0.6"/>
<path d="M52,472.9L348.3,471.1 M353,472.9L647.2,471.1" stroke="#400000" stroke-opacity="0.07" stroke-width="0.6"/>
<path d="M52,480.4L348.3,478.6 M353,480.4L647.2,478.6" stroke="#400000" stroke-opacity="0.07" stroke-width="0.6"/>
<path d="M52,487.9L348.3,486.1 M353,487.9L647.2,486.1" stroke="#400000" stroke-opacity="0.07" stroke-width="0.6"/>
<path d="M52,495.4L348.3,493.6 M353,495.4L647.2,493.6" stroke="#400000" stroke-opacity="0.07" stroke-width="0.6"/>
<path d="M52,502.9L348.3,501.1 M353,502.9L647.2,501.1" stroke="#8a7a20" stroke-opacity="0.16" stroke-width="0.55"/>
<path d="M52,509.6L348.3,507.8 M353,509.6L647.2,507.8" stroke="#8a7a20" stroke-opacity="0.16" stroke-width="0.55"/>
<path d="M52,516.3L348.3,514.5 M353,516.3L647.2,514.5" stroke="#8a7a20" stroke-opacity="0.16" stroke-width="0.55"/>
<path d="M52,523.0L348.3,521.2 M353,523.0L647.2,521.2" stroke="#8a7a20" stroke-opacity="0.16" stroke-width="0.55"/>
<path d="M52,529.7L348.3,527.9 M353,529.7L647.2,527.9" stroke="#8a7a20" stroke-opacity="0.16" stroke-width="0.55"/>
<path d="M52,536.4L348.3,534.6 M353,536.4L647.2,534.6" stroke="#8a7a20" stroke-opacity="0.16" stroke-width="0.55"/>
<path d="M52,543.1L348.3,541.3 M353,543.1L647.2,541.3" stroke="#8a7a20" stroke-opacity="0.16" stroke-width="0.55"/>
<path d="M52,549.8L348.3,548.0 M353,549.8L647.2,548.0" stroke="#8a7a20" stroke-opacity="0.16" stroke-width="0.55"/>
<path d="M52,556.5L348.3,554.7 M353,556.5L647.2,554.7" stroke="#8a7a20" stroke-opacity="0.16" stroke-width="0.55"/>
<path d="M52,563.2L348.3,561.4 M353,563.2L647.2,561.4" stroke="#8a7a20" stroke-opacity="0.16" stroke-width="0.55"/>
<path d="M52,569.9L348.3,568.1 M353,569.9L647.2,568.1" stroke="#8a7a20" stroke-opacity="0.16" stroke-width="0.55"/>
<path d="M52,557.6H348.3 M353,557.4H647.2" stroke="#303030" stroke-width="0.7"/>
<g fill="#fff" font-size="15.2" text-anchor="middle">
<text x="201.2" y="414.4" textLength="76" lengthAdjust="spacingAndGlyphs">CC@CNTs</text><text x="500.3" y="414.4" textLength="76" lengthAdjust="spacingAndGlyphs">CC@CNTs</text>
<text x="201" y="588.2" fill="#fff2f2" textLength="105.2" lengthAdjust="spacingAndGlyphs">FI/ZIF67@CMF</text><text x="500.4" y="588.2" fill="#fff2f2" textLength="105.2" lengthAdjust="spacingAndGlyphs">FI/ZIF67@CMF</text>
</g>
<text x="163.4" y="459.3" font-size="15.2" fill="#fff">Have H<tspan font-size="9.6" dy="3.5">2</tspan><tspan dy="-3.5">O</tspan></text>
<text x="452.4" y="459.3" font-size="15.2" fill="#fff">Without H<tspan font-size="9.6" dy="3.5">2</tspan><tspan dy="-3.5">O</tspan></text>
<text x="120" y="564" font-size="15.2" fill="#000" textLength="212" lengthAdjust="spacingAndGlyphs">Compressed equipotential lines</text>
<text x="455" y="564" font-size="15.2" fill="#000" textLength="179" lengthAdjust="spacingAndGlyphs">Uniform equipotential lines</text>
<path d="M122,550L103.9,482.6" stroke="#000" stroke-width="1.8" fill="none" marker-end="url(#ah)"/>
<path d="M122,550L163.6,525" stroke="#000" stroke-width="1.8" fill="none" marker-end="url(#ah)"/>
<path d="M122,550L216.8,533.7" stroke="#000" stroke-width="1.8" fill="none" marker-end="url(#ah)"/>
<path d="M122,550L95.2,542.3" stroke="#000" stroke-width="1.8" fill="none" marker-end="url(#ah)"/>
<path d="M432.1,550.3L461.7,492.5" stroke="#000" stroke-width="1.8" fill="none" marker-end="url(#ah)"/>
<path d="M432.1,550.3L559.8,473.1" stroke="#000" stroke-width="1.8" fill="none" marker-end="url(#ah)"/>
<path d="M432.1,550.3L526.6,534.4" stroke="#000" stroke-width="1.8" fill="none" marker-end="url(#ah)"/>
<path d="M432.1,550.3L406.5,542.1" stroke="#000" stroke-width="1.8" fill="none" marker-end="url(#ah)"/>
<g transform="translate(104.8,476.1)"><circle cx="-6.0" cy="2.3" r="2.7" fill="url(#gH)"/><circle cx="5.9" cy="2.2" r="2.7" fill="url(#gH)"/><circle cx="0" cy="0" r="3.9" fill="url(#gO)"/></g>
<g transform="translate(168.2,476.1)"><circle cx="-6.0" cy="2.3" r="2.7" fill="url(#gH)"/><circle cx="5.9" cy="2.2" r="2.7" fill="url(#gH)"/><circle cx="0" cy="0" r="3.9" fill="url(#gO)"/></g>
<g transform="translate(231,492.6)"><circle cx="-6.0" cy="2.3" r="2.7" fill="url(#gH)"/><circle cx="5.9" cy="2.2" r="2.7" fill="url(#gH)"/><circle cx="0" cy="0" r="3.9" fill="url(#gO)"/></g>
<g transform="translate(278.6,474.6)"><circle cx="-6.0" cy="2.3" r="2.7" fill="url(#gH)"/><circle cx="5.9" cy="2.2" r="2.7" fill="url(#gH)"/><circle cx="0" cy="0" r="3.9" fill="url(#gO)"/></g>
<g transform="translate(296.6,460.6)"><circle cx="-6.0" cy="2.3" r="2.7" fill="url(#gH)"/><circle cx="5.9" cy="2.2" r="2.7" fill="url(#gH)"/><circle cx="0" cy="0" r="3.9" fill="url(#gO)"/></g>
<g transform="translate(306,514.9)"><circle cx="-6.0" cy="2.3" r="2.7" fill="url(#gH)"/><circle cx="5.9" cy="2.2" r="2.7" fill="url(#gH)"/><circle cx="0" cy="0" r="3.9" fill="url(#gO)"/></g>
<g transform="translate(173.4,517.7)"><circle cx="-6.0" cy="2.3" r="2.7" fill="url(#gH)"/><circle cx="5.9" cy="2.2" r="2.7" fill="url(#gH)"/><circle cx="0" cy="0" r="3.9" fill="url(#gO)"/></g>
<g transform="translate(231.4,530.9)"><circle cx="-6.0" cy="2.3" r="2.7" fill="url(#gH)"/><circle cx="5.9" cy="2.2" r="2.7" fill="url(#gH)"/><circle cx="0" cy="0" r="3.9" fill="url(#gO)"/></g>
<g transform="translate(86.6,534.5)"><circle cx="-6.0" cy="2.3" r="2.7" fill="url(#gH)"/><circle cx="5.9" cy="2.2" r="2.7" fill="url(#gH)"/><circle cx="0" cy="0" r="3.9" fill="url(#gO)"/></g>
<rect x="33.2" y="422" width="10" height="148.6" fill="#fff"/>
<path d="M33.7,422V570.2H42.7V422" fill="none" stroke="#ababab" stroke-width="1"/>
<path d="M34.1,422.1H42.4" stroke="#4a0000" stroke-width="1"/>
<path d="M34.1,429.9H42.4" stroke="#600000" stroke-width="1"/>
<path d="M34.1,437.6H42.4" stroke="#7c0000" stroke-width="1"/>
<path d="M34.1,445.4H42.4" stroke="#a00000" stroke-width="1"/>
<path d="M34.1,453.2H42.4" stroke="#c40800" stroke-width="1"/>
<path d="M34.1,461.0H42.4" stroke="#dc1400" stroke-width="1"/>
<path d="M34.1,468.7H42.4" stroke="#ee2800" stroke-width="1"/>
<path d="M34.1,476.5H42.4" stroke="#fa4a00" stroke-width="1"/>
<path d="M34.1,484.3H42.4" stroke="#ff7800" stroke-width="1"/>
<path d="M34.1,492.0H42.4" stroke="#ffa000" stroke-width="1"/>
<path d="M34.1,499.8H42.4" stroke="#ffc000" stroke-width="1"/>
<path d="M34.1,507.6H42.4" stroke="#ffd810" stroke-width="1"/>
<path d="M34.1,515.3H42.4" stroke="#ffe828" stroke-width="1"/>
<path d="M34.1,523.1H42.4" stroke="#fff048" stroke-width="1"/>
<path d="M34.1,530.9H42.4" stroke="#fff468" stroke-width="1"/>
<path d="M34.1,538.6H42.4" stroke="#fff888" stroke-width="1"/>
<path d="M34.1,546.4H42.4" stroke="#fffaa0" stroke-width="1"/>
<path d="M34.1,554.2H42.4" stroke="#fffcb8" stroke-width="1"/>
<path d="M34.1,562.0H42.4" stroke="#fffdd0" stroke-width="1"/>
<path d="M34.1,569.7H42.4" stroke="#ffffe6" stroke-width="1"/>
<g font-size="12" text-anchor="end" fill="#000">
<text x="29" y="434.4" textLength="16.4" lengthAdjust="spacingAndGlyphs">(V)</text>
<text x="29" y="457.5" textLength="28.2" lengthAdjust="spacingAndGlyphs">-2.10</text>
<text x="29" y="480.8" textLength="28.2" lengthAdjust="spacingAndGlyphs">-1.70</text>
<text x="29" y="504.1" textLength="28.2" lengthAdjust="spacingAndGlyphs">-1.29</text>
<text x="29" y="527.4" textLength="28.2" lengthAdjust="spacingAndGlyphs">-0.88</text>
<text x="29" y="550.7" textLength="28.2" lengthAdjust="spacingAndGlyphs">-0.47</text>
<text x="29" y="574.0" textLength="28.2" lengthAdjust="spacingAndGlyphs">-0.07</text>
</g>
<rect x="651" y="423" width="8.2" height="147.5" fill="url(#vbar)" stroke="#8a8a8a" stroke-width="0.8"/>
<g font-size="12.2" fill="#000">
<text x="663.8" y="435.4" font-size="12">(V)</text>
<path d="M659.2,451.2h3" stroke="#444" stroke-width="0.8"/>
<text x="664.0" y="455.59999999999997">-2.0</text>
<path d="M659.2,481.3h3" stroke="#444" stroke-width="0.8"/>
<text x="664.0" y="485.7">-1.5</text>
<path d="M659.2,511.3h3" stroke="#444" stroke-width="0.8"/>
<text x="664.0" y="515.7">-1.0</text>
<path d="M659.2,541.1h3" stroke="#444" stroke-width="0.8"/>
<text x="664.0" y="545.5">-0.5</text>
<path d="M659.2,570.4h3" stroke="#444" stroke-width="0.8"/>
<text x="664.6" y="574.8">0</text>
</g>
</svg></body></html>
